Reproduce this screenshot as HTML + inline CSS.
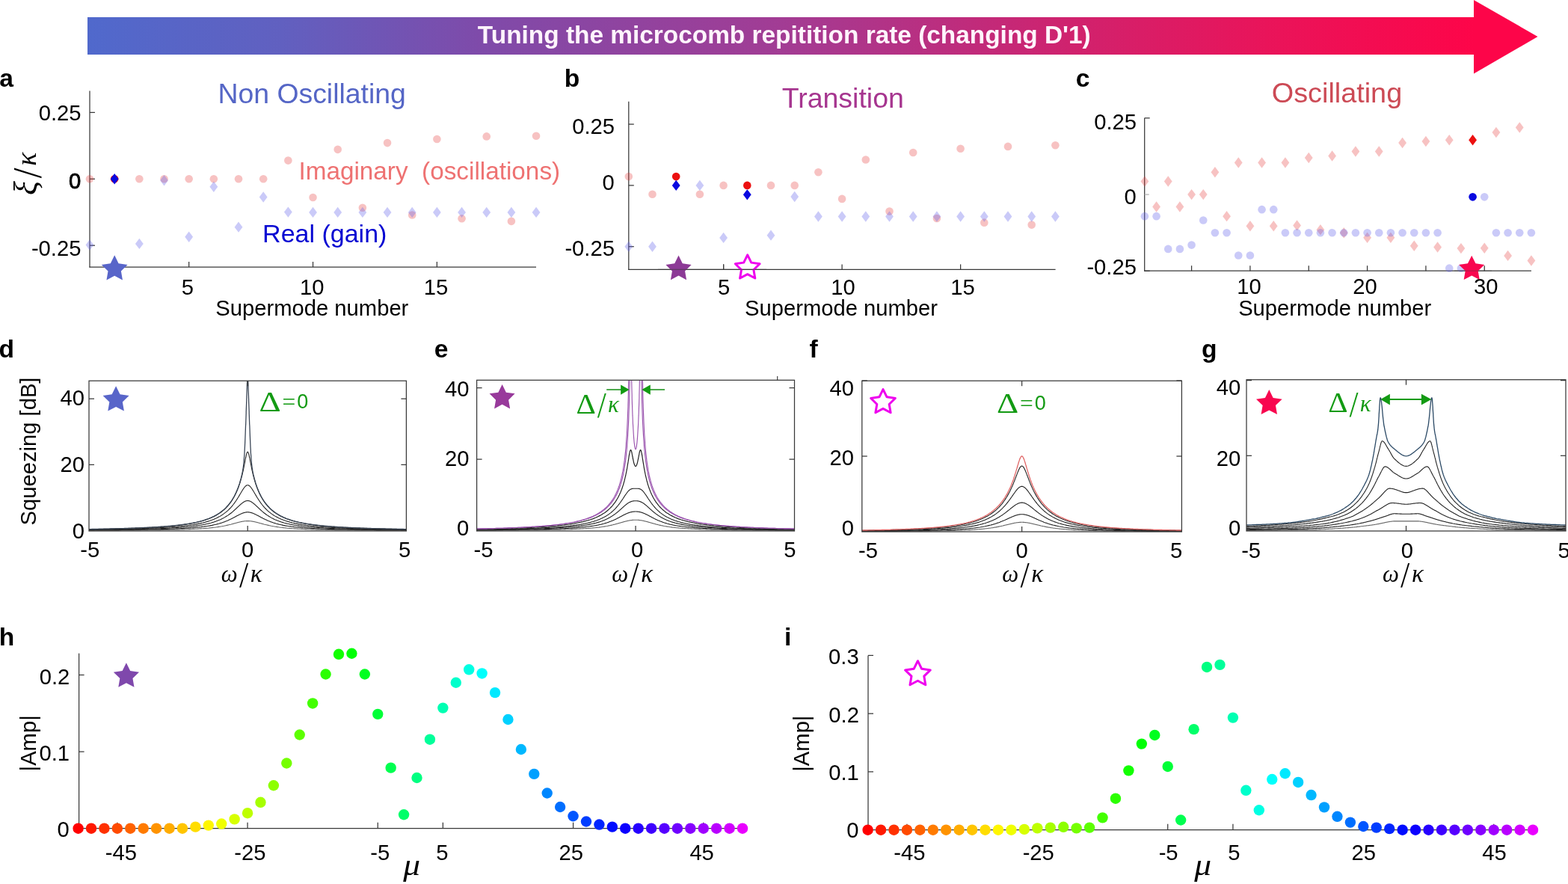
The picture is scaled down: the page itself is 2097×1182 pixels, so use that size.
<!DOCTYPE html>
<html><head><meta charset="utf-8"><title>Microcomb supermode tuning</title>
<style>html,body{margin:0;padding:0;background:#fff;overflow:hidden;} svg{display:block;}</style></head>
<body>
<svg width="2097" height="1182" viewBox="0 0 2097 1182">
<rect width="2097" height="1182" fill="#fff"/>
<defs><linearGradient id="bg" gradientUnits="userSpaceOnUse" x1="117" y1="0" x2="1972" y2="0"><stop offset="0" stop-color="#5069CC"/><stop offset="0.14" stop-color="#6160C0"/><stop offset="0.28" stop-color="#7E4BAA"/><stop offset="0.50" stop-color="#A23C94"/><stop offset="0.72" stop-color="#D2216C"/><stop offset="0.85" stop-color="#E9145A"/><stop offset="1" stop-color="#FD0549"/></linearGradient></defs>
<polygon points="117,23 1971,23 1971,0 2056.5,49 1971,98.5 1971,73 117,73" fill="url(#bg)"/>
<text x="638.87" y="57.6" font-family="'Liberation Sans', Arial, Helvetica, sans-serif" font-size="33.4" font-weight="bold" font-style="normal" fill="#FFF4FC" >Tuning the microcomb repitition rate (changing D'1)</text>
<text x="-0.71" y="116.3" font-family="'Liberation Sans', Arial, Helvetica, sans-serif" font-size="33.6" font-weight="bold" font-style="normal" fill="#000" >a</text>
<text x="754.72" y="116.3" font-family="'Liberation Sans', Arial, Helvetica, sans-serif" font-size="33.6" font-weight="bold" font-style="normal" fill="#000" >b</text>
<text x="1438.66" y="116.3" font-family="'Liberation Sans', Arial, Helvetica, sans-serif" font-size="33.6" font-weight="bold" font-style="normal" fill="#000" >c</text>
<text x="-1.64" y="478.2" font-family="'Liberation Sans', Arial, Helvetica, sans-serif" font-size="33.6" font-weight="bold" font-style="normal" fill="#000" >d</text>
<text x="580.86" y="478.2" font-family="'Liberation Sans', Arial, Helvetica, sans-serif" font-size="33.6" font-weight="bold" font-style="normal" fill="#000" >e</text>
<text x="1082.5" y="478.2" font-family="'Liberation Sans', Arial, Helvetica, sans-serif" font-size="33.6" font-weight="bold" font-style="normal" fill="#000" >f</text>
<text x="1607.06" y="478.2" font-family="'Liberation Sans', Arial, Helvetica, sans-serif" font-size="33.6" font-weight="bold" font-style="normal" fill="#000" >g</text>
<text x="-1.35" y="862.6" font-family="'Liberation Sans', Arial, Helvetica, sans-serif" font-size="33.6" font-weight="bold" font-style="normal" fill="#000" >h</text>
<text x="1048.95" y="862.6" font-family="'Liberation Sans', Arial, Helvetica, sans-serif" font-size="33.6" font-weight="bold" font-style="normal" fill="#000" >i</text>
<line x1="120" y1="121.5" x2="120" y2="357.62" stroke="#383838" stroke-width="1.25"/>
<line x1="119.38" y1="357" x2="717" y2="357" stroke="#383838" stroke-width="1.25"/>
<line x1="120" y1="150.4" x2="127" y2="150.4" stroke="#383838" stroke-width="1.25"/>
<text x="51.67" y="161.07" font-family="'Liberation Sans', Arial, Helvetica, sans-serif" font-size="29.2" font-weight="normal" font-style="normal" fill="#000" >0.25</text>
<line x1="120" y1="239.3" x2="127" y2="239.3" stroke="#383838" stroke-width="1.25"/>
<text x="92.12" y="252.07" font-family="'Liberation Sans', Arial, Helvetica, sans-serif" font-size="29.2" font-weight="normal" font-style="normal" fill="#000" stroke="#000" stroke-width="0.9">0</text>
<line x1="120" y1="328.2" x2="127" y2="328.2" stroke="#383838" stroke-width="1.25"/>
<text x="41.89" y="341.67" font-family="'Liberation Sans', Arial, Helvetica, sans-serif" font-size="29.2" font-weight="normal" font-style="normal" fill="#000" >-0.25</text>
<line x1="252.68" y1="357" x2="252.68" y2="350" stroke="#383838" stroke-width="1.25"/>
<text x="242.7" y="393.61" font-family="'Liberation Sans', Arial, Helvetica, sans-serif" font-size="29.2" font-weight="normal" font-style="normal" fill="#000" >5</text>
<line x1="418.53" y1="357" x2="418.53" y2="350" stroke="#383838" stroke-width="1.25"/>
<text x="400.91" y="393.61" font-family="'Liberation Sans', Arial, Helvetica, sans-serif" font-size="29.2" font-weight="normal" font-style="normal" fill="#000" >10</text>
<line x1="584.38" y1="357" x2="584.38" y2="350" stroke="#383838" stroke-width="1.25"/>
<text x="566.78" y="393.61" font-family="'Liberation Sans', Arial, Helvetica, sans-serif" font-size="29.2" font-weight="normal" font-style="normal" fill="#000" >15</text>
<text x="288.37" y="421.5" font-family="'Liberation Sans', Arial, Helvetica, sans-serif" font-size="29.2" font-weight="normal" font-style="normal" fill="#000" >Supermode number</text>
<circle cx="120" cy="239.3" r="5.3" fill="#E63434" fill-opacity="0.3"/>
<circle cx="186.34" cy="239.3" r="5.3" fill="#E63434" fill-opacity="0.3"/>
<circle cx="219.51" cy="239.3" r="5.3" fill="#E63434" fill-opacity="0.3"/>
<circle cx="252.68" cy="239.3" r="5.3" fill="#E63434" fill-opacity="0.3"/>
<circle cx="285.85" cy="239.3" r="5.3" fill="#E63434" fill-opacity="0.3"/>
<circle cx="319.02" cy="239.3" r="5.3" fill="#E63434" fill-opacity="0.3"/>
<circle cx="352.19" cy="239.3" r="5.3" fill="#E63434" fill-opacity="0.3"/>
<circle cx="385.36" cy="214.59" r="5.3" fill="#E63434" fill-opacity="0.3"/>
<circle cx="418.53" cy="264.01" r="5.3" fill="#E63434" fill-opacity="0.3"/>
<circle cx="451.7" cy="199.83" r="5.3" fill="#E63434" fill-opacity="0.3"/>
<circle cx="484.87" cy="277.7" r="5.3" fill="#E63434" fill-opacity="0.3"/>
<circle cx="518.04" cy="191.12" r="5.3" fill="#E63434" fill-opacity="0.3"/>
<circle cx="551.21" cy="287.48" r="5.3" fill="#E63434" fill-opacity="0.3"/>
<circle cx="584.38" cy="185.96" r="5.3" fill="#E63434" fill-opacity="0.3"/>
<circle cx="617.55" cy="292.28" r="5.3" fill="#E63434" fill-opacity="0.3"/>
<circle cx="650.72" cy="182.4" r="5.3" fill="#E63434" fill-opacity="0.3"/>
<circle cx="683.89" cy="295.84" r="5.3" fill="#E63434" fill-opacity="0.3"/>
<circle cx="717.06" cy="181.69" r="5.3" fill="#E63434" fill-opacity="0.3"/>
<polygon points="120,320.29 125.4,327.49 120,334.69 114.6,327.49" fill="#6565EA" fill-opacity="0.34"/>
<polygon points="186.34,318.69 191.74,325.89 186.34,333.09 180.94,325.89" fill="#6565EA" fill-opacity="0.34"/>
<polygon points="219.51,234.09 224.91,241.29 219.51,248.49 214.11,241.29" fill="#6565EA" fill-opacity="0.34"/>
<polygon points="252.68,309.51 258.08,316.71 252.68,323.91 247.28,316.71" fill="#6565EA" fill-opacity="0.34"/>
<polygon points="285.85,242.59 291.25,249.79 285.85,256.99 280.45,249.79" fill="#6565EA" fill-opacity="0.34"/>
<polygon points="319.02,296.46 324.42,303.66 319.02,310.86 313.62,303.66" fill="#6565EA" fill-opacity="0.34"/>
<polygon points="352.19,256.28 357.59,263.48 352.19,270.68 346.79,263.48" fill="#6565EA" fill-opacity="0.34"/>
<polygon points="385.36,276.41 390.76,283.61 385.36,290.81 379.96,283.61" fill="#6565EA" fill-opacity="0.34"/>
<polygon points="418.53,276.69 423.93,283.89 418.53,291.09 413.13,283.89" fill="#6565EA" fill-opacity="0.34"/>
<polygon points="451.7,276.69 457.1,283.89 451.7,291.09 446.3,283.89" fill="#6565EA" fill-opacity="0.34"/>
<polygon points="484.87,276.69 490.27,283.89 484.87,291.09 479.47,283.89" fill="#6565EA" fill-opacity="0.34"/>
<polygon points="518.04,276.69 523.44,283.89 518.04,291.09 512.64,283.89" fill="#6565EA" fill-opacity="0.34"/>
<polygon points="551.21,276.69 556.61,283.89 551.21,291.09 545.81,283.89" fill="#6565EA" fill-opacity="0.34"/>
<polygon points="584.38,276.69 589.78,283.89 584.38,291.09 578.98,283.89" fill="#6565EA" fill-opacity="0.34"/>
<polygon points="617.55,276.69 622.95,283.89 617.55,291.09 612.15,283.89" fill="#6565EA" fill-opacity="0.34"/>
<polygon points="650.72,276.69 656.12,283.89 650.72,291.09 645.32,283.89" fill="#6565EA" fill-opacity="0.34"/>
<polygon points="683.89,276.69 689.29,283.89 683.89,291.09 678.49,283.89" fill="#6565EA" fill-opacity="0.34"/>
<polygon points="717.06,276.69 722.46,283.89 717.06,291.09 711.66,283.89" fill="#6565EA" fill-opacity="0.34"/>
<circle cx="153.17" cy="239.3" r="5.3" fill="#EC1010"/>
<polygon points="153.17,232.1 158.57,239.3 153.17,246.5 147.77,239.3" fill="#0808E0"/>
<text x="291.41" y="138" font-family="'Liberation Sans', Arial, Helvetica, sans-serif" font-size="37.4" font-weight="normal" font-style="normal" fill="#5566C6" >Non Oscillating</text>
<text x="399.4" y="240.2" font-family="'Liberation Sans', Arial, Helvetica, sans-serif" font-size="33.3" font-weight="normal" font-style="normal" fill="#EE7272" >Imaginary &#160;(oscillations)</text>
<text x="351.08" y="323.5" font-family="'Liberation Sans', Arial, Helvetica, sans-serif" font-size="34" font-weight="normal" font-style="normal" fill="#0606D2" >Real (gain)</text>
<g transform="translate(47.6,0) rotate(-90)">
<text x="-261.08" y="1" font-family="'Liberation Serif', 'Times New Roman', serif" font-size="44" font-weight="normal" font-style="italic">ξ</text>
<text x="-238.95" y="4.84" font-family="'DejaVu Sans', sans-serif" font-size="44.8" font-weight="200" font-style="normal">/</text>
<text x="-221.69" y="0" font-family="'Liberation Serif', 'Times New Roman', serif" font-size="37.5" font-weight="normal" font-style="italic">κ</text>
</g>
<polygon points="153.2,341.3 158.58,352.2 170.6,353.94 161.9,362.43 163.96,374.41 153.2,368.75 142.44,374.41 144.5,362.43 135.8,353.94 147.82,352.2" fill="#5865C9"/>
<line x1="840.8" y1="135.7" x2="840.8" y2="361.02" stroke="#383838" stroke-width="1.25"/>
<line x1="840.17" y1="360.4" x2="1411.6" y2="360.4" stroke="#383838" stroke-width="1.25"/>
<line x1="840.8" y1="166.1" x2="847.8" y2="166.1" stroke="#383838" stroke-width="1.25"/>
<text x="765.17" y="178.97" font-family="'Liberation Sans', Arial, Helvetica, sans-serif" font-size="29.2" font-weight="normal" font-style="normal" fill="#000" >0.25</text>
<line x1="840.8" y1="247.9" x2="847.8" y2="247.9" stroke="#383838" stroke-width="1.25"/>
<text x="805.62" y="253.87" font-family="'Liberation Sans', Arial, Helvetica, sans-serif" font-size="29.2" font-weight="normal" font-style="normal" fill="#000" >0</text>
<line x1="840.8" y1="329.7" x2="847.8" y2="329.7" stroke="#383838" stroke-width="1.25"/>
<text x="755.39" y="342.27" font-family="'Liberation Sans', Arial, Helvetica, sans-serif" font-size="29.2" font-weight="normal" font-style="normal" fill="#000" >-0.25</text>
<line x1="967.6" y1="360.4" x2="967.6" y2="353.4" stroke="#383838" stroke-width="1.25"/>
<text x="960.1" y="393.61" font-family="'Liberation Sans', Arial, Helvetica, sans-serif" font-size="29.2" font-weight="normal" font-style="normal" fill="#000" >5</text>
<line x1="1126.1" y1="360.4" x2="1126.1" y2="353.4" stroke="#383838" stroke-width="1.25"/>
<text x="1111.21" y="393.61" font-family="'Liberation Sans', Arial, Helvetica, sans-serif" font-size="29.2" font-weight="normal" font-style="normal" fill="#000" >10</text>
<line x1="1284.6" y1="360.4" x2="1284.6" y2="353.4" stroke="#383838" stroke-width="1.25"/>
<text x="1271.18" y="393.61" font-family="'Liberation Sans', Arial, Helvetica, sans-serif" font-size="29.2" font-weight="normal" font-style="normal" fill="#000" >15</text>
<text x="996.07" y="421.5" font-family="'Liberation Sans', Arial, Helvetica, sans-serif" font-size="29.2" font-weight="normal" font-style="normal" fill="#000" >Supermode number</text>
<circle cx="840.8" cy="236.12" r="5.3" fill="#E63434" fill-opacity="0.3"/>
<circle cx="872.5" cy="259.68" r="5.3" fill="#E63434" fill-opacity="0.3"/>
<circle cx="935.9" cy="259.68" r="5.3" fill="#E63434" fill-opacity="0.3"/>
<circle cx="967.6" cy="247.9" r="5.3" fill="#E63434" fill-opacity="0.3"/>
<circle cx="1031" cy="247.9" r="5.3" fill="#E63434" fill-opacity="0.3"/>
<circle cx="1062.7" cy="247.9" r="5.3" fill="#E63434" fill-opacity="0.3"/>
<circle cx="1094.4" cy="230.23" r="5.3" fill="#E63434" fill-opacity="0.3"/>
<circle cx="1126.1" cy="265.9" r="5.3" fill="#E63434" fill-opacity="0.3"/>
<circle cx="1157.8" cy="213.54" r="5.3" fill="#E63434" fill-opacity="0.3"/>
<circle cx="1189.5" cy="282.58" r="5.3" fill="#E63434" fill-opacity="0.3"/>
<circle cx="1221.2" cy="204.06" r="5.3" fill="#E63434" fill-opacity="0.3"/>
<circle cx="1252.9" cy="292.07" r="5.3" fill="#E63434" fill-opacity="0.3"/>
<circle cx="1284.6" cy="198.82" r="5.3" fill="#E63434" fill-opacity="0.3"/>
<circle cx="1316.3" cy="297.63" r="5.3" fill="#E63434" fill-opacity="0.3"/>
<circle cx="1348" cy="195.88" r="5.3" fill="#E63434" fill-opacity="0.3"/>
<circle cx="1379.7" cy="300.58" r="5.3" fill="#E63434" fill-opacity="0.3"/>
<circle cx="1411.4" cy="194.24" r="5.3" fill="#E63434" fill-opacity="0.3"/>
<polygon points="840.8,322.5 846.2,329.7 840.8,336.9 835.4,329.7" fill="#6565EA" fill-opacity="0.34"/>
<polygon points="872.5,322.5 877.9,329.7 872.5,336.9 867.1,329.7" fill="#6565EA" fill-opacity="0.34"/>
<polygon points="935.9,240.7 941.3,247.9 935.9,255.1 930.5,247.9" fill="#6565EA" fill-opacity="0.34"/>
<polygon points="967.6,310.72 973,317.92 967.6,325.12 962.2,317.92" fill="#6565EA" fill-opacity="0.34"/>
<polygon points="1031,307.45 1036.4,314.65 1031,321.85 1025.6,314.65" fill="#6565EA" fill-opacity="0.34"/>
<polygon points="1062.7,255.75 1068.1,262.95 1062.7,270.15 1057.3,262.95" fill="#6565EA" fill-opacity="0.34"/>
<polygon points="1094.4,282.25 1099.8,289.45 1094.4,296.65 1089,289.45" fill="#6565EA" fill-opacity="0.34"/>
<polygon points="1126.1,282.25 1131.5,289.45 1126.1,296.65 1120.7,289.45" fill="#6565EA" fill-opacity="0.34"/>
<polygon points="1157.8,282.25 1163.2,289.45 1157.8,296.65 1152.4,289.45" fill="#6565EA" fill-opacity="0.34"/>
<polygon points="1189.5,282.25 1194.9,289.45 1189.5,296.65 1184.1,289.45" fill="#6565EA" fill-opacity="0.34"/>
<polygon points="1221.2,282.25 1226.6,289.45 1221.2,296.65 1215.8,289.45" fill="#6565EA" fill-opacity="0.34"/>
<polygon points="1252.9,282.25 1258.3,289.45 1252.9,296.65 1247.5,289.45" fill="#6565EA" fill-opacity="0.34"/>
<polygon points="1284.6,282.25 1290,289.45 1284.6,296.65 1279.2,289.45" fill="#6565EA" fill-opacity="0.34"/>
<polygon points="1316.3,282.25 1321.7,289.45 1316.3,296.65 1310.9,289.45" fill="#6565EA" fill-opacity="0.34"/>
<polygon points="1348,282.25 1353.4,289.45 1348,296.65 1342.6,289.45" fill="#6565EA" fill-opacity="0.34"/>
<polygon points="1379.7,282.25 1385.1,289.45 1379.7,296.65 1374.3,289.45" fill="#6565EA" fill-opacity="0.34"/>
<polygon points="1411.4,282.25 1416.8,289.45 1411.4,296.65 1406,289.45" fill="#6565EA" fill-opacity="0.34"/>
<circle cx="904.2" cy="236.12" r="5.3" fill="#EC1010"/>
<polygon points="904.2,240.7 909.6,247.9 904.2,255.1 898.8,247.9" fill="#0808E0"/>
<circle cx="999.3" cy="247.9" r="5.3" fill="#EC1010"/>
<polygon points="999.3,253.13 1004.7,260.33 999.3,267.53 993.9,260.33" fill="#0808E0"/>
<text x="1045.65" y="143.6" font-family="'Liberation Sans', Arial, Helvetica, sans-serif" font-size="37.5" font-weight="normal" font-style="normal" fill="#A6358F" >Transition</text>
<polygon points="907.5,341.6 912.79,352.32 924.62,354.04 916.06,362.38 918.08,374.16 907.5,368.6 896.92,374.16 898.94,362.38 890.38,354.04 902.21,352.32" fill="#8C3A96"/>
<polygon points="999.7,340.9 1004.75,351.14 1016.06,352.78 1007.88,360.76 1009.81,372.02 999.7,366.7 989.59,372.02 991.52,360.76 983.34,352.78 994.65,351.14" fill="none" stroke="#EE00EE" stroke-width="3.0" stroke-linejoin="round"/>
<line x1="880" y1="360.4" x2="1025" y2="360.4" stroke="#383838" stroke-width="1.25" stroke-opacity="0.55"/>
<line x1="967.6" y1="360.4" x2="967.6" y2="353.4" stroke="#383838" stroke-width="1.25"/>
<line x1="1530.7" y1="157.8" x2="1530.7" y2="362.82" stroke="#383838" stroke-width="1.25"/>
<line x1="1530.08" y1="362.2" x2="2047.9" y2="362.2" stroke="#383838" stroke-width="1.25"/>
<line x1="1530.7" y1="157.85" x2="1537.7" y2="157.85" stroke="#383838" stroke-width="1.25"/>
<text x="1463.17" y="173.07" font-family="'Liberation Sans', Arial, Helvetica, sans-serif" font-size="29.2" font-weight="normal" font-style="normal" fill="#000" >0.25</text>
<line x1="1530.7" y1="260.1" x2="1536.7" y2="260.1" stroke="#b0b0b0" stroke-width="1.25"/>
<text x="1503.62" y="272.77" font-family="'Liberation Sans', Arial, Helvetica, sans-serif" font-size="29.2" font-weight="normal" font-style="normal" fill="#000" >0</text>
<line x1="1530.7" y1="362.35" x2="1537.7" y2="362.35" stroke="#383838" stroke-width="1.25"/>
<text x="1453.39" y="366.67" font-family="'Liberation Sans', Arial, Helvetica, sans-serif" font-size="29.2" font-weight="normal" font-style="normal" fill="#000" >-0.25</text>
<line x1="1593.57" y1="362.2" x2="1593.57" y2="355.2" stroke="#383838" stroke-width="1.25"/>
<line x1="1671.9" y1="362.2" x2="1671.9" y2="355.2" stroke="#383838" stroke-width="1.25"/>
<text x="1654.21" y="393.41" font-family="'Liberation Sans', Arial, Helvetica, sans-serif" font-size="29.2" font-weight="normal" font-style="normal" fill="#000" >10</text>
<line x1="1750.24" y1="362.2" x2="1750.24" y2="355.2" stroke="#383838" stroke-width="1.25"/>
<line x1="1828.57" y1="362.2" x2="1828.57" y2="355.2" stroke="#383838" stroke-width="1.25"/>
<text x="1809.28" y="393.41" font-family="'Liberation Sans', Arial, Helvetica, sans-serif" font-size="29.2" font-weight="normal" font-style="normal" fill="#000" >20</text>
<line x1="1906.91" y1="362.2" x2="1906.91" y2="355.2" stroke="#383838" stroke-width="1.25"/>
<line x1="1985.24" y1="362.2" x2="1985.24" y2="355.2" stroke="#383838" stroke-width="1.25"/>
<text x="1971.12" y="393.41" font-family="'Liberation Sans', Arial, Helvetica, sans-serif" font-size="29.2" font-weight="normal" font-style="normal" fill="#000" >30</text>
<text x="1656.17" y="421.5" font-family="'Liberation Sans', Arial, Helvetica, sans-serif" font-size="29.2" font-weight="normal" font-style="normal" fill="#000" >Supermode number</text>
<polygon points="1530.9,235.31 1536.3,242.51 1530.9,249.71 1525.5,242.51" fill="#E63434" fill-opacity="0.3"/>
<polygon points="1546.57,269.26 1551.97,276.46 1546.57,283.66 1541.17,276.46" fill="#E63434" fill-opacity="0.3"/>
<polygon points="1562.23,235.31 1567.63,242.51 1562.23,249.71 1556.83,242.51" fill="#E63434" fill-opacity="0.3"/>
<polygon points="1577.9,269.26 1583.3,276.46 1577.9,283.66 1572.5,276.46" fill="#E63434" fill-opacity="0.3"/>
<polygon points="1593.57,252.9 1598.97,260.1 1593.57,267.3 1588.17,260.1" fill="#E63434" fill-opacity="0.3"/>
<polygon points="1609.24,252.9 1614.64,260.1 1609.24,267.3 1603.84,260.1" fill="#E63434" fill-opacity="0.3"/>
<polygon points="1624.9,223.04 1630.3,230.24 1624.9,237.44 1619.5,230.24" fill="#E63434" fill-opacity="0.3"/>
<polygon points="1640.57,281.94 1645.97,289.14 1640.57,296.34 1635.17,289.14" fill="#E63434" fill-opacity="0.3"/>
<polygon points="1656.24,210.36 1661.64,217.56 1656.24,224.76 1650.84,217.56" fill="#E63434" fill-opacity="0.3"/>
<polygon points="1671.9,295.03 1677.3,302.23 1671.9,309.43 1666.5,302.23" fill="#E63434" fill-opacity="0.3"/>
<polygon points="1687.57,210.36 1692.97,217.56 1687.57,224.76 1682.17,217.56" fill="#E63434" fill-opacity="0.3"/>
<polygon points="1703.24,295.03 1708.64,302.23 1703.24,309.43 1697.84,302.23" fill="#E63434" fill-opacity="0.3"/>
<polygon points="1718.9,210.36 1724.3,217.56 1718.9,224.76 1713.5,217.56" fill="#E63434" fill-opacity="0.3"/>
<polygon points="1734.57,294.21 1739.97,301.41 1734.57,308.61 1729.17,301.41" fill="#E63434" fill-opacity="0.3"/>
<polygon points="1750.24,203.82 1755.64,211.02 1750.24,218.22 1744.84,211.02" fill="#E63434" fill-opacity="0.3"/>
<polygon points="1765.91,299.94 1771.31,307.14 1765.91,314.34 1760.51,307.14" fill="#E63434" fill-opacity="0.3"/>
<polygon points="1781.57,201.37 1786.97,208.57 1781.57,215.77 1776.17,208.57" fill="#E63434" fill-opacity="0.3"/>
<polygon points="1797.24,304.03 1802.64,311.23 1797.24,318.43 1791.84,311.23" fill="#E63434" fill-opacity="0.3"/>
<polygon points="1812.91,195.23 1818.31,202.43 1812.91,209.63 1807.51,202.43" fill="#E63434" fill-opacity="0.3"/>
<polygon points="1828.57,310.57 1833.97,317.77 1828.57,324.97 1823.17,317.77" fill="#E63434" fill-opacity="0.3"/>
<polygon points="1844.24,195.23 1849.64,202.43 1844.24,209.63 1838.84,202.43" fill="#E63434" fill-opacity="0.3"/>
<polygon points="1859.91,310.57 1865.31,317.77 1859.91,324.97 1854.51,317.77" fill="#E63434" fill-opacity="0.3"/>
<polygon points="1875.57,183.78 1880.97,190.98 1875.57,198.18 1870.17,190.98" fill="#E63434" fill-opacity="0.3"/>
<polygon points="1891.24,321.61 1896.64,328.81 1891.24,336.01 1885.84,328.81" fill="#E63434" fill-opacity="0.3"/>
<polygon points="1906.91,181.73 1912.31,188.93 1906.91,196.13 1901.51,188.93" fill="#E63434" fill-opacity="0.3"/>
<polygon points="1922.58,323.25 1927.98,330.45 1922.58,337.65 1917.17,330.45" fill="#E63434" fill-opacity="0.3"/>
<polygon points="1938.24,180.1 1943.64,187.3 1938.24,194.5 1932.84,187.3" fill="#E63434" fill-opacity="0.3"/>
<polygon points="1953.91,324.88 1959.31,332.08 1953.91,339.28 1948.51,332.08" fill="#E63434" fill-opacity="0.3"/>
<polygon points="1985.24,324.48 1990.64,331.68 1985.24,338.88 1979.84,331.68" fill="#E63434" fill-opacity="0.3"/>
<polygon points="2000.91,169.87 2006.31,177.07 2000.91,184.27 1995.51,177.07" fill="#E63434" fill-opacity="0.3"/>
<polygon points="2016.58,334.7 2021.98,341.9 2016.58,349.1 2011.18,341.9" fill="#E63434" fill-opacity="0.3"/>
<polygon points="2032.24,163.33 2037.64,170.53 2032.24,177.73 2026.84,170.53" fill="#E63434" fill-opacity="0.3"/>
<polygon points="2047.91,341.24 2053.31,348.44 2047.91,355.64 2042.51,348.44" fill="#E63434" fill-opacity="0.3"/>
<circle cx="1530.9" cy="289.14" r="5.3" fill="#6565EA" fill-opacity="0.34"/>
<circle cx="1546.57" cy="289.14" r="5.3" fill="#6565EA" fill-opacity="0.34"/>
<circle cx="1562.23" cy="332.9" r="5.3" fill="#6565EA" fill-opacity="0.34"/>
<circle cx="1577.9" cy="332.9" r="5.3" fill="#6565EA" fill-opacity="0.34"/>
<circle cx="1593.57" cy="327.59" r="5.3" fill="#6565EA" fill-opacity="0.34"/>
<circle cx="1609.24" cy="294.46" r="5.3" fill="#6565EA" fill-opacity="0.34"/>
<circle cx="1624.9" cy="311.23" r="5.3" fill="#6565EA" fill-opacity="0.34"/>
<circle cx="1640.57" cy="311.23" r="5.3" fill="#6565EA" fill-opacity="0.34"/>
<circle cx="1656.24" cy="341.49" r="5.3" fill="#6565EA" fill-opacity="0.34"/>
<circle cx="1671.9" cy="341.49" r="5.3" fill="#6565EA" fill-opacity="0.34"/>
<circle cx="1687.57" cy="280.14" r="5.3" fill="#6565EA" fill-opacity="0.34"/>
<circle cx="1703.24" cy="280.14" r="5.3" fill="#6565EA" fill-opacity="0.34"/>
<circle cx="1718.9" cy="311.23" r="5.3" fill="#6565EA" fill-opacity="0.34"/>
<circle cx="1734.57" cy="311.23" r="5.3" fill="#6565EA" fill-opacity="0.34"/>
<circle cx="1750.24" cy="311.23" r="5.3" fill="#6565EA" fill-opacity="0.34"/>
<circle cx="1765.91" cy="311.23" r="5.3" fill="#6565EA" fill-opacity="0.34"/>
<circle cx="1781.57" cy="311.23" r="5.3" fill="#6565EA" fill-opacity="0.34"/>
<circle cx="1797.24" cy="311.23" r="5.3" fill="#6565EA" fill-opacity="0.34"/>
<circle cx="1812.91" cy="311.23" r="5.3" fill="#6565EA" fill-opacity="0.34"/>
<circle cx="1828.57" cy="311.23" r="5.3" fill="#6565EA" fill-opacity="0.34"/>
<circle cx="1844.24" cy="311.23" r="5.3" fill="#6565EA" fill-opacity="0.34"/>
<circle cx="1859.91" cy="311.23" r="5.3" fill="#6565EA" fill-opacity="0.34"/>
<circle cx="1875.57" cy="311.23" r="5.3" fill="#6565EA" fill-opacity="0.34"/>
<circle cx="1891.24" cy="311.23" r="5.3" fill="#6565EA" fill-opacity="0.34"/>
<circle cx="1906.91" cy="311.23" r="5.3" fill="#6565EA" fill-opacity="0.34"/>
<circle cx="1922.58" cy="311.23" r="5.3" fill="#6565EA" fill-opacity="0.34"/>
<circle cx="1938.24" cy="358.67" r="5.3" fill="#6565EA" fill-opacity="0.34"/>
<circle cx="1953.91" cy="358.67" r="5.3" fill="#6565EA" fill-opacity="0.34"/>
<circle cx="1985.24" cy="263.37" r="5.3" fill="#6565EA" fill-opacity="0.34"/>
<circle cx="2000.91" cy="311.23" r="5.3" fill="#6565EA" fill-opacity="0.34"/>
<circle cx="2016.58" cy="311.23" r="5.3" fill="#6565EA" fill-opacity="0.34"/>
<circle cx="2032.24" cy="311.23" r="5.3" fill="#6565EA" fill-opacity="0.34"/>
<circle cx="2047.91" cy="311.23" r="5.3" fill="#6565EA" fill-opacity="0.34"/>
<polygon points="1969.58,180.1 1974.98,187.3 1969.58,194.5 1964.18,187.3" fill="#EC1010"/>
<circle cx="1969.58" cy="263.37" r="5.3" fill="#0808E0"/>
<text x="1700.8" y="136.9" font-family="'Liberation Sans', Arial, Helvetica, sans-serif" font-size="37.8" font-weight="normal" font-style="normal" fill="#CC4A55" >Oscillating</text>
<polygon points="1968.2,341.7 1973.46,352.36 1985.22,354.07 1976.71,362.37 1978.72,374.08 1968.2,368.55 1957.68,374.08 1959.69,362.37 1951.18,354.07 1962.94,352.36" fill="#F8064F"/>
<line x1="1945" y1="362.2" x2="1995" y2="362.2" stroke="#383838" stroke-width="1.25" stroke-opacity="0.35"/>
<clipPath id="clipd"><rect x="119" y="509.2" width="424.4" height="200.8"/></clipPath>
<g clip-path="url(#clipd)" fill="none" stroke-linejoin="round">
<polyline points="119.0,709.2 120.3,709.2 121.7,709.2 123.0,709.2 124.3,709.2 125.6,709.2 127.0,709.2 128.3,709.2 129.6,709.2 130.9,709.2 132.3,709.2 133.6,709.2 134.9,709.2 136.2,709.2 137.6,709.2 138.9,709.2 140.2,709.1 141.5,709.1 142.9,709.1 144.2,709.1 145.5,709.1 146.9,709.1 148.2,709.1 149.5,709.1 150.8,709.1 152.2,709.1 153.5,709.1 154.8,709.1 156.1,709.1 157.5,709.1 158.8,709.1 160.1,709.0 161.4,709.0 162.8,709.0 164.1,709.0 165.4,709.0 166.7,709.0 168.1,709.0 169.4,709.0 170.7,709.0 172.1,709.0 173.4,709.0 174.7,709.0 176.0,708.9 177.4,708.9 178.7,708.9 180.0,708.9 181.3,708.9 182.7,708.9 184.0,708.9 185.3,708.9 186.6,708.9 188.0,708.9 189.3,708.8 190.6,708.8 191.9,708.8 193.3,708.8 194.6,708.8 195.9,708.8 197.2,708.8 198.6,708.8 199.9,708.7 201.2,708.7 202.6,708.7 203.9,708.7 205.2,708.7 206.5,708.7 207.9,708.6 209.2,708.6 210.5,708.6 211.8,708.6 213.2,708.6 214.5,708.6 215.8,708.5 217.1,708.5 218.5,708.5 219.8,708.5 221.1,708.5 222.4,708.4 223.8,708.4 225.1,708.4 226.4,708.4 227.8,708.3 229.1,708.3 230.4,708.3 231.7,708.2 233.1,708.2 234.4,708.2 235.7,708.2 237.0,708.1 238.4,708.1 239.7,708.1 241.0,708.0 242.3,708.0 243.7,707.9 245.0,707.9 246.3,707.9 247.6,707.8 249.0,707.8 250.3,707.7 251.6,707.7 253.0,707.6 254.3,707.6 255.6,707.5 256.9,707.5 258.3,707.4 259.6,707.4 260.9,707.3 262.2,707.2 263.6,707.2 264.9,707.1 266.2,707.0 267.5,706.9 268.9,706.9 270.2,706.8 271.5,706.7 272.8,706.6 274.2,706.5 275.5,706.4 276.8,706.3 278.1,706.2 279.5,706.0 280.8,705.9 282.1,705.8 283.5,705.6 284.8,705.5 286.1,705.3 287.4,705.2 288.8,705.0 290.1,704.8 291.4,704.6 292.7,704.4 294.1,704.2 295.4,704.0 296.7,703.8 298.0,703.5 299.4,703.3 300.7,703.0 302.0,702.7 303.3,702.4 304.7,702.1 306.0,701.8 307.3,701.5 308.7,701.2 310.0,700.8 310.4,700.7 310.8,700.6 311.3,700.5 311.3,700.5 311.7,700.4 312.1,700.3 312.5,700.1 312.6,700.1 313.0,700.0 313.4,699.9 313.8,699.8 314.0,699.7 314.2,699.7 314.6,699.6 315.1,699.4 315.3,699.4 315.5,699.3 315.9,699.2 316.3,699.1 316.6,699.0 316.8,699.0 317.2,698.9 317.6,698.8 317.9,698.7 318.0,698.6 318.5,698.5 318.9,698.4 319.3,698.3 319.3,698.3 319.7,698.2 320.2,698.1 320.6,698.0 321.0,697.9 321.4,697.8 321.9,697.7 321.9,697.7 322.3,697.6 322.7,697.5 323.1,697.4 323.2,697.4 323.6,697.4 324.0,697.3 324.4,697.2 324.6,697.2 324.8,697.1 325.3,697.1 325.7,697.0 325.9,697.0 326.1,696.9 326.5,696.9 327.0,696.8 327.2,696.8 327.4,696.8 327.8,696.7 328.2,696.7 328.5,696.7 328.7,696.7 329.1,696.6 329.2,696.6 329.2,696.6 329.3,696.6 329.4,696.6 329.5,696.6 329.6,696.6 329.7,696.6 329.8,696.6 329.8,696.6 329.9,696.6 329.9,696.6 330.0,696.6 330.1,696.6 330.2,696.6 330.3,696.6 330.4,696.6 330.4,696.6 330.5,696.6 330.6,696.6 330.7,696.6 330.8,696.6 330.9,696.6 330.9,696.6 331.0,696.6 331.1,696.6 331.2,696.6 331.3,696.6 331.4,696.6 331.5,696.6 331.5,696.6 331.6,696.6 331.7,696.6 331.8,696.6 331.9,696.6 332.0,696.6 332.0,696.6 332.1,696.6 332.2,696.6 332.3,696.6 332.4,696.6 332.5,696.6 332.5,696.6 332.6,696.6 332.6,696.6 332.7,696.6 332.8,696.6 332.9,696.6 333.0,696.6 333.1,696.6 333.2,696.6 333.2,696.6 333.3,696.6 333.7,696.7 333.9,696.7 334.2,696.7 334.6,696.7 335.0,696.8 335.2,696.8 335.4,696.8 335.9,696.9 336.3,696.9 336.5,697.0 336.7,697.0 337.1,697.1 337.6,697.1 337.8,697.2 338.0,697.2 338.4,697.3 338.8,697.4 339.2,697.4 339.3,697.4 339.7,697.5 340.1,697.6 340.5,697.7 340.5,697.7 341.0,697.8 341.4,697.9 341.8,698.0 342.2,698.1 342.7,698.2 343.1,698.3 343.1,698.3 343.5,698.4 343.9,698.5 344.4,698.6 344.5,698.7 344.8,698.8 345.2,698.9 345.6,699.0 345.8,699.0 346.1,699.1 346.5,699.2 346.9,699.3 347.1,699.4 347.3,699.4 347.8,699.6 348.2,699.7 348.4,699.7 348.6,699.8 349.0,699.9 349.4,700.0 349.8,700.1 349.9,700.1 350.3,700.3 350.7,700.4 351.1,700.5 351.1,700.5 351.6,700.6 352.0,700.7 352.4,700.8 353.7,701.2 355.1,701.5 356.4,701.8 357.7,702.1 359.1,702.4 360.4,702.7 361.7,703.0 363.0,703.3 364.4,703.5 365.7,703.8 367.0,704.0 368.3,704.2 369.7,704.4 371.0,704.6 372.3,704.8 373.6,705.0 375.0,705.2 376.3,705.3 377.6,705.5 378.9,705.6 380.3,705.8 381.6,705.9 382.9,706.0 384.2,706.2 385.6,706.3 386.9,706.4 388.2,706.5 389.6,706.6 390.9,706.7 392.2,706.8 393.5,706.9 394.9,706.9 396.2,707.0 397.5,707.1 398.8,707.2 400.2,707.2 401.5,707.3 402.8,707.4 404.1,707.4 405.5,707.5 406.8,707.5 408.1,707.6 409.4,707.6 410.8,707.7 412.1,707.7 413.4,707.8 414.8,707.8 416.1,707.9 417.4,707.9 418.7,707.9 420.1,708.0 421.4,708.0 422.7,708.1 424.0,708.1 425.4,708.1 426.7,708.2 428.0,708.2 429.3,708.2 430.7,708.2 432.0,708.3 433.3,708.3 434.6,708.3 436.0,708.4 437.3,708.4 438.6,708.4 440.0,708.4 441.3,708.5 442.6,708.5 443.9,708.5 445.3,708.5 446.6,708.5 447.9,708.6 449.2,708.6 450.6,708.6 451.9,708.6 453.2,708.6 454.5,708.6 455.9,708.7 457.2,708.7 458.5,708.7 459.8,708.7 461.2,708.7 462.5,708.7 463.8,708.8 465.2,708.8 466.5,708.8 467.8,708.8 469.1,708.8 470.5,708.8 471.8,708.8 473.1,708.8 474.4,708.9 475.8,708.9 477.1,708.9 478.4,708.9 479.7,708.9 481.1,708.9 482.4,708.9 483.7,708.9 485.0,708.9 486.4,708.9 487.7,709.0 489.0,709.0 490.4,709.0 491.7,709.0 493.0,709.0 494.3,709.0 495.7,709.0 497.0,709.0 498.3,709.0 499.6,709.0 501.0,709.0 502.3,709.0 503.6,709.1 504.9,709.1 506.3,709.1 507.6,709.1 508.9,709.1 510.2,709.1 511.6,709.1 512.9,709.1 514.2,709.1 515.5,709.1 516.9,709.1 518.2,709.1 519.5,709.1 520.9,709.1 522.2,709.1 523.5,709.2 524.8,709.2 526.2,709.2 527.5,709.2 528.8,709.2 530.1,709.2 531.5,709.2 532.8,709.2 534.1,709.2 535.4,709.2 536.8,709.2 538.1,709.2 539.4,709.2 540.7,709.2 542.1,709.2 543.4,709.2" stroke="#666666" stroke-width="1.1"/>
<polyline points="119.0,708.9 120.3,708.9 121.7,708.9 123.0,708.9 124.3,708.9 125.6,708.9 127.0,708.8 128.3,708.8 129.6,708.8 130.9,708.8 132.3,708.8 133.6,708.8 134.9,708.8 136.2,708.8 137.6,708.8 138.9,708.8 140.2,708.8 141.5,708.7 142.9,708.7 144.2,708.7 145.5,708.7 146.9,708.7 148.2,708.7 149.5,708.7 150.8,708.7 152.2,708.7 153.5,708.6 154.8,708.6 156.1,708.6 157.5,708.6 158.8,708.6 160.1,708.6 161.4,708.6 162.8,708.5 164.1,708.5 165.4,708.5 166.7,708.5 168.1,708.5 169.4,708.5 170.7,708.5 172.1,708.4 173.4,708.4 174.7,708.4 176.0,708.4 177.4,708.4 178.7,708.4 180.0,708.3 181.3,708.3 182.7,708.3 184.0,708.3 185.3,708.3 186.6,708.2 188.0,708.2 189.3,708.2 190.6,708.2 191.9,708.2 193.3,708.1 194.6,708.1 195.9,708.1 197.2,708.1 198.6,708.0 199.9,708.0 201.2,708.0 202.6,708.0 203.9,707.9 205.2,707.9 206.5,707.9 207.9,707.8 209.2,707.8 210.5,707.8 211.8,707.7 213.2,707.7 214.5,707.7 215.8,707.6 217.1,707.6 218.5,707.6 219.8,707.5 221.1,707.5 222.4,707.4 223.8,707.4 225.1,707.3 226.4,707.3 227.8,707.3 229.1,707.2 230.4,707.2 231.7,707.1 233.1,707.1 234.4,707.0 235.7,706.9 237.0,706.9 238.4,706.8 239.7,706.8 241.0,706.7 242.3,706.6 243.7,706.6 245.0,706.5 246.3,706.4 247.6,706.3 249.0,706.3 250.3,706.2 251.6,706.1 253.0,706.0 254.3,705.9 255.6,705.8 256.9,705.7 258.3,705.6 259.6,705.5 260.9,705.4 262.2,705.3 263.6,705.1 264.9,705.0 266.2,704.9 267.5,704.7 268.9,704.6 270.2,704.4 271.5,704.2 272.8,704.1 274.2,703.9 275.5,703.7 276.8,703.5 278.1,703.3 279.5,703.1 280.8,702.9 282.1,702.6 283.5,702.4 284.8,702.1 286.1,701.8 287.4,701.5 288.8,701.2 290.1,700.9 291.4,700.5 292.7,700.2 294.1,699.8 295.4,699.4 296.7,699.0 298.0,698.5 299.4,698.0 300.7,697.6 302.0,697.0 303.3,696.5 304.7,695.9 306.0,695.3 307.3,694.7 308.7,694.1 310.0,693.4 310.4,693.2 310.8,693.0 311.3,692.8 311.3,692.8 311.7,692.6 312.1,692.3 312.5,692.1 312.6,692.1 313.0,691.9 313.4,691.7 313.8,691.4 314.0,691.4 314.2,691.2 314.6,691.0 315.1,690.8 315.3,690.6 315.5,690.5 315.9,690.3 316.3,690.1 316.6,689.9 316.8,689.8 317.2,689.6 317.6,689.4 317.9,689.2 318.0,689.2 318.5,688.9 318.9,688.7 319.3,688.5 319.3,688.5 319.7,688.3 320.2,688.1 320.6,687.9 321.0,687.6 321.4,687.4 321.9,687.2 321.9,687.2 322.3,687.1 322.7,686.9 323.1,686.7 323.2,686.6 323.6,686.5 324.0,686.3 324.4,686.2 324.6,686.1 324.8,686.0 325.3,685.9 325.7,685.7 325.9,685.7 326.1,685.6 326.5,685.5 327.0,685.4 327.2,685.3 327.4,685.3 327.8,685.2 328.2,685.1 328.5,685.1 328.7,685.0 329.1,685.0 329.2,685.0 329.2,685.0 329.3,684.9 329.4,684.9 329.5,684.9 329.6,684.9 329.7,684.9 329.8,684.9 329.8,684.9 329.9,684.9 329.9,684.9 330.0,684.9 330.1,684.9 330.2,684.9 330.3,684.9 330.4,684.9 330.4,684.9 330.5,684.8 330.6,684.8 330.7,684.8 330.8,684.8 330.9,684.8 330.9,684.8 331.0,684.8 331.1,684.8 331.2,684.8 331.3,684.8 331.4,684.8 331.5,684.8 331.5,684.8 331.6,684.8 331.7,684.8 331.8,684.8 331.9,684.8 332.0,684.9 332.0,684.9 332.1,684.9 332.2,684.9 332.3,684.9 332.4,684.9 332.5,684.9 332.5,684.9 332.6,684.9 332.6,684.9 332.7,684.9 332.8,684.9 332.9,684.9 333.0,684.9 333.1,684.9 333.2,685.0 333.2,685.0 333.3,685.0 333.7,685.0 333.9,685.1 334.2,685.1 334.6,685.2 335.0,685.3 335.2,685.3 335.4,685.4 335.9,685.5 336.3,685.6 336.5,685.7 336.7,685.7 337.1,685.9 337.6,686.0 337.8,686.1 338.0,686.2 338.4,686.3 338.8,686.5 339.2,686.6 339.3,686.7 339.7,686.9 340.1,687.1 340.5,687.2 340.5,687.2 341.0,687.4 341.4,687.6 341.8,687.9 342.2,688.1 342.7,688.3 343.1,688.5 343.1,688.5 343.5,688.7 343.9,688.9 344.4,689.2 344.5,689.2 344.8,689.4 345.2,689.6 345.6,689.8 345.8,689.9 346.1,690.1 346.5,690.3 346.9,690.5 347.1,690.6 347.3,690.8 347.8,691.0 348.2,691.2 348.4,691.4 348.6,691.4 349.0,691.7 349.4,691.9 349.8,692.1 349.9,692.1 350.3,692.3 350.7,692.6 351.1,692.8 351.1,692.8 351.6,693.0 352.0,693.2 352.4,693.4 353.7,694.1 355.1,694.7 356.4,695.3 357.7,695.9 359.1,696.5 360.4,697.0 361.7,697.6 363.0,698.0 364.4,698.5 365.7,699.0 367.0,699.4 368.3,699.8 369.7,700.2 371.0,700.5 372.3,700.9 373.6,701.2 375.0,701.5 376.3,701.8 377.6,702.1 378.9,702.4 380.3,702.6 381.6,702.9 382.9,703.1 384.2,703.3 385.6,703.5 386.9,703.7 388.2,703.9 389.6,704.1 390.9,704.2 392.2,704.4 393.5,704.6 394.9,704.7 396.2,704.9 397.5,705.0 398.8,705.1 400.2,705.3 401.5,705.4 402.8,705.5 404.1,705.6 405.5,705.7 406.8,705.8 408.1,705.9 409.4,706.0 410.8,706.1 412.1,706.2 413.4,706.3 414.8,706.3 416.1,706.4 417.4,706.5 418.7,706.6 420.1,706.6 421.4,706.7 422.7,706.8 424.0,706.8 425.4,706.9 426.7,706.9 428.0,707.0 429.3,707.1 430.7,707.1 432.0,707.2 433.3,707.2 434.6,707.3 436.0,707.3 437.3,707.3 438.6,707.4 440.0,707.4 441.3,707.5 442.6,707.5 443.9,707.6 445.3,707.6 446.6,707.6 447.9,707.7 449.2,707.7 450.6,707.7 451.9,707.8 453.2,707.8 454.5,707.8 455.9,707.9 457.2,707.9 458.5,707.9 459.8,708.0 461.2,708.0 462.5,708.0 463.8,708.0 465.2,708.1 466.5,708.1 467.8,708.1 469.1,708.1 470.5,708.2 471.8,708.2 473.1,708.2 474.4,708.2 475.8,708.2 477.1,708.3 478.4,708.3 479.7,708.3 481.1,708.3 482.4,708.3 483.7,708.4 485.0,708.4 486.4,708.4 487.7,708.4 489.0,708.4 490.4,708.4 491.7,708.5 493.0,708.5 494.3,708.5 495.7,708.5 497.0,708.5 498.3,708.5 499.6,708.5 501.0,708.6 502.3,708.6 503.6,708.6 504.9,708.6 506.3,708.6 507.6,708.6 508.9,708.6 510.2,708.7 511.6,708.7 512.9,708.7 514.2,708.7 515.5,708.7 516.9,708.7 518.2,708.7 519.5,708.7 520.9,708.7 522.2,708.8 523.5,708.8 524.8,708.8 526.2,708.8 527.5,708.8 528.8,708.8 530.1,708.8 531.5,708.8 532.8,708.8 534.1,708.8 535.4,708.8 536.8,708.9 538.1,708.9 539.4,708.9 540.7,708.9 542.1,708.9 543.4,708.9" stroke="#222222" stroke-width="1.1"/>
<polyline points="119.0,708.5 120.3,708.5 121.7,708.5 123.0,708.5 124.3,708.5 125.6,708.5 127.0,708.4 128.3,708.4 129.6,708.4 130.9,708.4 132.3,708.4 133.6,708.4 134.9,708.4 136.2,708.4 137.6,708.3 138.9,708.3 140.2,708.3 141.5,708.3 142.9,708.3 144.2,708.3 145.5,708.2 146.9,708.2 148.2,708.2 149.5,708.2 150.8,708.2 152.2,708.2 153.5,708.1 154.8,708.1 156.1,708.1 157.5,708.1 158.8,708.1 160.1,708.0 161.4,708.0 162.8,708.0 164.1,708.0 165.4,707.9 166.7,707.9 168.1,707.9 169.4,707.9 170.7,707.9 172.1,707.8 173.4,707.8 174.7,707.8 176.0,707.8 177.4,707.7 178.7,707.7 180.0,707.7 181.3,707.6 182.7,707.6 184.0,707.6 185.3,707.6 186.6,707.5 188.0,707.5 189.3,707.5 190.6,707.4 191.9,707.4 193.3,707.4 194.6,707.3 195.9,707.3 197.2,707.2 198.6,707.2 199.9,707.2 201.2,707.1 202.6,707.1 203.9,707.0 205.2,707.0 206.5,707.0 207.9,706.9 209.2,706.9 210.5,706.8 211.8,706.8 213.2,706.7 214.5,706.7 215.8,706.6 217.1,706.6 218.5,706.5 219.8,706.4 221.1,706.4 222.4,706.3 223.8,706.3 225.1,706.2 226.4,706.1 227.8,706.0 229.1,706.0 230.4,705.9 231.7,705.8 233.1,705.7 234.4,705.7 235.7,705.6 237.0,705.5 238.4,705.4 239.7,705.3 241.0,705.2 242.3,705.1 243.7,705.0 245.0,704.9 246.3,704.8 247.6,704.7 249.0,704.6 250.3,704.4 251.6,704.3 253.0,704.2 254.3,704.0 255.6,703.9 256.9,703.7 258.3,703.6 259.6,703.4 260.9,703.2 262.2,703.1 263.6,702.9 264.9,702.7 266.2,702.5 267.5,702.3 268.9,702.1 270.2,701.8 271.5,701.6 272.8,701.3 274.2,701.1 275.5,700.8 276.8,700.5 278.1,700.2 279.5,699.9 280.8,699.5 282.1,699.2 283.5,698.8 284.8,698.4 286.1,698.0 287.4,697.5 288.8,697.1 290.1,696.6 291.4,696.1 292.7,695.5 294.1,695.0 295.4,694.4 296.7,693.7 298.0,693.1 299.4,692.4 300.7,691.6 302.0,690.8 303.3,690.0 304.7,689.1 306.0,688.2 307.3,687.2 308.7,686.2 310.0,685.2 310.4,684.8 310.8,684.5 311.3,684.1 311.3,684.1 311.7,683.7 312.1,683.4 312.5,683.0 312.6,682.9 313.0,682.6 313.4,682.3 313.8,681.9 314.0,681.7 314.2,681.5 314.6,681.1 315.1,680.7 315.3,680.5 315.5,680.3 315.9,679.9 316.3,679.5 316.6,679.3 316.8,679.1 317.2,678.7 317.6,678.3 317.9,678.0 318.0,677.9 318.5,677.5 318.9,677.1 319.3,676.8 319.3,676.7 319.7,676.3 320.2,675.9 320.6,675.5 321.0,675.1 321.4,674.8 321.9,674.4 321.9,674.3 322.3,674.0 322.7,673.7 323.1,673.3 323.2,673.2 323.6,673.0 324.0,672.6 324.4,672.3 324.6,672.2 324.8,672.0 325.3,671.7 325.7,671.4 325.9,671.3 326.1,671.1 326.5,670.9 327.0,670.7 327.2,670.5 327.4,670.5 327.8,670.3 328.2,670.1 328.5,670.0 328.7,669.9 329.1,669.8 329.2,669.8 329.2,669.8 329.3,669.7 329.4,669.7 329.5,669.7 329.6,669.7 329.7,669.7 329.8,669.7 329.8,669.6 329.9,669.6 329.9,669.6 330.0,669.6 330.1,669.6 330.2,669.6 330.3,669.6 330.4,669.6 330.4,669.6 330.5,669.5 330.6,669.5 330.7,669.5 330.8,669.5 330.9,669.5 330.9,669.5 331.0,669.5 331.1,669.5 331.2,669.5 331.3,669.5 331.4,669.5 331.5,669.5 331.5,669.5 331.6,669.5 331.7,669.5 331.8,669.5 331.9,669.5 332.0,669.6 332.0,669.6 332.1,669.6 332.2,669.6 332.3,669.6 332.4,669.6 332.5,669.6 332.5,669.6 332.6,669.6 332.6,669.7 332.7,669.7 332.8,669.7 332.9,669.7 333.0,669.7 333.1,669.7 333.2,669.8 333.2,669.8 333.3,669.8 333.7,669.9 333.9,670.0 334.2,670.1 334.6,670.3 335.0,670.5 335.2,670.5 335.4,670.7 335.9,670.9 336.3,671.1 336.5,671.3 336.7,671.4 337.1,671.7 337.6,672.0 337.8,672.2 338.0,672.3 338.4,672.6 338.8,673.0 339.2,673.2 339.3,673.3 339.7,673.7 340.1,674.0 340.5,674.3 340.5,674.4 341.0,674.8 341.4,675.1 341.8,675.5 342.2,675.9 342.7,676.3 343.1,676.7 343.1,676.8 343.5,677.1 343.9,677.5 344.4,677.9 344.5,678.0 344.8,678.3 345.2,678.7 345.6,679.1 345.8,679.3 346.1,679.5 346.5,679.9 346.9,680.3 347.1,680.5 347.3,680.7 347.8,681.1 348.2,681.5 348.4,681.7 348.6,681.9 349.0,682.3 349.4,682.6 349.8,682.9 349.9,683.0 350.3,683.4 350.7,683.7 351.1,684.1 351.1,684.1 351.6,684.5 352.0,684.8 352.4,685.2 353.7,686.2 355.1,687.2 356.4,688.2 357.7,689.1 359.1,690.0 360.4,690.8 361.7,691.6 363.0,692.4 364.4,693.1 365.7,693.7 367.0,694.4 368.3,695.0 369.7,695.5 371.0,696.1 372.3,696.6 373.6,697.1 375.0,697.5 376.3,698.0 377.6,698.4 378.9,698.8 380.3,699.2 381.6,699.5 382.9,699.9 384.2,700.2 385.6,700.5 386.9,700.8 388.2,701.1 389.6,701.3 390.9,701.6 392.2,701.8 393.5,702.1 394.9,702.3 396.2,702.5 397.5,702.7 398.8,702.9 400.2,703.1 401.5,703.2 402.8,703.4 404.1,703.6 405.5,703.7 406.8,703.9 408.1,704.0 409.4,704.2 410.8,704.3 412.1,704.4 413.4,704.6 414.8,704.7 416.1,704.8 417.4,704.9 418.7,705.0 420.1,705.1 421.4,705.2 422.7,705.3 424.0,705.4 425.4,705.5 426.7,705.6 428.0,705.7 429.3,705.7 430.7,705.8 432.0,705.9 433.3,706.0 434.6,706.0 436.0,706.1 437.3,706.2 438.6,706.3 440.0,706.3 441.3,706.4 442.6,706.4 443.9,706.5 445.3,706.6 446.6,706.6 447.9,706.7 449.2,706.7 450.6,706.8 451.9,706.8 453.2,706.9 454.5,706.9 455.9,707.0 457.2,707.0 458.5,707.0 459.8,707.1 461.2,707.1 462.5,707.2 463.8,707.2 465.2,707.2 466.5,707.3 467.8,707.3 469.1,707.4 470.5,707.4 471.8,707.4 473.1,707.5 474.4,707.5 475.8,707.5 477.1,707.6 478.4,707.6 479.7,707.6 481.1,707.6 482.4,707.7 483.7,707.7 485.0,707.7 486.4,707.8 487.7,707.8 489.0,707.8 490.4,707.8 491.7,707.9 493.0,707.9 494.3,707.9 495.7,707.9 497.0,707.9 498.3,708.0 499.6,708.0 501.0,708.0 502.3,708.0 503.6,708.1 504.9,708.1 506.3,708.1 507.6,708.1 508.9,708.1 510.2,708.2 511.6,708.2 512.9,708.2 514.2,708.2 515.5,708.2 516.9,708.2 518.2,708.3 519.5,708.3 520.9,708.3 522.2,708.3 523.5,708.3 524.8,708.3 526.2,708.4 527.5,708.4 528.8,708.4 530.1,708.4 531.5,708.4 532.8,708.4 534.1,708.4 535.4,708.4 536.8,708.5 538.1,708.5 539.4,708.5 540.7,708.5 542.1,708.5 543.4,708.5" stroke="#222222" stroke-width="1.1"/>
<polyline points="119.0,708.1 120.3,708.1 121.7,708.1 123.0,708.1 124.3,708.1 125.6,708.0 127.0,708.0 128.3,708.0 129.6,708.0 130.9,708.0 132.3,707.9 133.6,707.9 134.9,707.9 136.2,707.9 137.6,707.9 138.9,707.8 140.2,707.8 141.5,707.8 142.9,707.8 144.2,707.8 145.5,707.7 146.9,707.7 148.2,707.7 149.5,707.7 150.8,707.6 152.2,707.6 153.5,707.6 154.8,707.6 156.1,707.5 157.5,707.5 158.8,707.5 160.1,707.5 161.4,707.4 162.8,707.4 164.1,707.4 165.4,707.3 166.7,707.3 168.1,707.3 169.4,707.3 170.7,707.2 172.1,707.2 173.4,707.2 174.7,707.1 176.0,707.1 177.4,707.0 178.7,707.0 180.0,707.0 181.3,706.9 182.7,706.9 184.0,706.9 185.3,706.8 186.6,706.8 188.0,706.7 189.3,706.7 190.6,706.6 191.9,706.6 193.3,706.6 194.6,706.5 195.9,706.5 197.2,706.4 198.6,706.4 199.9,706.3 201.2,706.2 202.6,706.2 203.9,706.1 205.2,706.1 206.5,706.0 207.9,706.0 209.2,705.9 210.5,705.8 211.8,705.8 213.2,705.7 214.5,705.6 215.8,705.6 217.1,705.5 218.5,705.4 219.8,705.3 221.1,705.2 222.4,705.2 223.8,705.1 225.1,705.0 226.4,704.9 227.8,704.8 229.1,704.7 230.4,704.6 231.7,704.5 233.1,704.4 234.4,704.3 235.7,704.2 237.0,704.1 238.4,703.9 239.7,703.8 241.0,703.7 242.3,703.6 243.7,703.4 245.0,703.3 246.3,703.1 247.6,703.0 249.0,702.8 250.3,702.7 251.6,702.5 253.0,702.3 254.3,702.1 255.6,702.0 256.9,701.8 258.3,701.6 259.6,701.3 260.9,701.1 262.2,700.9 263.6,700.6 264.9,700.4 266.2,700.1 267.5,699.9 268.9,699.6 270.2,699.3 271.5,699.0 272.8,698.6 274.2,698.3 275.5,697.9 276.8,697.5 278.1,697.1 279.5,696.7 280.8,696.3 282.1,695.8 283.5,695.3 284.8,694.8 286.1,694.3 287.4,693.7 288.8,693.1 290.1,692.5 291.4,691.8 292.7,691.1 294.1,690.4 295.4,689.6 296.7,688.8 298.0,687.9 299.4,686.9 300.7,685.9 302.0,684.9 303.3,683.8 304.7,682.6 306.0,681.3 307.3,680.0 308.7,678.6 310.0,677.1 310.4,676.6 310.8,676.1 311.3,675.5 311.3,675.5 311.7,675.0 312.1,674.5 312.5,673.9 312.6,673.8 313.0,673.4 313.4,672.8 313.8,672.2 314.0,672.0 314.2,671.6 314.6,671.0 315.1,670.4 315.3,670.1 315.5,669.8 315.9,669.2 316.3,668.5 316.6,668.1 316.8,667.9 317.2,667.2 317.6,666.5 317.9,666.0 318.0,665.9 318.5,665.2 318.9,664.5 319.3,663.9 319.3,663.8 319.7,663.1 320.2,662.4 320.6,661.6 321.0,660.9 321.4,660.2 321.9,659.5 321.9,659.4 322.3,658.8 322.7,658.0 323.1,657.3 323.2,657.1 323.6,656.6 324.0,655.9 324.4,655.2 324.6,655.0 324.8,654.5 325.3,653.9 325.7,653.3 325.9,653.0 326.1,652.7 326.5,652.1 327.0,651.5 327.2,651.2 327.4,651.0 327.8,650.6 328.2,650.1 328.5,649.8 328.7,649.8 329.1,649.4 329.2,649.4 329.2,649.3 329.3,649.3 329.4,649.2 329.5,649.2 329.6,649.1 329.7,649.1 329.8,649.0 329.8,649.0 329.9,649.0 329.9,648.9 330.0,648.9 330.1,648.9 330.2,648.8 330.3,648.8 330.4,648.8 330.4,648.8 330.5,648.7 330.6,648.7 330.7,648.7 330.8,648.7 330.9,648.7 330.9,648.7 331.0,648.7 331.1,648.7 331.2,648.7 331.3,648.7 331.4,648.7 331.5,648.7 331.5,648.7 331.6,648.7 331.7,648.7 331.8,648.7 331.9,648.7 332.0,648.8 332.0,648.8 332.1,648.8 332.2,648.8 332.3,648.9 332.4,648.9 332.5,648.9 332.5,649.0 332.6,649.0 332.6,649.0 332.7,649.1 332.8,649.1 332.9,649.2 333.0,649.2 333.1,649.3 333.2,649.3 333.2,649.4 333.3,649.4 333.7,649.8 333.9,649.8 334.2,650.1 334.6,650.6 335.0,651.0 335.2,651.2 335.4,651.5 335.9,652.1 336.3,652.7 336.5,653.0 336.7,653.3 337.1,653.9 337.6,654.5 337.8,655.0 338.0,655.2 338.4,655.9 338.8,656.6 339.2,657.1 339.3,657.3 339.7,658.0 340.1,658.8 340.5,659.4 340.5,659.5 341.0,660.2 341.4,660.9 341.8,661.6 342.2,662.4 342.7,663.1 343.1,663.8 343.1,663.9 343.5,664.5 343.9,665.2 344.4,665.9 344.5,666.0 344.8,666.5 345.2,667.2 345.6,667.9 345.8,668.1 346.1,668.5 346.5,669.2 346.9,669.8 347.1,670.1 347.3,670.4 347.8,671.0 348.2,671.6 348.4,672.0 348.6,672.2 349.0,672.8 349.4,673.4 349.8,673.8 349.9,673.9 350.3,674.5 350.7,675.0 351.1,675.5 351.1,675.5 351.6,676.1 352.0,676.6 352.4,677.1 353.7,678.6 355.1,680.0 356.4,681.3 357.7,682.6 359.1,683.8 360.4,684.9 361.7,685.9 363.0,686.9 364.4,687.9 365.7,688.8 367.0,689.6 368.3,690.4 369.7,691.1 371.0,691.8 372.3,692.5 373.6,693.1 375.0,693.7 376.3,694.3 377.6,694.8 378.9,695.3 380.3,695.8 381.6,696.3 382.9,696.7 384.2,697.1 385.6,697.5 386.9,697.9 388.2,698.3 389.6,698.6 390.9,699.0 392.2,699.3 393.5,699.6 394.9,699.9 396.2,700.1 397.5,700.4 398.8,700.6 400.2,700.9 401.5,701.1 402.8,701.3 404.1,701.6 405.5,701.8 406.8,702.0 408.1,702.1 409.4,702.3 410.8,702.5 412.1,702.7 413.4,702.8 414.8,703.0 416.1,703.1 417.4,703.3 418.7,703.4 420.1,703.6 421.4,703.7 422.7,703.8 424.0,703.9 425.4,704.1 426.7,704.2 428.0,704.3 429.3,704.4 430.7,704.5 432.0,704.6 433.3,704.7 434.6,704.8 436.0,704.9 437.3,705.0 438.6,705.1 440.0,705.2 441.3,705.2 442.6,705.3 443.9,705.4 445.3,705.5 446.6,705.6 447.9,705.6 449.2,705.7 450.6,705.8 451.9,705.8 453.2,705.9 454.5,706.0 455.9,706.0 457.2,706.1 458.5,706.1 459.8,706.2 461.2,706.2 462.5,706.3 463.8,706.4 465.2,706.4 466.5,706.5 467.8,706.5 469.1,706.6 470.5,706.6 471.8,706.6 473.1,706.7 474.4,706.7 475.8,706.8 477.1,706.8 478.4,706.9 479.7,706.9 481.1,706.9 482.4,707.0 483.7,707.0 485.0,707.0 486.4,707.1 487.7,707.1 489.0,707.2 490.4,707.2 491.7,707.2 493.0,707.3 494.3,707.3 495.7,707.3 497.0,707.3 498.3,707.4 499.6,707.4 501.0,707.4 502.3,707.5 503.6,707.5 504.9,707.5 506.3,707.5 507.6,707.6 508.9,707.6 510.2,707.6 511.6,707.6 512.9,707.7 514.2,707.7 515.5,707.7 516.9,707.7 518.2,707.8 519.5,707.8 520.9,707.8 522.2,707.8 523.5,707.8 524.8,707.9 526.2,707.9 527.5,707.9 528.8,707.9 530.1,707.9 531.5,708.0 532.8,708.0 534.1,708.0 535.4,708.0 536.8,708.0 538.1,708.1 539.4,708.1 540.7,708.1 542.1,708.1 543.4,708.1" stroke="#222222" stroke-width="1.1"/>
<polyline points="119.0,707.7 120.3,707.6 121.7,707.6 123.0,707.6 124.3,707.6 125.6,707.5 127.0,707.5 128.3,707.5 129.6,707.5 130.9,707.5 132.3,707.4 133.6,707.4 134.9,707.4 136.2,707.4 137.6,707.3 138.9,707.3 140.2,707.3 141.5,707.2 142.9,707.2 144.2,707.2 145.5,707.2 146.9,707.1 148.2,707.1 149.5,707.1 150.8,707.0 152.2,707.0 153.5,707.0 154.8,706.9 156.1,706.9 157.5,706.9 158.8,706.8 160.1,706.8 161.4,706.8 162.8,706.7 164.1,706.7 165.4,706.6 166.7,706.6 168.1,706.6 169.4,706.5 170.7,706.5 172.1,706.4 173.4,706.4 174.7,706.4 176.0,706.3 177.4,706.3 178.7,706.2 180.0,706.2 181.3,706.1 182.7,706.1 184.0,706.0 185.3,706.0 186.6,705.9 188.0,705.9 189.3,705.8 190.6,705.7 191.9,705.7 193.3,705.6 194.6,705.6 195.9,705.5 197.2,705.4 198.6,705.4 199.9,705.3 201.2,705.2 202.6,705.2 203.9,705.1 205.2,705.0 206.5,704.9 207.9,704.9 209.2,704.8 210.5,704.7 211.8,704.6 213.2,704.5 214.5,704.4 215.8,704.4 217.1,704.3 218.5,704.2 219.8,704.1 221.1,704.0 222.4,703.9 223.8,703.8 225.1,703.6 226.4,703.5 227.8,703.4 229.1,703.3 230.4,703.2 231.7,703.0 233.1,702.9 234.4,702.8 235.7,702.6 237.0,702.5 238.4,702.3 239.7,702.2 241.0,702.0 242.3,701.9 243.7,701.7 245.0,701.5 246.3,701.3 247.6,701.1 249.0,701.0 250.3,700.8 251.6,700.5 253.0,700.3 254.3,700.1 255.6,699.9 256.9,699.6 258.3,699.4 259.6,699.1 260.9,698.8 262.2,698.6 263.6,698.3 264.9,698.0 266.2,697.6 267.5,697.3 268.9,696.9 270.2,696.6 271.5,696.2 272.8,695.8 274.2,695.4 275.5,694.9 276.8,694.5 278.1,694.0 279.5,693.5 280.8,693.0 282.1,692.4 283.5,691.8 284.8,691.2 286.1,690.6 287.4,689.9 288.8,689.2 290.1,688.4 291.4,687.6 292.7,686.8 294.1,685.9 295.4,685.0 296.7,684.0 298.0,682.9 299.4,681.8 300.7,680.6 302.0,679.3 303.3,677.9 304.7,676.5 306.0,674.9 307.3,673.2 308.7,671.4 310.0,669.5 310.4,668.9 310.8,668.2 311.3,667.5 311.3,667.4 311.7,666.8 312.1,666.1 312.5,665.4 312.6,665.2 313.0,664.6 313.4,663.8 313.8,663.0 314.0,662.7 314.2,662.2 314.6,661.4 315.1,660.5 315.3,660.1 315.5,659.6 315.9,658.7 316.3,657.8 316.6,657.2 316.8,656.8 317.2,655.8 317.6,654.8 317.9,654.0 318.0,653.7 318.5,652.6 318.9,651.5 319.3,650.5 319.3,650.3 319.7,649.1 320.2,647.9 320.6,646.6 321.0,645.3 321.4,643.9 321.9,642.4 321.9,642.2 322.3,640.9 322.7,639.4 323.1,637.8 323.2,637.4 323.6,636.1 324.0,634.4 324.4,632.6 324.6,631.9 324.8,630.8 325.3,628.8 325.7,626.9 325.9,625.8 326.1,624.8 326.5,622.7 327.0,620.5 327.2,619.2 327.4,618.3 327.8,616.1 328.2,613.9 328.5,612.3 328.7,611.8 329.1,609.8 329.2,609.4 329.2,609.0 329.3,608.6 329.4,608.3 329.5,607.9 329.6,607.6 329.7,607.3 329.8,607.0 329.8,606.7 329.9,606.6 329.9,606.4 330.0,606.1 330.1,605.9 330.2,605.6 330.3,605.4 330.4,605.2 330.4,605.0 330.5,604.8 330.6,604.7 330.7,604.6 330.8,604.4 330.9,604.4 330.9,604.3 331.0,604.2 331.1,604.2 331.2,604.2 331.3,604.2 331.4,604.2 331.5,604.3 331.5,604.4 331.6,604.4 331.7,604.6 331.8,604.7 331.9,604.8 332.0,605.0 332.0,605.2 332.1,605.4 332.2,605.6 332.3,605.9 332.4,606.1 332.5,606.4 332.5,606.6 332.6,606.7 332.6,607.0 332.7,607.3 332.8,607.6 332.9,607.9 333.0,608.3 333.1,608.6 333.2,609.0 333.2,609.4 333.3,609.8 333.7,611.8 333.9,612.3 334.2,613.9 334.6,616.1 335.0,618.3 335.2,619.2 335.4,620.5 335.9,622.7 336.3,624.8 336.5,625.8 336.7,626.9 337.1,628.8 337.6,630.8 337.8,631.9 338.0,632.6 338.4,634.4 338.8,636.1 339.2,637.4 339.3,637.8 339.7,639.4 340.1,640.9 340.5,642.2 340.5,642.4 341.0,643.9 341.4,645.3 341.8,646.6 342.2,647.9 342.7,649.1 343.1,650.3 343.1,650.5 343.5,651.5 343.9,652.6 344.4,653.7 344.5,654.0 344.8,654.8 345.2,655.8 345.6,656.8 345.8,657.2 346.1,657.8 346.5,658.7 346.9,659.6 347.1,660.1 347.3,660.5 347.8,661.4 348.2,662.2 348.4,662.7 348.6,663.0 349.0,663.8 349.4,664.6 349.8,665.2 349.9,665.4 350.3,666.1 350.7,666.8 351.1,667.4 351.1,667.5 351.6,668.2 352.0,668.9 352.4,669.5 353.7,671.4 355.1,673.2 356.4,674.9 357.7,676.5 359.1,677.9 360.4,679.3 361.7,680.6 363.0,681.8 364.4,682.9 365.7,684.0 367.0,685.0 368.3,685.9 369.7,686.8 371.0,687.6 372.3,688.4 373.6,689.2 375.0,689.9 376.3,690.6 377.6,691.2 378.9,691.8 380.3,692.4 381.6,693.0 382.9,693.5 384.2,694.0 385.6,694.5 386.9,694.9 388.2,695.4 389.6,695.8 390.9,696.2 392.2,696.6 393.5,696.9 394.9,697.3 396.2,697.6 397.5,698.0 398.8,698.3 400.2,698.6 401.5,698.8 402.8,699.1 404.1,699.4 405.5,699.6 406.8,699.9 408.1,700.1 409.4,700.3 410.8,700.5 412.1,700.8 413.4,701.0 414.8,701.1 416.1,701.3 417.4,701.5 418.7,701.7 420.1,701.9 421.4,702.0 422.7,702.2 424.0,702.3 425.4,702.5 426.7,702.6 428.0,702.8 429.3,702.9 430.7,703.0 432.0,703.2 433.3,703.3 434.6,703.4 436.0,703.5 437.3,703.6 438.6,703.8 440.0,703.9 441.3,704.0 442.6,704.1 443.9,704.2 445.3,704.3 446.6,704.4 447.9,704.4 449.2,704.5 450.6,704.6 451.9,704.7 453.2,704.8 454.5,704.9 455.9,704.9 457.2,705.0 458.5,705.1 459.8,705.2 461.2,705.2 462.5,705.3 463.8,705.4 465.2,705.4 466.5,705.5 467.8,705.6 469.1,705.6 470.5,705.7 471.8,705.7 473.1,705.8 474.4,705.9 475.8,705.9 477.1,706.0 478.4,706.0 479.7,706.1 481.1,706.1 482.4,706.2 483.7,706.2 485.0,706.3 486.4,706.3 487.7,706.4 489.0,706.4 490.4,706.4 491.7,706.5 493.0,706.5 494.3,706.6 495.7,706.6 497.0,706.6 498.3,706.7 499.6,706.7 501.0,706.8 502.3,706.8 503.6,706.8 504.9,706.9 506.3,706.9 507.6,706.9 508.9,707.0 510.2,707.0 511.6,707.0 512.9,707.1 514.2,707.1 515.5,707.1 516.9,707.2 518.2,707.2 519.5,707.2 520.9,707.2 522.2,707.3 523.5,707.3 524.8,707.3 526.2,707.4 527.5,707.4 528.8,707.4 530.1,707.4 531.5,707.5 532.8,707.5 534.1,707.5 535.4,707.5 536.8,707.5 538.1,707.6 539.4,707.6 540.7,707.6 542.1,707.6 543.4,707.7" stroke="#222222" stroke-width="1.1"/>
<polyline points="119.0,707.6 120.3,707.6 121.7,707.6 123.0,707.5 124.3,707.5 125.6,707.5 127.0,707.5 128.3,707.5 129.6,707.4 130.9,707.4 132.3,707.4 133.6,707.4 134.9,707.3 136.2,707.3 137.6,707.3 138.9,707.2 140.2,707.2 141.5,707.2 142.9,707.2 144.2,707.1 145.5,707.1 146.9,707.1 148.2,707.0 149.5,707.0 150.8,707.0 152.2,706.9 153.5,706.9 154.8,706.9 156.1,706.8 157.5,706.8 158.8,706.8 160.1,706.7 161.4,706.7 162.8,706.7 164.1,706.6 165.4,706.6 166.7,706.5 168.1,706.5 169.4,706.5 170.7,706.4 172.1,706.4 173.4,706.3 174.7,706.3 176.0,706.2 177.4,706.2 178.7,706.1 180.0,706.1 181.3,706.0 182.7,706.0 184.0,705.9 185.3,705.9 186.6,705.8 188.0,705.8 189.3,705.7 190.6,705.7 191.9,705.6 193.3,705.5 194.6,705.5 195.9,705.4 197.2,705.4 198.6,705.3 199.9,705.2 201.2,705.1 202.6,705.1 203.9,705.0 205.2,704.9 206.5,704.8 207.9,704.8 209.2,704.7 210.5,704.6 211.8,704.5 213.2,704.4 214.5,704.3 215.8,704.2 217.1,704.2 218.5,704.1 219.8,704.0 221.1,703.9 222.4,703.7 223.8,703.6 225.1,703.5 226.4,703.4 227.8,703.3 229.1,703.2 230.4,703.0 231.7,702.9 233.1,702.8 234.4,702.6 235.7,702.5 237.0,702.4 238.4,702.2 239.7,702.0 241.0,701.9 242.3,701.7 243.7,701.5 245.0,701.4 246.3,701.2 247.6,701.0 249.0,700.8 250.3,700.6 251.6,700.4 253.0,700.2 254.3,699.9 255.6,699.7 256.9,699.4 258.3,699.2 259.6,698.9 260.9,698.6 262.2,698.4 263.6,698.1 264.9,697.7 266.2,697.4 267.5,697.1 268.9,696.7 270.2,696.4 271.5,696.0 272.8,695.6 274.2,695.1 275.5,694.7 276.8,694.2 278.1,693.8 279.5,693.3 280.8,692.7 282.1,692.2 283.5,691.6 284.8,690.9 286.1,690.3 287.4,689.6 288.8,688.9 290.1,688.1 291.4,687.3 292.7,686.5 294.1,685.6 295.4,684.6 296.7,683.6 298.0,682.5 299.4,681.4 300.7,680.2 302.0,678.9 303.3,677.5 304.7,676.0 306.0,674.5 307.3,672.8 308.7,671.0 310.0,669.0 310.4,668.3 310.8,667.7 311.3,667.0 311.3,666.9 311.7,666.3 312.1,665.5 312.5,664.8 312.6,664.6 313.0,664.0 313.4,663.2 313.8,662.4 314.0,662.1 314.2,661.6 314.6,660.7 315.1,659.9 315.3,659.4 315.5,659.0 315.9,658.0 316.3,657.1 316.6,656.5 316.8,656.1 317.2,655.1 317.6,654.0 317.9,653.2 318.0,652.9 318.5,651.8 318.9,650.6 319.3,649.6 319.3,649.4 319.7,648.2 320.2,646.9 320.6,645.6 321.0,644.2 321.4,642.7 321.9,641.2 321.9,641.0 322.3,639.7 322.7,638.0 323.1,636.3 323.2,635.8 323.6,634.4 324.0,632.5 324.4,630.3 324.6,629.4 324.8,627.9 325.3,625.0 325.7,621.6 325.9,619.7 326.1,617.5 326.5,612.2 327.0,605.7 327.2,600.9 327.4,597.8 327.8,588.5 328.2,578.2 328.5,569.8 328.7,567.0 329.1,555.2 329.2,552.8 329.2,550.4 329.3,548.0 329.4,545.5 329.5,543.1 329.6,540.6 329.7,538.1 329.8,535.7 329.8,533.2 329.9,532.2 329.9,530.7 330.0,528.2 330.1,525.7 330.2,523.2 330.3,520.7 330.4,518.1 330.4,515.6 330.5,513.1 330.6,510.6 330.7,508.0 330.8,505.5 330.9,503.0 330.9,500.4 331.0,497.9 331.1,495.4 331.2,492.8 331.3,495.4 331.4,497.9 331.5,500.4 331.5,503.0 331.6,505.5 331.7,508.0 331.8,510.6 331.9,513.1 332.0,515.6 332.0,518.1 332.1,520.7 332.2,523.2 332.3,525.7 332.4,528.2 332.5,530.7 332.5,532.2 332.6,533.2 332.6,535.7 332.7,538.1 332.8,540.6 332.9,543.1 333.0,545.5 333.1,548.0 333.2,550.4 333.2,552.8 333.3,555.2 333.7,567.0 333.9,569.8 334.2,578.2 334.6,588.5 335.0,597.8 335.2,600.9 335.4,605.7 335.9,612.2 336.3,617.5 336.5,619.7 336.7,621.6 337.1,625.0 337.6,627.9 337.8,629.4 338.0,630.3 338.4,632.5 338.8,634.4 339.2,635.8 339.3,636.3 339.7,638.0 340.1,639.7 340.5,641.0 340.5,641.2 341.0,642.7 341.4,644.2 341.8,645.6 342.2,646.9 342.7,648.2 343.1,649.4 343.1,649.6 343.5,650.6 343.9,651.8 344.4,652.9 344.5,653.2 344.8,654.0 345.2,655.1 345.6,656.1 345.8,656.5 346.1,657.1 346.5,658.0 346.9,659.0 347.1,659.4 347.3,659.9 347.8,660.7 348.2,661.6 348.4,662.1 348.6,662.4 349.0,663.2 349.4,664.0 349.8,664.6 349.9,664.8 350.3,665.5 350.7,666.3 351.1,666.9 351.1,667.0 351.6,667.7 352.0,668.3 352.4,669.0 353.7,671.0 355.1,672.8 356.4,674.5 357.7,676.0 359.1,677.5 360.4,678.9 361.7,680.2 363.0,681.4 364.4,682.5 365.7,683.6 367.0,684.6 368.3,685.6 369.7,686.5 371.0,687.3 372.3,688.1 373.6,688.9 375.0,689.6 376.3,690.3 377.6,690.9 378.9,691.6 380.3,692.2 381.6,692.7 382.9,693.3 384.2,693.8 385.6,694.2 386.9,694.7 388.2,695.1 389.6,695.6 390.9,696.0 392.2,696.4 393.5,696.7 394.9,697.1 396.2,697.4 397.5,697.7 398.8,698.1 400.2,698.4 401.5,698.6 402.8,698.9 404.1,699.2 405.5,699.4 406.8,699.7 408.1,699.9 409.4,700.2 410.8,700.4 412.1,700.6 413.4,700.8 414.8,701.0 416.1,701.2 417.4,701.4 418.7,701.5 420.1,701.7 421.4,701.9 422.7,702.0 424.0,702.2 425.4,702.4 426.7,702.5 428.0,702.6 429.3,702.8 430.7,702.9 432.0,703.0 433.3,703.2 434.6,703.3 436.0,703.4 437.3,703.5 438.6,703.6 440.0,703.7 441.3,703.9 442.6,704.0 443.9,704.1 445.3,704.2 446.6,704.2 447.9,704.3 449.2,704.4 450.6,704.5 451.9,704.6 453.2,704.7 454.5,704.8 455.9,704.8 457.2,704.9 458.5,705.0 459.8,705.1 461.2,705.1 462.5,705.2 463.8,705.3 465.2,705.4 466.5,705.4 467.8,705.5 469.1,705.5 470.5,705.6 471.8,705.7 473.1,705.7 474.4,705.8 475.8,705.8 477.1,705.9 478.4,705.9 479.7,706.0 481.1,706.0 482.4,706.1 483.7,706.1 485.0,706.2 486.4,706.2 487.7,706.3 489.0,706.3 490.4,706.4 491.7,706.4 493.0,706.5 494.3,706.5 495.7,706.5 497.0,706.6 498.3,706.6 499.6,706.7 501.0,706.7 502.3,706.7 503.6,706.8 504.9,706.8 506.3,706.8 507.6,706.9 508.9,706.9 510.2,706.9 511.6,707.0 512.9,707.0 514.2,707.0 515.5,707.1 516.9,707.1 518.2,707.1 519.5,707.2 520.9,707.2 522.2,707.2 523.5,707.2 524.8,707.3 526.2,707.3 527.5,707.3 528.8,707.4 530.1,707.4 531.5,707.4 532.8,707.4 534.1,707.5 535.4,707.5 536.8,707.5 538.1,707.5 539.4,707.5 540.7,707.6 542.1,707.6 543.4,707.6" stroke="#3a4656" stroke-width="1.3"/>
</g>
<rect x="119" y="509.2" width="424.4" height="200.8" fill="none" stroke="#383838" stroke-width="1.25"/>
<text x="96.72" y="719.57" font-family="'Liberation Sans', Arial, Helvetica, sans-serif" font-size="29.2" font-weight="normal" font-style="normal" fill="#000" >0</text>
<line x1="119" y1="621.4" x2="126" y2="621.4" stroke="#383838" stroke-width="1.25"/>
<line x1="543.4" y1="621.4" x2="536.4" y2="621.4" stroke="#383838" stroke-width="1.25"/>
<text x="80.51" y="631.37" font-family="'Liberation Sans', Arial, Helvetica, sans-serif" font-size="29.2" font-weight="normal" font-style="normal" fill="#000" >20</text>
<line x1="119" y1="533.2" x2="126" y2="533.2" stroke="#383838" stroke-width="1.25"/>
<line x1="543.4" y1="533.2" x2="536.4" y2="533.2" stroke="#383838" stroke-width="1.25"/>
<text x="80.51" y="541.87" font-family="'Liberation Sans', Arial, Helvetica, sans-serif" font-size="29.2" font-weight="normal" font-style="normal" fill="#000" >40</text>
<text x="107.33" y="744.51" font-family="'Liberation Sans', Arial, Helvetica, sans-serif" font-size="29.2" font-weight="normal" font-style="normal" fill="#000" >-5</text>
<line x1="331.2" y1="710" x2="331.2" y2="703" stroke="#383838" stroke-width="1.25"/>
<line x1="331.2" y1="509.2" x2="331.2" y2="516.2" stroke="#383838" stroke-width="1.25"/>
<text x="323.12" y="744.51" font-family="'Liberation Sans', Arial, Helvetica, sans-serif" font-size="29.2" font-weight="normal" font-style="normal" fill="#000" >0</text>
<text x="533.1" y="744.51" font-family="'Liberation Sans', Arial, Helvetica, sans-serif" font-size="29.2" font-weight="normal" font-style="normal" fill="#000" >5</text>
<text x="295.85" y="777.69" font-family="'Liberation Serif', 'Times New Roman', serif" font-size="31" font-weight="normal" font-style="italic" fill="#000" >ω</text>
<text x="319.38" y="781.85" font-family="'DejaVu Sans', sans-serif" font-size="39.5" font-weight="200" font-style="normal" fill="#000" >/</text>
<text x="334.84" y="777.8" font-family="'Liberation Serif', 'Times New Roman', serif" font-size="33" font-weight="normal" font-style="italic" fill="#000" >κ</text>
<text transform="translate(48.37,702.51) rotate(-90)" font-family="'Liberation Sans', Arial, Helvetica, sans-serif" font-size="29.2" font-weight="normal" font-style="normal" fill="#000">Squeezing [dB]</text>
<polygon points="155.1,516.3 160.51,527.26 172.6,529.01 163.85,537.54 165.92,549.59 155.1,543.9 144.28,549.59 146.35,537.54 137.6,529.01 149.69,527.26" fill="#5865C9"/>
<clipPath id="clipe"><rect x="637.6" y="508.3" width="424.9" height="201.7"/></clipPath>
<g clip-path="url(#clipe)" fill="none" stroke-linejoin="round">
<polyline points="637.6,709.2 638.9,709.2 640.3,709.2 641.6,709.1 642.9,709.1 644.2,709.1 645.6,709.1 646.9,709.1 648.2,709.1 649.6,709.1 650.9,709.1 652.2,709.1 653.5,709.1 654.9,709.1 656.2,709.1 657.5,709.1 658.8,709.1 660.2,709.1 661.5,709.1 662.8,709.1 664.2,709.0 665.5,709.0 666.8,709.0 668.1,709.0 669.5,709.0 670.8,709.0 672.1,709.0 673.5,709.0 674.8,709.0 676.1,709.0 677.4,709.0 678.8,709.0 680.1,709.0 681.4,708.9 682.7,708.9 684.1,708.9 685.4,708.9 686.7,708.9 688.1,708.9 689.4,708.9 690.7,708.9 692.0,708.9 693.4,708.9 694.7,708.8 696.0,708.8 697.4,708.8 698.7,708.8 700.0,708.8 701.3,708.8 702.7,708.8 704.0,708.8 705.3,708.7 706.6,708.7 708.0,708.7 709.3,708.7 710.6,708.7 712.0,708.7 713.3,708.7 714.6,708.6 715.9,708.6 717.3,708.6 718.6,708.6 719.9,708.6 721.3,708.6 722.6,708.5 723.9,708.5 725.2,708.5 726.6,708.5 727.9,708.5 729.2,708.4 730.5,708.4 731.9,708.4 733.2,708.4 734.5,708.4 735.9,708.3 737.2,708.3 738.5,708.3 739.8,708.3 741.2,708.2 742.5,708.2 743.8,708.2 745.2,708.2 746.5,708.1 747.8,708.1 749.1,708.1 750.5,708.0 751.8,708.0 753.1,708.0 754.4,707.9 755.8,707.9 757.1,707.8 758.4,707.8 759.8,707.8 761.1,707.7 762.4,707.7 763.7,707.6 765.1,707.6 766.4,707.5 767.7,707.5 769.1,707.4 770.4,707.4 771.7,707.3 773.0,707.2 774.4,707.2 775.7,707.1 777.0,707.0 778.3,707.0 779.7,706.9 781.0,706.8 782.3,706.7 783.7,706.6 785.0,706.6 786.3,706.5 787.6,706.4 789.0,706.3 790.3,706.2 791.6,706.0 793.0,705.9 794.3,705.8 795.6,705.7 796.9,705.5 798.3,705.4 799.6,705.2 800.9,705.1 802.2,704.9 803.6,704.7 804.9,704.5 806.2,704.3 807.6,704.1 808.9,703.9 810.2,703.7 811.5,703.5 812.9,703.2 814.2,702.9 815.5,702.7 816.9,702.4 818.2,702.1 819.5,701.8 820.8,701.4 822.2,701.1 822.2,701.1 822.6,701.0 823.1,700.9 823.5,700.8 823.9,700.6 824.3,700.5 824.8,700.4 824.8,700.4 825.2,700.3 825.6,700.2 826.0,700.1 826.1,700.0 826.5,699.9 826.9,699.8 827.3,699.7 827.5,699.6 827.7,699.6 828.2,699.5 828.6,699.3 828.8,699.3 829.0,699.2 829.4,699.1 829.9,699.0 830.1,698.9 830.3,698.8 830.7,698.7 831.1,698.6 831.5,698.5 831.6,698.5 832.0,698.4 832.4,698.2 832.8,698.1 832.8,698.1 833.3,698.0 833.7,697.9 834.1,697.8 834.5,697.6 835.0,697.5 835.4,697.4 835.4,697.4 835.8,697.3 836.2,697.2 836.7,697.1 836.8,697.1 837.1,697.0 837.5,696.9 837.9,696.8 838.1,696.7 838.4,696.7 838.8,696.6 839.2,696.5 839.4,696.4 839.6,696.4 840.1,696.3 840.5,696.2 840.8,696.2 840.9,696.1 841.3,696.0 841.4,696.0 841.5,696.0 841.6,696.0 841.7,696.0 841.8,696.0 841.8,696.0 841.9,695.9 842.0,695.9 842.1,695.9 842.1,695.9 842.2,695.9 842.3,695.9 842.4,695.9 842.4,695.9 842.5,695.8 842.6,695.8 842.7,695.8 842.8,695.8 842.9,695.8 843.0,695.8 843.0,695.8 843.1,695.7 843.2,695.7 843.3,695.7 843.4,695.7 843.4,695.7 843.5,695.7 843.5,695.7 843.6,695.7 843.7,695.7 843.8,695.7 843.9,695.6 844.0,695.6 844.1,695.6 844.1,695.6 844.2,695.6 844.3,695.6 844.4,695.6 844.5,695.6 844.6,695.6 844.7,695.5 844.7,695.5 844.8,695.5 844.9,695.5 845.0,695.5 845.1,695.5 845.2,695.5 845.2,695.5 845.3,695.5 845.4,695.5 845.5,695.4 845.6,695.4 846.0,695.4 846.1,695.4 846.4,695.4 846.9,695.3 847.3,695.3 847.4,695.3 847.7,695.3 848.1,695.3 848.6,695.2 848.7,695.2 849.0,695.2 849.4,695.2 849.8,695.2 850.0,695.2 850.3,695.2 850.7,695.2 851.1,695.2 851.4,695.2 851.5,695.2 852.0,695.3 852.4,695.3 852.7,695.3 852.8,695.3 853.2,695.3 853.7,695.4 854.0,695.4 854.1,695.4 854.5,695.4 854.6,695.4 854.7,695.5 854.8,695.5 854.9,695.5 854.9,695.5 855.0,695.5 855.1,695.5 855.2,695.5 855.3,695.5 855.4,695.5 855.4,695.5 855.5,695.6 855.6,695.6 855.7,695.6 855.8,695.6 855.9,695.6 856.0,695.6 856.0,695.6 856.1,695.6 856.2,695.6 856.3,695.7 856.4,695.7 856.5,695.7 856.6,695.7 856.6,695.7 856.7,695.7 856.7,695.7 856.8,695.7 856.9,695.7 857.0,695.7 857.1,695.8 857.1,695.8 857.2,695.8 857.3,695.8 857.4,695.8 857.5,695.8 857.6,695.8 857.7,695.9 857.7,695.9 857.8,695.9 857.9,695.9 858.0,695.9 858.0,695.9 858.1,695.9 858.2,695.9 858.3,696.0 858.3,696.0 858.4,696.0 858.5,696.0 858.6,696.0 858.7,696.0 858.8,696.0 859.2,696.1 859.3,696.2 859.6,696.2 860.0,696.3 860.5,696.4 860.7,696.4 860.9,696.5 861.3,696.6 861.7,696.7 862.0,696.7 862.2,696.8 862.6,696.9 863.0,697.0 863.3,697.1 863.4,697.1 863.9,697.2 864.3,697.3 864.7,697.4 864.7,697.4 865.1,697.5 865.6,697.6 866.0,697.8 866.4,697.9 866.8,698.0 867.3,698.1 867.3,698.1 867.7,698.2 868.1,698.4 868.5,698.5 868.6,698.5 869.0,698.6 869.4,698.7 869.8,698.8 870.0,698.9 870.2,699.0 870.7,699.1 871.1,699.2 871.3,699.3 871.5,699.3 871.9,699.5 872.4,699.6 872.6,699.6 872.8,699.7 873.2,699.8 873.6,699.9 874.0,700.0 874.1,700.1 874.5,700.2 874.9,700.3 875.3,700.4 875.3,700.4 875.8,700.5 876.2,700.6 876.6,700.8 877.0,700.9 877.5,701.0 877.9,701.1 877.9,701.1 879.3,701.4 880.6,701.8 881.9,702.1 883.2,702.4 884.6,702.7 885.9,702.9 887.2,703.2 888.6,703.5 889.9,703.7 891.2,703.9 892.5,704.1 893.9,704.3 895.2,704.5 896.5,704.7 897.9,704.9 899.2,705.1 900.5,705.2 901.8,705.4 903.2,705.5 904.5,705.7 905.8,705.8 907.1,705.9 908.5,706.0 909.8,706.2 911.1,706.3 912.5,706.4 913.8,706.5 915.1,706.6 916.4,706.6 917.8,706.7 919.1,706.8 920.4,706.9 921.8,707.0 923.1,707.0 924.4,707.1 925.7,707.2 927.1,707.2 928.4,707.3 929.7,707.4 931.0,707.4 932.4,707.5 933.7,707.5 935.0,707.6 936.4,707.6 937.7,707.7 939.0,707.7 940.3,707.8 941.7,707.8 943.0,707.8 944.3,707.9 945.7,707.9 947.0,708.0 948.3,708.0 949.6,708.0 951.0,708.1 952.3,708.1 953.6,708.1 954.9,708.2 956.3,708.2 957.6,708.2 958.9,708.2 960.3,708.3 961.6,708.3 962.9,708.3 964.2,708.3 965.6,708.4 966.9,708.4 968.2,708.4 969.6,708.4 970.9,708.4 972.2,708.5 973.5,708.5 974.9,708.5 976.2,708.5 977.5,708.5 978.8,708.6 980.2,708.6 981.5,708.6 982.8,708.6 984.2,708.6 985.5,708.6 986.8,708.7 988.1,708.7 989.5,708.7 990.8,708.7 992.1,708.7 993.5,708.7 994.8,708.7 996.1,708.8 997.4,708.8 998.8,708.8 1000.1,708.8 1001.4,708.8 1002.7,708.8 1004.1,708.8 1005.4,708.8 1006.7,708.9 1008.1,708.9 1009.4,708.9 1010.7,708.9 1012.0,708.9 1013.4,708.9 1014.7,708.9 1016.0,708.9 1017.4,708.9 1018.7,708.9 1020.0,709.0 1021.3,709.0 1022.7,709.0 1024.0,709.0 1025.3,709.0 1026.6,709.0 1028.0,709.0 1029.3,709.0 1030.6,709.0 1032.0,709.0 1033.3,709.0 1034.6,709.0 1035.9,709.0 1037.3,709.1 1038.6,709.1 1039.9,709.1 1041.3,709.1 1042.6,709.1 1043.9,709.1 1045.2,709.1 1046.6,709.1 1047.9,709.1 1049.2,709.1 1050.5,709.1 1051.9,709.1 1053.2,709.1 1054.5,709.1 1055.9,709.1 1057.2,709.1 1058.5,709.1 1059.8,709.2 1061.2,709.2 1062.5,709.2" stroke="#666666" stroke-width="1.1"/>
<polyline points="637.6,708.8 638.9,708.8 640.3,708.8 641.6,708.8 642.9,708.8 644.2,708.8 645.6,708.8 646.9,708.8 648.2,708.8 649.6,708.8 650.9,708.7 652.2,708.7 653.5,708.7 654.9,708.7 656.2,708.7 657.5,708.7 658.8,708.7 660.2,708.7 661.5,708.7 662.8,708.6 664.2,708.6 665.5,708.6 666.8,708.6 668.1,708.6 669.5,708.6 670.8,708.6 672.1,708.6 673.5,708.5 674.8,708.5 676.1,708.5 677.4,708.5 678.8,708.5 680.1,708.5 681.4,708.5 682.7,708.4 684.1,708.4 685.4,708.4 686.7,708.4 688.1,708.4 689.4,708.4 690.7,708.3 692.0,708.3 693.4,708.3 694.7,708.3 696.0,708.3 697.4,708.2 698.7,708.2 700.0,708.2 701.3,708.2 702.7,708.2 704.0,708.1 705.3,708.1 706.6,708.1 708.0,708.1 709.3,708.0 710.6,708.0 712.0,708.0 713.3,708.0 714.6,707.9 715.9,707.9 717.3,707.9 718.6,707.9 719.9,707.8 721.3,707.8 722.6,707.8 723.9,707.7 725.2,707.7 726.6,707.7 727.9,707.6 729.2,707.6 730.5,707.6 731.9,707.5 733.2,707.5 734.5,707.4 735.9,707.4 737.2,707.4 738.5,707.3 739.8,707.3 741.2,707.2 742.5,707.2 743.8,707.1 745.2,707.1 746.5,707.0 747.8,707.0 749.1,706.9 750.5,706.9 751.8,706.8 753.1,706.7 754.4,706.7 755.8,706.6 757.1,706.5 758.4,706.5 759.8,706.4 761.1,706.3 762.4,706.2 763.7,706.2 765.1,706.1 766.4,706.0 767.7,705.9 769.1,705.8 770.4,705.7 771.7,705.6 773.0,705.5 774.4,705.4 775.7,705.3 777.0,705.2 778.3,705.0 779.7,704.9 781.0,704.8 782.3,704.6 783.7,704.5 785.0,704.3 786.3,704.2 787.6,704.0 789.0,703.8 790.3,703.6 791.6,703.4 793.0,703.2 794.3,703.0 795.6,702.8 796.9,702.6 798.3,702.3 799.6,702.1 800.9,701.8 802.2,701.5 803.6,701.2 804.9,700.9 806.2,700.5 807.6,700.2 808.9,699.8 810.2,699.4 811.5,699.0 812.9,698.5 814.2,698.1 815.5,697.6 816.9,697.1 818.2,696.5 819.5,696.0 820.8,695.4 822.2,694.8 822.2,694.8 822.6,694.6 823.1,694.4 823.5,694.2 823.9,693.9 824.3,693.7 824.8,693.5 824.8,693.5 825.2,693.3 825.6,693.1 826.0,692.9 826.1,692.8 826.5,692.7 826.9,692.4 827.3,692.2 827.5,692.1 827.7,692.0 828.2,691.8 828.6,691.5 828.8,691.4 829.0,691.3 829.4,691.1 829.9,690.9 830.1,690.7 830.3,690.6 830.7,690.4 831.1,690.2 831.5,690.0 831.6,690.0 832.0,689.7 832.4,689.5 832.8,689.3 832.8,689.3 833.3,689.1 833.7,688.8 834.1,688.6 834.5,688.4 835.0,688.2 835.4,688.0 835.4,687.9 835.8,687.8 836.2,687.6 836.7,687.4 836.8,687.3 837.1,687.2 837.5,687.0 837.9,686.8 838.1,686.7 838.4,686.6 838.8,686.4 839.2,686.2 839.4,686.1 839.6,686.1 840.1,685.9 840.5,685.7 840.8,685.6 840.9,685.6 841.3,685.4 841.4,685.4 841.5,685.4 841.6,685.4 841.7,685.3 841.8,685.3 841.8,685.3 841.9,685.3 842.0,685.2 842.1,685.2 842.1,685.2 842.2,685.2 842.3,685.2 842.4,685.1 842.4,685.1 842.5,685.1 842.6,685.1 842.7,685.0 842.8,685.0 842.9,685.0 843.0,685.0 843.0,684.9 843.1,684.9 843.2,684.9 843.3,684.9 843.4,684.8 843.4,684.8 843.5,684.8 843.5,684.8 843.6,684.8 843.7,684.8 843.8,684.7 843.9,684.7 844.0,684.7 844.1,684.7 844.1,684.7 844.2,684.6 844.3,684.6 844.4,684.6 844.5,684.6 844.6,684.6 844.7,684.5 844.7,684.5 844.8,684.5 844.9,684.5 845.0,684.5 845.1,684.5 845.2,684.4 845.2,684.4 845.3,684.4 845.4,684.4 845.5,684.4 845.6,684.4 846.0,684.3 846.1,684.3 846.4,684.2 846.9,684.2 847.3,684.1 847.4,684.1 847.7,684.1 848.1,684.1 848.6,684.0 848.7,684.0 849.0,684.0 849.4,684.0 849.8,684.0 850.0,684.0 850.3,684.0 850.7,684.0 851.1,684.0 851.4,684.0 851.5,684.0 852.0,684.1 852.4,684.1 852.7,684.1 852.8,684.1 853.2,684.2 853.7,684.2 854.0,684.3 854.1,684.3 854.5,684.4 854.6,684.4 854.7,684.4 854.8,684.4 854.9,684.4 854.9,684.4 855.0,684.5 855.1,684.5 855.2,684.5 855.3,684.5 855.4,684.5 855.4,684.5 855.5,684.6 855.6,684.6 855.7,684.6 855.8,684.6 855.9,684.6 856.0,684.7 856.0,684.7 856.1,684.7 856.2,684.7 856.3,684.7 856.4,684.8 856.5,684.8 856.6,684.8 856.6,684.8 856.7,684.8 856.7,684.8 856.8,684.9 856.9,684.9 857.0,684.9 857.1,684.9 857.1,685.0 857.2,685.0 857.3,685.0 857.4,685.0 857.5,685.1 857.6,685.1 857.7,685.1 857.7,685.1 857.8,685.2 857.9,685.2 858.0,685.2 858.0,685.2 858.1,685.2 858.2,685.3 858.3,685.3 858.3,685.3 858.4,685.3 858.5,685.4 858.6,685.4 858.7,685.4 858.8,685.4 859.2,685.6 859.3,685.6 859.6,685.7 860.0,685.9 860.5,686.1 860.7,686.1 860.9,686.2 861.3,686.4 861.7,686.6 862.0,686.7 862.2,686.8 862.6,687.0 863.0,687.2 863.3,687.3 863.4,687.4 863.9,687.6 864.3,687.8 864.7,687.9 864.7,688.0 865.1,688.2 865.6,688.4 866.0,688.6 866.4,688.8 866.8,689.1 867.3,689.3 867.3,689.3 867.7,689.5 868.1,689.7 868.5,690.0 868.6,690.0 869.0,690.2 869.4,690.4 869.8,690.6 870.0,690.7 870.2,690.9 870.7,691.1 871.1,691.3 871.3,691.4 871.5,691.5 871.9,691.8 872.4,692.0 872.6,692.1 872.8,692.2 873.2,692.4 873.6,692.7 874.0,692.8 874.1,692.9 874.5,693.1 874.9,693.3 875.3,693.5 875.3,693.5 875.8,693.7 876.2,693.9 876.6,694.2 877.0,694.4 877.5,694.6 877.9,694.8 877.9,694.8 879.3,695.4 880.6,696.0 881.9,696.5 883.2,697.1 884.6,697.6 885.9,698.1 887.2,698.5 888.6,699.0 889.9,699.4 891.2,699.8 892.5,700.2 893.9,700.5 895.2,700.9 896.5,701.2 897.9,701.5 899.2,701.8 900.5,702.1 901.8,702.3 903.2,702.6 904.5,702.8 905.8,703.0 907.1,703.2 908.5,703.4 909.8,703.6 911.1,703.8 912.5,704.0 913.8,704.2 915.1,704.3 916.4,704.5 917.8,704.6 919.1,704.8 920.4,704.9 921.8,705.0 923.1,705.2 924.4,705.3 925.7,705.4 927.1,705.5 928.4,705.6 929.7,705.7 931.0,705.8 932.4,705.9 933.7,706.0 935.0,706.1 936.4,706.2 937.7,706.2 939.0,706.3 940.3,706.4 941.7,706.5 943.0,706.5 944.3,706.6 945.7,706.7 947.0,706.7 948.3,706.8 949.6,706.9 951.0,706.9 952.3,707.0 953.6,707.0 954.9,707.1 956.3,707.1 957.6,707.2 958.9,707.2 960.3,707.3 961.6,707.3 962.9,707.4 964.2,707.4 965.6,707.4 966.9,707.5 968.2,707.5 969.6,707.6 970.9,707.6 972.2,707.6 973.5,707.7 974.9,707.7 976.2,707.7 977.5,707.8 978.8,707.8 980.2,707.8 981.5,707.9 982.8,707.9 984.2,707.9 985.5,707.9 986.8,708.0 988.1,708.0 989.5,708.0 990.8,708.0 992.1,708.1 993.5,708.1 994.8,708.1 996.1,708.1 997.4,708.2 998.8,708.2 1000.1,708.2 1001.4,708.2 1002.7,708.2 1004.1,708.3 1005.4,708.3 1006.7,708.3 1008.1,708.3 1009.4,708.3 1010.7,708.4 1012.0,708.4 1013.4,708.4 1014.7,708.4 1016.0,708.4 1017.4,708.4 1018.7,708.5 1020.0,708.5 1021.3,708.5 1022.7,708.5 1024.0,708.5 1025.3,708.5 1026.6,708.5 1028.0,708.6 1029.3,708.6 1030.6,708.6 1032.0,708.6 1033.3,708.6 1034.6,708.6 1035.9,708.6 1037.3,708.6 1038.6,708.7 1039.9,708.7 1041.3,708.7 1042.6,708.7 1043.9,708.7 1045.2,708.7 1046.6,708.7 1047.9,708.7 1049.2,708.7 1050.5,708.8 1051.9,708.8 1053.2,708.8 1054.5,708.8 1055.9,708.8 1057.2,708.8 1058.5,708.8 1059.8,708.8 1061.2,708.8 1062.5,708.8" stroke="#222222" stroke-width="1.1"/>
<polyline points="637.6,708.4 638.9,708.4 640.3,708.4 641.6,708.4 642.9,708.4 644.2,708.4 645.6,708.4 646.9,708.4 648.2,708.3 649.6,708.3 650.9,708.3 652.2,708.3 653.5,708.3 654.9,708.3 656.2,708.2 657.5,708.2 658.8,708.2 660.2,708.2 661.5,708.2 662.8,708.2 664.2,708.1 665.5,708.1 666.8,708.1 668.1,708.1 669.5,708.1 670.8,708.0 672.1,708.0 673.5,708.0 674.8,708.0 676.1,708.0 677.4,707.9 678.8,707.9 680.1,707.9 681.4,707.9 682.7,707.9 684.1,707.8 685.4,707.8 686.7,707.8 688.1,707.8 689.4,707.7 690.7,707.7 692.0,707.7 693.4,707.6 694.7,707.6 696.0,707.6 697.4,707.6 698.7,707.5 700.0,707.5 701.3,707.5 702.7,707.4 704.0,707.4 705.3,707.4 706.6,707.3 708.0,707.3 709.3,707.3 710.6,707.2 712.0,707.2 713.3,707.2 714.6,707.1 715.9,707.1 717.3,707.0 718.6,707.0 719.9,706.9 721.3,706.9 722.6,706.9 723.9,706.8 725.2,706.8 726.6,706.7 727.9,706.7 729.2,706.6 730.5,706.6 731.9,706.5 733.2,706.4 734.5,706.4 735.9,706.3 737.2,706.3 738.5,706.2 739.8,706.1 741.2,706.1 742.5,706.0 743.8,705.9 745.2,705.8 746.5,705.8 747.8,705.7 749.1,705.6 750.5,705.5 751.8,705.4 753.1,705.4 754.4,705.3 755.8,705.2 757.1,705.1 758.4,705.0 759.8,704.9 761.1,704.7 762.4,704.6 763.7,704.5 765.1,704.4 766.4,704.3 767.7,704.1 769.1,704.0 770.4,703.9 771.7,703.7 773.0,703.6 774.4,703.4 775.7,703.2 777.0,703.1 778.3,702.9 779.7,702.7 781.0,702.5 782.3,702.3 783.7,702.1 785.0,701.8 786.3,701.6 787.6,701.4 789.0,701.1 790.3,700.8 791.6,700.5 793.0,700.2 794.3,699.9 795.6,699.6 796.9,699.3 798.3,698.9 799.6,698.5 800.9,698.1 802.2,697.7 803.6,697.2 804.9,696.8 806.2,696.3 807.6,695.7 808.9,695.2 810.2,694.6 811.5,694.0 812.9,693.3 814.2,692.6 815.5,691.9 816.9,691.1 818.2,690.3 819.5,689.4 820.8,688.5 822.2,687.6 822.2,687.5 822.6,687.2 823.1,686.9 823.5,686.6 823.9,686.3 824.3,685.9 824.8,685.6 824.8,685.5 825.2,685.2 825.6,684.9 826.0,684.5 826.1,684.5 826.5,684.2 826.9,683.8 827.3,683.5 827.5,683.3 827.7,683.1 828.2,682.7 828.6,682.4 828.8,682.2 829.0,682.0 829.4,681.6 829.9,681.2 830.1,681.0 830.3,680.8 830.7,680.5 831.1,680.1 831.5,679.8 831.6,679.7 832.0,679.3 832.4,678.9 832.8,678.6 832.8,678.5 833.3,678.1 833.7,677.8 834.1,677.4 834.5,677.0 835.0,676.6 835.4,676.2 835.4,676.2 835.8,675.9 836.2,675.5 836.7,675.2 836.8,675.1 837.1,674.8 837.5,674.5 837.9,674.2 838.1,674.0 838.4,673.8 838.8,673.5 839.2,673.2 839.4,673.1 839.6,672.9 840.1,672.6 840.5,672.4 840.8,672.2 840.9,672.1 841.3,671.9 841.4,671.8 841.5,671.8 841.6,671.7 841.7,671.7 841.8,671.7 841.8,671.6 841.9,671.6 842.0,671.5 842.1,671.5 842.1,671.5 842.2,671.4 842.3,671.4 842.4,671.4 842.4,671.3 842.5,671.3 842.6,671.2 842.7,671.2 842.8,671.2 842.9,671.1 843.0,671.1 843.0,671.1 843.1,671.0 843.2,671.0 843.3,670.9 843.4,670.9 843.4,670.9 843.5,670.9 843.5,670.8 843.6,670.8 843.7,670.8 843.8,670.7 843.9,670.7 844.0,670.7 844.1,670.7 844.1,670.6 844.2,670.6 844.3,670.6 844.4,670.5 844.5,670.5 844.6,670.5 844.7,670.5 844.7,670.4 844.8,670.4 844.9,670.4 845.0,670.4 845.1,670.3 845.2,670.3 845.2,670.3 845.3,670.3 845.4,670.2 845.5,670.2 845.6,670.2 846.0,670.1 846.1,670.1 846.4,670.0 846.9,669.9 847.3,669.9 847.4,669.9 847.7,669.8 848.1,669.8 848.6,669.7 848.7,669.7 849.0,669.7 849.4,669.7 849.8,669.7 850.0,669.7 850.3,669.7 850.7,669.7 851.1,669.7 851.4,669.7 851.5,669.7 852.0,669.8 852.4,669.8 852.7,669.9 852.8,669.9 853.2,669.9 853.7,670.0 854.0,670.1 854.1,670.1 854.5,670.2 854.6,670.2 854.7,670.2 854.8,670.3 854.9,670.3 854.9,670.3 855.0,670.3 855.1,670.4 855.2,670.4 855.3,670.4 855.4,670.4 855.4,670.5 855.5,670.5 855.6,670.5 855.7,670.5 855.8,670.6 855.9,670.6 856.0,670.6 856.0,670.7 856.1,670.7 856.2,670.7 856.3,670.7 856.4,670.8 856.5,670.8 856.6,670.8 856.6,670.9 856.7,670.9 856.7,670.9 856.8,670.9 856.9,671.0 857.0,671.0 857.1,671.1 857.1,671.1 857.2,671.1 857.3,671.2 857.4,671.2 857.5,671.2 857.6,671.3 857.7,671.3 857.7,671.4 857.8,671.4 857.9,671.4 858.0,671.5 858.0,671.5 858.1,671.5 858.2,671.6 858.3,671.6 858.3,671.7 858.4,671.7 858.5,671.7 858.6,671.8 858.7,671.8 858.8,671.9 859.2,672.1 859.3,672.2 859.6,672.4 860.0,672.6 860.5,672.9 860.7,673.1 860.9,673.2 861.3,673.5 861.7,673.8 862.0,674.0 862.2,674.2 862.6,674.5 863.0,674.8 863.3,675.1 863.4,675.2 863.9,675.5 864.3,675.9 864.7,676.2 864.7,676.2 865.1,676.6 865.6,677.0 866.0,677.4 866.4,677.8 866.8,678.1 867.3,678.5 867.3,678.6 867.7,678.9 868.1,679.3 868.5,679.7 868.6,679.8 869.0,680.1 869.4,680.5 869.8,680.8 870.0,681.0 870.2,681.2 870.7,681.6 871.1,682.0 871.3,682.2 871.5,682.4 871.9,682.7 872.4,683.1 872.6,683.3 872.8,683.5 873.2,683.8 873.6,684.2 874.0,684.5 874.1,684.5 874.5,684.9 874.9,685.2 875.3,685.5 875.3,685.6 875.8,685.9 876.2,686.3 876.6,686.6 877.0,686.9 877.5,687.2 877.9,687.5 877.9,687.6 879.3,688.5 880.6,689.4 881.9,690.3 883.2,691.1 884.6,691.9 885.9,692.6 887.2,693.3 888.6,694.0 889.9,694.6 891.2,695.2 892.5,695.7 893.9,696.3 895.2,696.8 896.5,697.2 897.9,697.7 899.2,698.1 900.5,698.5 901.8,698.9 903.2,699.3 904.5,699.6 905.8,699.9 907.1,700.2 908.5,700.5 909.8,700.8 911.1,701.1 912.5,701.4 913.8,701.6 915.1,701.8 916.4,702.1 917.8,702.3 919.1,702.5 920.4,702.7 921.8,702.9 923.1,703.1 924.4,703.2 925.7,703.4 927.1,703.6 928.4,703.7 929.7,703.9 931.0,704.0 932.4,704.1 933.7,704.3 935.0,704.4 936.4,704.5 937.7,704.6 939.0,704.7 940.3,704.9 941.7,705.0 943.0,705.1 944.3,705.2 945.7,705.3 947.0,705.4 948.3,705.4 949.6,705.5 951.0,705.6 952.3,705.7 953.6,705.8 954.9,705.8 956.3,705.9 957.6,706.0 958.9,706.1 960.3,706.1 961.6,706.2 962.9,706.3 964.2,706.3 965.6,706.4 966.9,706.4 968.2,706.5 969.6,706.6 970.9,706.6 972.2,706.7 973.5,706.7 974.9,706.8 976.2,706.8 977.5,706.9 978.8,706.9 980.2,706.9 981.5,707.0 982.8,707.0 984.2,707.1 985.5,707.1 986.8,707.2 988.1,707.2 989.5,707.2 990.8,707.3 992.1,707.3 993.5,707.3 994.8,707.4 996.1,707.4 997.4,707.4 998.8,707.5 1000.1,707.5 1001.4,707.5 1002.7,707.6 1004.1,707.6 1005.4,707.6 1006.7,707.6 1008.1,707.7 1009.4,707.7 1010.7,707.7 1012.0,707.8 1013.4,707.8 1014.7,707.8 1016.0,707.8 1017.4,707.9 1018.7,707.9 1020.0,707.9 1021.3,707.9 1022.7,707.9 1024.0,708.0 1025.3,708.0 1026.6,708.0 1028.0,708.0 1029.3,708.0 1030.6,708.1 1032.0,708.1 1033.3,708.1 1034.6,708.1 1035.9,708.1 1037.3,708.2 1038.6,708.2 1039.9,708.2 1041.3,708.2 1042.6,708.2 1043.9,708.2 1045.2,708.3 1046.6,708.3 1047.9,708.3 1049.2,708.3 1050.5,708.3 1051.9,708.3 1053.2,708.4 1054.5,708.4 1055.9,708.4 1057.2,708.4 1058.5,708.4 1059.8,708.4 1061.2,708.4 1062.5,708.4" stroke="#222222" stroke-width="1.1"/>
<polyline points="637.6,708.1 638.9,708.0 640.3,708.0 641.6,708.0 642.9,708.0 644.2,708.0 645.6,708.0 646.9,707.9 648.2,707.9 649.6,707.9 650.9,707.9 652.2,707.9 653.5,707.8 654.9,707.8 656.2,707.8 657.5,707.8 658.8,707.8 660.2,707.7 661.5,707.7 662.8,707.7 664.2,707.7 665.5,707.6 666.8,707.6 668.1,707.6 669.5,707.6 670.8,707.5 672.1,707.5 673.5,707.5 674.8,707.5 676.1,707.4 677.4,707.4 678.8,707.4 680.1,707.3 681.4,707.3 682.7,707.3 684.1,707.2 685.4,707.2 686.7,707.2 688.1,707.1 689.4,707.1 690.7,707.1 692.0,707.0 693.4,707.0 694.7,707.0 696.0,706.9 697.4,706.9 698.7,706.9 700.0,706.8 701.3,706.8 702.7,706.7 704.0,706.7 705.3,706.6 706.6,706.6 708.0,706.6 709.3,706.5 710.6,706.5 712.0,706.4 713.3,706.4 714.6,706.3 715.9,706.3 717.3,706.2 718.6,706.1 719.9,706.1 721.3,706.0 722.6,706.0 723.9,705.9 725.2,705.8 726.6,705.8 727.9,705.7 729.2,705.6 730.5,705.6 731.9,705.5 733.2,705.4 734.5,705.4 735.9,705.3 737.2,705.2 738.5,705.1 739.8,705.0 741.2,704.9 742.5,704.8 743.8,704.8 745.2,704.7 746.5,704.6 747.8,704.5 749.1,704.4 750.5,704.2 751.8,704.1 753.1,704.0 754.4,703.9 755.8,703.8 757.1,703.6 758.4,703.5 759.8,703.4 761.1,703.2 762.4,703.1 763.7,702.9 765.1,702.8 766.4,702.6 767.7,702.4 769.1,702.3 770.4,702.1 771.7,701.9 773.0,701.7 774.4,701.5 775.7,701.3 777.0,701.1 778.3,700.8 779.7,700.6 781.0,700.3 782.3,700.1 783.7,699.8 785.0,699.5 786.3,699.2 787.6,698.9 789.0,698.6 790.3,698.2 791.6,697.8 793.0,697.5 794.3,697.1 795.6,696.6 796.9,696.2 798.3,695.7 799.6,695.2 800.9,694.7 802.2,694.2 803.6,693.6 804.9,693.0 806.2,692.3 807.6,691.7 808.9,690.9 810.2,690.2 811.5,689.4 812.9,688.5 814.2,687.6 815.5,686.6 816.9,685.6 818.2,684.5 819.5,683.4 820.8,682.1 822.2,680.8 822.2,680.8 822.6,680.3 823.1,679.9 823.5,679.4 823.9,679.0 824.3,678.5 824.8,678.0 824.8,677.9 825.2,677.5 825.6,677.0 826.0,676.5 826.1,676.4 826.5,676.0 826.9,675.5 827.3,674.9 827.5,674.7 827.7,674.4 828.2,673.8 828.6,673.3 828.8,673.0 829.0,672.7 829.4,672.1 829.9,671.5 830.1,671.1 830.3,670.9 830.7,670.3 831.1,669.7 831.5,669.2 831.6,669.1 832.0,668.4 832.4,667.8 832.8,667.3 832.8,667.2 833.3,666.5 833.7,665.9 834.1,665.2 834.5,664.6 835.0,663.9 835.4,663.3 835.4,663.2 835.8,662.7 836.2,662.0 836.7,661.4 836.8,661.2 837.1,660.8 837.5,660.2 837.9,659.6 838.1,659.4 838.4,659.0 838.8,658.4 839.2,657.9 839.4,657.6 839.6,657.4 840.1,656.9 840.5,656.4 840.8,656.2 840.9,656.0 841.3,655.6 841.4,655.5 841.5,655.5 841.6,655.4 841.7,655.3 841.8,655.3 841.8,655.2 841.9,655.1 842.0,655.0 842.1,655.0 842.1,655.0 842.2,654.9 842.3,654.9 842.4,654.8 842.4,654.7 842.5,654.7 842.6,654.6 842.7,654.6 842.8,654.5 842.9,654.5 843.0,654.4 843.0,654.4 843.1,654.3 843.2,654.3 843.3,654.2 843.4,654.2 843.4,654.2 843.5,654.1 843.5,654.1 843.6,654.1 843.7,654.0 843.8,654.0 843.9,653.9 844.0,653.9 844.1,653.9 844.1,653.8 844.2,653.8 844.3,653.8 844.4,653.7 844.5,653.7 844.6,653.7 844.7,653.7 844.7,653.6 844.8,653.6 844.9,653.6 845.0,653.6 845.1,653.5 845.2,653.5 845.2,653.5 845.3,653.5 845.4,653.5 845.5,653.5 845.6,653.4 846.0,653.4 846.1,653.4 846.4,653.3 846.9,653.3 847.3,653.3 847.4,653.3 847.7,653.3 848.1,653.3 848.6,653.3 848.7,653.3 849.0,653.3 849.4,653.3 849.8,653.3 850.0,653.3 850.3,653.3 850.7,653.3 851.1,653.3 851.4,653.3 851.5,653.3 852.0,653.3 852.4,653.3 852.7,653.3 852.8,653.3 853.2,653.3 853.7,653.3 854.0,653.4 854.1,653.4 854.5,653.4 854.6,653.5 854.7,653.5 854.8,653.5 854.9,653.5 854.9,653.5 855.0,653.5 855.1,653.6 855.2,653.6 855.3,653.6 855.4,653.6 855.4,653.7 855.5,653.7 855.6,653.7 855.7,653.7 855.8,653.8 855.9,653.8 856.0,653.8 856.0,653.9 856.1,653.9 856.2,653.9 856.3,654.0 856.4,654.0 856.5,654.1 856.6,654.1 856.6,654.1 856.7,654.2 856.7,654.2 856.8,654.2 856.9,654.3 857.0,654.3 857.1,654.4 857.1,654.4 857.2,654.5 857.3,654.5 857.4,654.6 857.5,654.6 857.6,654.7 857.7,654.7 857.7,654.8 857.8,654.9 857.9,654.9 858.0,655.0 858.0,655.0 858.1,655.0 858.2,655.1 858.3,655.2 858.3,655.3 858.4,655.3 858.5,655.4 858.6,655.5 858.7,655.5 858.8,655.6 859.2,656.0 859.3,656.2 859.6,656.4 860.0,656.9 860.5,657.4 860.7,657.6 860.9,657.9 861.3,658.4 861.7,659.0 862.0,659.4 862.2,659.6 862.6,660.2 863.0,660.8 863.3,661.2 863.4,661.4 863.9,662.0 864.3,662.7 864.7,663.2 864.7,663.3 865.1,663.9 865.6,664.6 866.0,665.2 866.4,665.9 866.8,666.5 867.3,667.2 867.3,667.3 867.7,667.8 868.1,668.4 868.5,669.1 868.6,669.2 869.0,669.7 869.4,670.3 869.8,670.9 870.0,671.1 870.2,671.5 870.7,672.1 871.1,672.7 871.3,673.0 871.5,673.3 871.9,673.8 872.4,674.4 872.6,674.7 872.8,674.9 873.2,675.5 873.6,676.0 874.0,676.4 874.1,676.5 874.5,677.0 874.9,677.5 875.3,677.9 875.3,678.0 875.8,678.5 876.2,679.0 876.6,679.4 877.0,679.9 877.5,680.3 877.9,680.8 877.9,680.8 879.3,682.1 880.6,683.4 881.9,684.5 883.2,685.6 884.6,686.6 885.9,687.6 887.2,688.5 888.6,689.4 889.9,690.2 891.2,690.9 892.5,691.7 893.9,692.3 895.2,693.0 896.5,693.6 897.9,694.2 899.2,694.7 900.5,695.2 901.8,695.7 903.2,696.2 904.5,696.6 905.8,697.1 907.1,697.5 908.5,697.8 909.8,698.2 911.1,698.6 912.5,698.9 913.8,699.2 915.1,699.5 916.4,699.8 917.8,700.1 919.1,700.3 920.4,700.6 921.8,700.8 923.1,701.1 924.4,701.3 925.7,701.5 927.1,701.7 928.4,701.9 929.7,702.1 931.0,702.3 932.4,702.4 933.7,702.6 935.0,702.8 936.4,702.9 937.7,703.1 939.0,703.2 940.3,703.4 941.7,703.5 943.0,703.6 944.3,703.8 945.7,703.9 947.0,704.0 948.3,704.1 949.6,704.2 951.0,704.4 952.3,704.5 953.6,704.6 954.9,704.7 956.3,704.8 957.6,704.8 958.9,704.9 960.3,705.0 961.6,705.1 962.9,705.2 964.2,705.3 965.6,705.4 966.9,705.4 968.2,705.5 969.6,705.6 970.9,705.6 972.2,705.7 973.5,705.8 974.9,705.8 976.2,705.9 977.5,706.0 978.8,706.0 980.2,706.1 981.5,706.1 982.8,706.2 984.2,706.3 985.5,706.3 986.8,706.4 988.1,706.4 989.5,706.5 990.8,706.5 992.1,706.6 993.5,706.6 994.8,706.6 996.1,706.7 997.4,706.7 998.8,706.8 1000.1,706.8 1001.4,706.9 1002.7,706.9 1004.1,706.9 1005.4,707.0 1006.7,707.0 1008.1,707.0 1009.4,707.1 1010.7,707.1 1012.0,707.1 1013.4,707.2 1014.7,707.2 1016.0,707.2 1017.4,707.3 1018.7,707.3 1020.0,707.3 1021.3,707.4 1022.7,707.4 1024.0,707.4 1025.3,707.5 1026.6,707.5 1028.0,707.5 1029.3,707.5 1030.6,707.6 1032.0,707.6 1033.3,707.6 1034.6,707.6 1035.9,707.7 1037.3,707.7 1038.6,707.7 1039.9,707.7 1041.3,707.8 1042.6,707.8 1043.9,707.8 1045.2,707.8 1046.6,707.8 1047.9,707.9 1049.2,707.9 1050.5,707.9 1051.9,707.9 1053.2,707.9 1054.5,708.0 1055.9,708.0 1057.2,708.0 1058.5,708.0 1059.8,708.0 1061.2,708.0 1062.5,708.1" stroke="#222222" stroke-width="1.1"/>
<polyline points="637.6,707.5 638.9,707.4 640.3,707.4 641.6,707.4 642.9,707.4 644.2,707.3 645.6,707.3 646.9,707.3 648.2,707.3 649.6,707.2 650.9,707.2 652.2,707.2 653.5,707.1 654.9,707.1 656.2,707.1 657.5,707.1 658.8,707.0 660.2,707.0 661.5,707.0 662.8,706.9 664.2,706.9 665.5,706.9 666.8,706.8 668.1,706.8 669.5,706.8 670.8,706.7 672.1,706.7 673.5,706.7 674.8,706.6 676.1,706.6 677.4,706.5 678.8,706.5 680.1,706.5 681.4,706.4 682.7,706.4 684.1,706.3 685.4,706.3 686.7,706.2 688.1,706.2 689.4,706.2 690.7,706.1 692.0,706.1 693.4,706.0 694.7,706.0 696.0,705.9 697.4,705.9 698.7,705.8 700.0,705.7 701.3,705.7 702.7,705.6 704.0,705.6 705.3,705.5 706.6,705.5 708.0,705.4 709.3,705.3 710.6,705.3 712.0,705.2 713.3,705.1 714.6,705.1 715.9,705.0 717.3,704.9 718.6,704.8 719.9,704.8 721.3,704.7 722.6,704.6 723.9,704.5 725.2,704.4 726.6,704.3 727.9,704.3 729.2,704.2 730.5,704.1 731.9,704.0 733.2,703.9 734.5,703.8 735.9,703.7 737.2,703.6 738.5,703.5 739.8,703.3 741.2,703.2 742.5,703.1 743.8,703.0 745.2,702.9 746.5,702.7 747.8,702.6 749.1,702.5 750.5,702.3 751.8,702.2 753.1,702.0 754.4,701.9 755.8,701.7 757.1,701.5 758.4,701.3 759.8,701.2 761.1,701.0 762.4,700.8 763.7,700.6 765.1,700.4 766.4,700.2 767.7,700.0 769.1,699.7 770.4,699.5 771.7,699.2 773.0,699.0 774.4,698.7 775.7,698.4 777.0,698.2 778.3,697.9 779.7,697.6 781.0,697.2 782.3,696.9 783.7,696.5 785.0,696.2 786.3,695.8 787.6,695.4 789.0,695.0 790.3,694.5 791.6,694.1 793.0,693.6 794.3,693.1 795.6,692.5 796.9,692.0 798.3,691.4 799.6,690.8 800.9,690.1 802.2,689.4 803.6,688.7 804.9,687.9 806.2,687.1 807.6,686.3 808.9,685.4 810.2,684.4 811.5,683.4 812.9,682.3 814.2,681.1 815.5,679.9 816.9,678.5 818.2,677.1 819.5,675.6 820.8,673.9 822.2,672.2 822.2,672.1 822.6,671.5 823.1,670.9 823.5,670.2 823.9,669.6 824.3,668.9 824.8,668.2 824.8,668.1 825.2,667.5 825.6,666.8 826.0,666.1 826.1,665.9 826.5,665.3 826.9,664.5 827.3,663.7 827.5,663.4 827.7,662.8 828.2,662.0 828.6,661.1 828.8,660.6 829.0,660.2 829.4,659.2 829.9,658.2 830.1,657.6 830.3,657.2 830.7,656.1 831.1,655.0 831.5,654.2 831.6,653.9 832.0,652.7 832.4,651.5 832.8,650.4 832.8,650.2 833.3,648.9 833.7,647.5 834.1,646.1 834.5,644.6 835.0,643.0 835.4,641.4 835.4,641.2 835.8,639.7 836.2,637.9 836.7,636.0 836.8,635.5 837.1,634.0 837.5,631.9 837.9,629.8 838.1,628.9 838.4,627.5 838.8,625.1 839.2,622.6 839.4,621.4 839.6,620.1 840.1,617.4 840.5,614.7 840.8,613.0 840.9,612.0 841.3,609.4 841.4,608.9 841.5,608.4 841.6,607.9 841.7,607.5 841.8,607.0 841.8,606.5 841.9,606.1 842.0,605.7 842.1,605.3 842.1,605.2 842.2,604.8 842.3,604.5 842.4,604.1 842.4,603.8 842.5,603.4 842.6,603.1 842.7,602.9 842.8,602.6 842.9,602.4 843.0,602.2 843.0,602.0 843.1,601.9 843.2,601.8 843.3,601.7 843.4,601.6 843.4,601.6 843.5,601.6 843.5,601.6 843.6,601.6 843.7,601.7 843.8,601.8 843.9,601.9 844.0,602.0 844.1,602.2 844.1,602.4 844.2,602.6 844.3,602.9 844.4,603.1 844.5,603.4 844.6,603.7 844.7,604.1 844.7,604.4 844.8,604.8 844.9,605.1 845.0,605.5 845.1,605.9 845.2,606.3 845.2,606.7 845.3,607.2 845.4,607.6 845.5,608.0 845.6,608.5 846.0,610.8 846.1,611.0 846.4,613.0 846.9,615.1 847.3,617.1 847.4,617.6 847.7,618.8 848.1,620.3 848.6,621.6 848.7,622.0 849.0,622.5 849.4,623.1 849.8,623.4 850.0,623.5 850.3,623.4 850.7,623.1 851.1,622.5 851.4,622.0 851.5,621.6 852.0,620.3 852.4,618.8 852.7,617.6 852.8,617.1 853.2,615.1 853.7,613.0 854.0,611.0 854.1,610.8 854.5,608.5 854.6,608.0 854.7,607.6 854.8,607.2 854.9,606.7 854.9,606.3 855.0,605.9 855.1,605.5 855.2,605.1 855.3,604.8 855.4,604.4 855.4,604.1 855.5,603.7 855.6,603.4 855.7,603.1 855.8,602.9 855.9,602.6 856.0,602.4 856.0,602.2 856.1,602.0 856.2,601.9 856.3,601.8 856.4,601.7 856.5,601.6 856.6,601.6 856.6,601.6 856.7,601.6 856.7,601.6 856.8,601.7 856.9,601.8 857.0,601.9 857.1,602.0 857.1,602.2 857.2,602.4 857.3,602.6 857.4,602.9 857.5,603.1 857.6,603.4 857.7,603.8 857.7,604.1 857.8,604.5 857.9,604.8 858.0,605.2 858.0,605.3 858.1,605.7 858.2,606.1 858.3,606.5 858.3,607.0 858.4,607.5 858.5,607.9 858.6,608.4 858.7,608.9 858.8,609.4 859.2,612.0 859.3,613.0 859.6,614.7 860.0,617.4 860.5,620.1 860.7,621.4 860.9,622.6 861.3,625.1 861.7,627.5 862.0,628.9 862.2,629.8 862.6,631.9 863.0,634.0 863.3,635.5 863.4,636.0 863.9,637.9 864.3,639.7 864.7,641.2 864.7,641.4 865.1,643.0 865.6,644.6 866.0,646.1 866.4,647.5 866.8,648.9 867.3,650.2 867.3,650.4 867.7,651.5 868.1,652.7 868.5,653.9 868.6,654.2 869.0,655.0 869.4,656.1 869.8,657.2 870.0,657.6 870.2,658.2 870.7,659.2 871.1,660.2 871.3,660.6 871.5,661.1 871.9,662.0 872.4,662.8 872.6,663.4 872.8,663.7 873.2,664.5 873.6,665.3 874.0,665.9 874.1,666.1 874.5,666.8 874.9,667.5 875.3,668.1 875.3,668.2 875.8,668.9 876.2,669.6 876.6,670.2 877.0,670.9 877.5,671.5 877.9,672.1 877.9,672.2 879.3,673.9 880.6,675.6 881.9,677.1 883.2,678.5 884.6,679.9 885.9,681.1 887.2,682.3 888.6,683.4 889.9,684.4 891.2,685.4 892.5,686.3 893.9,687.1 895.2,687.9 896.5,688.7 897.9,689.4 899.2,690.1 900.5,690.8 901.8,691.4 903.2,692.0 904.5,692.5 905.8,693.1 907.1,693.6 908.5,694.1 909.8,694.5 911.1,695.0 912.5,695.4 913.8,695.8 915.1,696.2 916.4,696.5 917.8,696.9 919.1,697.2 920.4,697.6 921.8,697.9 923.1,698.2 924.4,698.4 925.7,698.7 927.1,699.0 928.4,699.2 929.7,699.5 931.0,699.7 932.4,700.0 933.7,700.2 935.0,700.4 936.4,700.6 937.7,700.8 939.0,701.0 940.3,701.2 941.7,701.3 943.0,701.5 944.3,701.7 945.7,701.9 947.0,702.0 948.3,702.2 949.6,702.3 951.0,702.5 952.3,702.6 953.6,702.7 954.9,702.9 956.3,703.0 957.6,703.1 958.9,703.2 960.3,703.3 961.6,703.5 962.9,703.6 964.2,703.7 965.6,703.8 966.9,703.9 968.2,704.0 969.6,704.1 970.9,704.2 972.2,704.3 973.5,704.3 974.9,704.4 976.2,704.5 977.5,704.6 978.8,704.7 980.2,704.8 981.5,704.8 982.8,704.9 984.2,705.0 985.5,705.1 986.8,705.1 988.1,705.2 989.5,705.3 990.8,705.3 992.1,705.4 993.5,705.5 994.8,705.5 996.1,705.6 997.4,705.6 998.8,705.7 1000.1,705.7 1001.4,705.8 1002.7,705.9 1004.1,705.9 1005.4,706.0 1006.7,706.0 1008.1,706.1 1009.4,706.1 1010.7,706.2 1012.0,706.2 1013.4,706.2 1014.7,706.3 1016.0,706.3 1017.4,706.4 1018.7,706.4 1020.0,706.5 1021.3,706.5 1022.7,706.5 1024.0,706.6 1025.3,706.6 1026.6,706.7 1028.0,706.7 1029.3,706.7 1030.6,706.8 1032.0,706.8 1033.3,706.8 1034.6,706.9 1035.9,706.9 1037.3,706.9 1038.6,707.0 1039.9,707.0 1041.3,707.0 1042.6,707.1 1043.9,707.1 1045.2,707.1 1046.6,707.1 1047.9,707.2 1049.2,707.2 1050.5,707.2 1051.9,707.3 1053.2,707.3 1054.5,707.3 1055.9,707.3 1057.2,707.4 1058.5,707.4 1059.8,707.4 1061.2,707.4 1062.5,707.5" stroke="#222222" stroke-width="1.2"/>
<polyline points="637.6,707.1 638.9,707.0 640.3,707.0 641.6,707.0 642.9,706.9 644.2,706.9 645.6,706.9 646.9,706.9 648.2,706.8 649.6,706.8 650.9,706.8 652.2,706.7 653.5,706.7 654.9,706.7 656.2,706.6 657.5,706.6 658.8,706.6 660.2,706.5 661.5,706.5 662.8,706.4 664.2,706.4 665.5,706.4 666.8,706.3 668.1,706.3 669.5,706.2 670.8,706.2 672.1,706.2 673.5,706.1 674.8,706.1 676.1,706.0 677.4,706.0 678.8,705.9 680.1,705.9 681.4,705.8 682.7,705.8 684.1,705.7 685.4,705.7 686.7,705.6 688.1,705.6 689.4,705.5 690.7,705.5 692.0,705.4 693.4,705.3 694.7,705.3 696.0,705.2 697.4,705.1 698.7,705.1 700.0,705.0 701.3,704.9 702.7,704.9 704.0,704.8 705.3,704.7 706.6,704.7 708.0,704.6 709.3,704.5 710.6,704.4 712.0,704.4 713.3,704.3 714.6,704.2 715.9,704.1 717.3,704.0 718.6,703.9 719.9,703.8 721.3,703.7 722.6,703.6 723.9,703.5 725.2,703.4 726.6,703.3 727.9,703.2 729.2,703.1 730.5,703.0 731.9,702.9 733.2,702.8 734.5,702.6 735.9,702.5 737.2,702.4 738.5,702.2 739.8,702.1 741.2,702.0 742.5,701.8 743.8,701.7 745.2,701.5 746.5,701.4 747.8,701.2 749.1,701.0 750.5,700.8 751.8,700.7 753.1,700.5 754.4,700.3 755.8,700.1 757.1,699.9 758.4,699.7 759.8,699.5 761.1,699.2 762.4,699.0 763.7,698.8 765.1,698.5 766.4,698.2 767.7,698.0 769.1,697.7 770.4,697.4 771.7,697.1 773.0,696.8 774.4,696.5 775.7,696.1 777.0,695.8 778.3,695.4 779.7,695.0 781.0,694.6 782.3,694.2 783.7,693.8 785.0,693.3 786.3,692.9 787.6,692.4 789.0,691.9 790.3,691.3 791.6,690.8 793.0,690.2 794.3,689.5 795.6,688.9 796.9,688.2 798.3,687.5 799.6,686.7 800.9,685.9 802.2,685.1 803.6,684.2 804.9,683.2 806.2,682.2 807.6,681.2 808.9,680.0 810.2,678.8 811.5,677.6 812.9,676.2 814.2,674.7 815.5,673.1 816.9,671.5 818.2,669.6 819.5,667.7 820.7,665.7 820.8,665.5 821.2,665.0 821.6,664.2 822.0,663.5 822.2,663.2 822.4,662.7 822.9,661.9 823.3,661.0 823.5,660.6 823.7,660.2 824.1,659.3 824.6,658.3 824.8,657.7 825.0,657.4 825.4,656.4 825.8,655.4 826.1,654.6 826.3,654.3 826.7,653.2 827.1,652.1 827.5,651.0 827.5,650.9 828.0,649.7 828.4,648.4 828.8,647.0 829.2,645.6 829.7,644.1 830.1,642.6 830.1,642.4 830.5,641.0 830.9,639.3 831.4,637.5 831.5,637.0 831.8,635.6 832.2,633.6 832.6,631.5 832.8,630.7 833.1,629.3 833.5,626.9 833.9,624.3 834.1,622.9 834.3,621.5 834.8,618.6 835.2,615.4 835.4,613.2 835.6,611.9 836.0,608.1 836.5,604.0 836.8,600.6 836.9,599.4 837.3,594.3 837.7,588.6 838.1,583.0 838.2,582.2 838.6,574.8 839.0,566.3 839.4,556.2 839.9,543.9 839.9,541.2 840.0,538.3 840.1,535.2 840.2,532.0 840.3,528.6 840.4,525.1 840.4,521.3 840.5,517.3 840.6,513.0 840.7,508.4 840.8,505.4 840.8,503.5 840.9,498.3 841.0,492.6 841.0,486.3 841.1,479.5 841.2,471.9 841.3,463.4 841.4,453.8 841.5,442.7 841.6,429.6 841.6,423.1 841.7,423.1 841.8,423.1 841.9,423.1 842.0,423.1 842.1,423.1 842.1,423.1 842.1,423.1 842.2,423.1 842.3,423.1 842.4,423.1 842.5,423.1 842.6,423.1 842.7,423.1 842.7,423.1 842.8,423.1 842.9,423.1 843.0,423.1 843.1,423.1 843.2,423.1 843.3,423.1 843.3,423.1 843.4,423.1 843.4,423.1 843.5,423.1 843.6,423.1 843.7,423.1 843.8,423.1 843.8,423.1 843.9,423.1 844.0,423.1 844.1,423.1 844.5,423.1 844.7,423.1 845.0,423.1 845.4,423.1 845.8,423.1 846.1,423.1 846.2,423.1 846.7,423.1 847.1,423.1 847.4,423.1 847.5,423.1 847.9,423.1 848.4,423.1 848.7,423.1 848.8,423.1 849.2,423.1 849.6,423.1 850.0,423.1 850.5,423.1 850.9,423.1 851.3,423.1 851.4,423.1 851.7,423.1 852.2,423.1 852.6,423.1 852.7,423.1 853.0,423.1 853.4,423.1 853.9,423.1 854.0,423.1 854.3,423.1 854.7,423.1 855.1,423.1 855.4,423.1 855.6,423.1 856.0,423.1 856.1,423.1 856.2,423.1 856.3,423.1 856.3,423.1 856.4,423.1 856.5,423.1 856.6,423.1 856.7,423.1 856.7,423.1 856.8,423.1 856.8,423.1 856.9,423.1 857.0,423.1 857.1,423.1 857.2,423.1 857.3,423.1 857.4,423.1 857.4,423.1 857.5,423.1 857.6,423.1 857.7,423.1 857.8,423.1 857.9,423.1 858.0,423.1 858.0,423.1 858.0,423.1 858.1,423.1 858.2,423.1 858.3,423.1 858.4,423.1 858.5,423.1 858.5,429.6 858.6,442.7 858.7,453.8 858.8,463.4 858.9,471.9 859.0,479.5 859.1,486.3 859.1,492.6 859.2,498.3 859.3,503.5 859.3,505.4 859.4,508.4 859.5,513.0 859.6,517.3 859.7,521.3 859.7,525.1 859.8,528.6 859.9,532.0 860.0,535.2 860.1,538.3 860.2,541.2 860.2,543.9 860.7,556.2 861.1,566.3 861.5,574.8 861.9,582.2 862.0,583.0 862.4,588.6 862.8,594.3 863.2,599.4 863.3,600.6 863.6,604.0 864.1,608.1 864.5,611.9 864.7,613.2 864.9,615.4 865.3,618.6 865.8,621.5 866.0,622.9 866.2,624.3 866.6,626.9 867.0,629.3 867.3,630.7 867.5,631.5 867.9,633.6 868.3,635.6 868.6,637.0 868.7,637.5 869.2,639.3 869.6,641.0 870.0,642.4 870.0,642.6 870.4,644.1 870.9,645.6 871.3,647.0 871.7,648.4 872.1,649.7 872.6,650.9 872.6,651.0 873.0,652.1 873.4,653.2 873.8,654.3 874.0,654.6 874.3,655.4 874.7,656.4 875.1,657.4 875.3,657.7 875.5,658.3 876.0,659.3 876.4,660.2 876.6,660.6 876.8,661.0 877.2,661.9 877.7,662.7 877.9,663.2 878.1,663.5 878.5,664.2 878.9,665.0 879.3,665.5 879.4,665.7 880.6,667.7 881.9,669.6 883.2,671.5 884.6,673.1 885.9,674.7 887.2,676.2 888.6,677.6 889.9,678.8 891.2,680.0 892.5,681.2 893.9,682.2 895.2,683.2 896.5,684.2 897.9,685.1 899.2,685.9 900.5,686.7 901.8,687.5 903.2,688.2 904.5,688.9 905.8,689.5 907.1,690.2 908.5,690.8 909.8,691.3 911.1,691.9 912.5,692.4 913.8,692.9 915.1,693.3 916.4,693.8 917.8,694.2 919.1,694.6 920.4,695.0 921.8,695.4 923.1,695.8 924.4,696.1 925.7,696.5 927.1,696.8 928.4,697.1 929.7,697.4 931.0,697.7 932.4,698.0 933.7,698.2 935.0,698.5 936.4,698.8 937.7,699.0 939.0,699.2 940.3,699.5 941.7,699.7 943.0,699.9 944.3,700.1 945.7,700.3 947.0,700.5 948.3,700.7 949.6,700.8 951.0,701.0 952.3,701.2 953.6,701.4 954.9,701.5 956.3,701.7 957.6,701.8 958.9,702.0 960.3,702.1 961.6,702.2 962.9,702.4 964.2,702.5 965.6,702.6 966.9,702.8 968.2,702.9 969.6,703.0 970.9,703.1 972.2,703.2 973.5,703.3 974.9,703.4 976.2,703.5 977.5,703.6 978.8,703.7 980.2,703.8 981.5,703.9 982.8,704.0 984.2,704.1 985.5,704.2 986.8,704.3 988.1,704.4 989.5,704.4 990.8,704.5 992.1,704.6 993.5,704.7 994.8,704.7 996.1,704.8 997.4,704.9 998.8,704.9 1000.1,705.0 1001.4,705.1 1002.7,705.1 1004.1,705.2 1005.4,705.3 1006.7,705.3 1008.1,705.4 1009.4,705.5 1010.7,705.5 1012.0,705.6 1013.4,705.6 1014.7,705.7 1016.0,705.7 1017.4,705.8 1018.7,705.8 1020.0,705.9 1021.3,705.9 1022.7,706.0 1024.0,706.0 1025.3,706.1 1026.6,706.1 1028.0,706.2 1029.3,706.2 1030.6,706.2 1032.0,706.3 1033.3,706.3 1034.6,706.4 1035.9,706.4 1037.3,706.4 1038.6,706.5 1039.9,706.5 1041.3,706.6 1042.6,706.6 1043.9,706.6 1045.2,706.7 1046.6,706.7 1047.9,706.7 1049.2,706.8 1050.5,706.8 1051.9,706.8 1053.2,706.9 1054.5,706.9 1055.9,706.9 1057.2,706.9 1058.5,707.0 1059.8,707.0 1061.2,707.0 1062.5,707.1" stroke="#9B55AF" stroke-width="1.15"/>
<polyline points="637.6,707.1 638.9,707.1 640.3,707.0 641.6,707.0 642.9,707.0 644.2,707.0 645.6,706.9 646.9,706.9 648.2,706.9 649.6,706.8 650.9,706.8 652.2,706.8 653.5,706.7 654.9,706.7 656.2,706.7 657.5,706.6 658.8,706.6 660.2,706.6 661.5,706.5 662.8,706.5 664.2,706.4 665.5,706.4 666.8,706.4 668.1,706.3 669.5,706.3 670.8,706.2 672.1,706.2 673.5,706.2 674.8,706.1 676.1,706.1 677.4,706.0 678.8,706.0 680.1,705.9 681.4,705.9 682.7,705.8 684.1,705.8 685.4,705.7 686.7,705.7 688.1,705.6 689.4,705.6 690.7,705.5 692.0,705.5 693.4,705.4 694.7,705.3 696.0,705.3 697.4,705.2 698.7,705.2 700.0,705.1 701.3,705.0 702.7,705.0 704.0,704.9 705.3,704.8 706.6,704.7 708.0,704.7 709.3,704.6 710.6,704.5 712.0,704.4 713.3,704.4 714.6,704.3 715.9,704.2 717.3,704.1 718.6,704.0 719.9,703.9 721.3,703.8 722.6,703.7 723.9,703.6 725.2,703.5 726.6,703.4 727.9,703.3 729.2,703.2 730.5,703.1 731.9,703.0 733.2,702.9 734.5,702.8 735.9,702.6 737.2,702.5 738.5,702.4 739.8,702.3 741.2,702.1 742.5,702.0 743.8,701.8 745.2,701.7 746.5,701.5 747.8,701.4 749.1,701.2 750.5,701.0 751.8,700.9 753.1,700.7 754.4,700.5 755.8,700.3 757.1,700.1 758.4,699.9 759.8,699.7 761.1,699.5 762.4,699.3 763.7,699.0 765.1,698.8 766.4,698.5 767.7,698.3 769.1,698.0 770.4,697.7 771.7,697.4 773.0,697.1 774.4,696.8 775.7,696.5 777.0,696.2 778.3,695.8 779.7,695.5 781.0,695.1 782.3,694.7 783.7,694.3 785.0,693.8 786.3,693.4 787.6,692.9 789.0,692.4 790.3,691.9 791.6,691.4 793.0,690.8 794.3,690.2 795.6,689.6 796.9,689.0 798.3,688.3 799.6,687.6 800.9,686.8 802.2,686.0 803.6,685.2 804.9,684.3 806.2,683.4 807.6,682.4 808.9,681.3 810.2,680.2 811.5,679.0 812.9,677.7 814.2,676.4 815.5,674.9 816.9,673.3 818.2,671.7 819.5,669.9 820.8,667.9 822.2,665.8 822.2,665.7 822.6,665.0 823.1,664.2 823.5,663.5 823.9,662.7 824.3,661.9 824.8,661.0 824.8,660.9 825.2,660.2 825.6,659.3 826.0,658.3 826.1,658.1 826.5,657.4 826.9,656.4 827.3,655.4 827.5,655.0 827.7,654.3 828.2,653.2 828.6,652.1 828.8,651.5 829.0,650.9 829.4,649.7 829.9,648.4 830.1,647.5 830.3,647.0 830.7,645.6 831.1,644.1 831.5,643.0 831.6,642.6 832.0,641.0 832.4,639.3 832.8,637.7 832.8,637.5 833.3,635.6 833.7,633.6 834.1,631.5 834.5,629.3 835.0,626.9 835.4,624.3 835.4,624.0 835.8,621.5 836.2,618.6 836.7,615.4 836.8,614.5 837.1,611.9 837.5,608.1 837.9,604.0 838.1,602.3 838.4,599.4 838.8,594.3 839.2,588.6 839.4,585.5 839.6,582.2 840.1,574.8 840.5,566.3 840.8,560.2 840.9,556.2 841.3,543.9 841.4,541.2 841.5,538.3 841.6,535.2 841.7,532.0 841.8,528.6 841.8,525.1 841.9,521.3 842.0,517.3 842.1,514.1 842.1,513.0 842.2,508.4 842.3,503.5 842.4,498.3 842.4,492.6 842.5,486.3 842.6,479.5 842.7,471.9 842.8,463.4 842.9,453.8 843.0,442.7 843.0,429.6 843.1,423.1 843.2,423.1 843.3,423.1 843.4,423.1 843.4,423.1 843.5,423.1 843.5,423.1 843.6,423.1 843.7,423.1 843.8,423.1 843.9,429.6 844.0,442.7 844.1,453.8 844.1,463.4 844.2,471.9 844.3,479.5 844.4,486.3 844.5,492.6 844.6,498.3 844.7,503.5 844.7,508.4 844.8,513.0 844.9,517.3 845.0,521.3 845.1,525.0 845.2,528.6 845.2,532.0 845.3,535.1 845.4,538.2 845.5,541.1 845.6,543.8 846.0,555.9 846.1,557.3 846.4,565.8 846.9,574.1 847.3,580.9 847.4,582.5 847.7,586.6 848.1,591.3 848.6,595.0 848.7,596.2 849.0,597.8 849.4,599.7 849.8,600.6 850.0,600.7 850.3,600.6 850.7,599.7 851.1,597.8 851.4,596.2 851.5,595.0 852.0,591.3 852.4,586.6 852.7,582.5 852.8,580.9 853.2,574.1 853.7,565.8 854.0,557.3 854.1,555.9 854.5,543.8 854.6,541.1 854.7,538.2 854.8,535.1 854.9,532.0 854.9,528.6 855.0,525.0 855.1,521.3 855.2,517.3 855.3,513.0 855.4,508.4 855.4,503.5 855.5,498.3 855.6,492.6 855.7,486.3 855.8,479.5 855.9,471.9 856.0,463.4 856.0,453.8 856.1,442.7 856.2,429.6 856.3,423.1 856.4,423.1 856.5,423.1 856.6,423.1 856.6,423.1 856.7,423.1 856.7,423.1 856.8,423.1 856.9,423.1 857.0,423.1 857.1,429.6 857.1,442.7 857.2,453.8 857.3,463.4 857.4,471.9 857.5,479.5 857.6,486.3 857.7,492.6 857.7,498.3 857.8,503.5 857.9,508.4 858.0,513.0 858.0,514.1 858.1,517.3 858.2,521.3 858.3,525.1 858.3,528.6 858.4,532.0 858.5,535.2 858.6,538.3 858.7,541.2 858.8,543.9 859.2,556.2 859.3,560.2 859.6,566.3 860.0,574.8 860.5,582.2 860.7,585.5 860.9,588.6 861.3,594.3 861.7,599.4 862.0,602.3 862.2,604.0 862.6,608.1 863.0,611.9 863.3,614.5 863.4,615.4 863.9,618.6 864.3,621.5 864.7,624.0 864.7,624.3 865.1,626.9 865.6,629.3 866.0,631.5 866.4,633.6 866.8,635.6 867.3,637.5 867.3,637.7 867.7,639.3 868.1,641.0 868.5,642.6 868.6,643.0 869.0,644.1 869.4,645.6 869.8,647.0 870.0,647.5 870.2,648.4 870.7,649.7 871.1,650.9 871.3,651.5 871.5,652.1 871.9,653.2 872.4,654.3 872.6,655.0 872.8,655.4 873.2,656.4 873.6,657.4 874.0,658.1 874.1,658.3 874.5,659.3 874.9,660.2 875.3,660.9 875.3,661.0 875.8,661.9 876.2,662.7 876.6,663.5 877.0,664.2 877.5,665.0 877.9,665.7 877.9,665.8 879.3,667.9 880.6,669.9 881.9,671.7 883.2,673.3 884.6,674.9 885.9,676.4 887.2,677.7 888.6,679.0 889.9,680.2 891.2,681.3 892.5,682.4 893.9,683.4 895.2,684.3 896.5,685.2 897.9,686.0 899.2,686.8 900.5,687.6 901.8,688.3 903.2,689.0 904.5,689.6 905.8,690.2 907.1,690.8 908.5,691.4 909.8,691.9 911.1,692.4 912.5,692.9 913.8,693.4 915.1,693.8 916.4,694.3 917.8,694.7 919.1,695.1 920.4,695.5 921.8,695.8 923.1,696.2 924.4,696.5 925.7,696.8 927.1,697.1 928.4,697.4 929.7,697.7 931.0,698.0 932.4,698.3 933.7,698.5 935.0,698.8 936.4,699.0 937.7,699.3 939.0,699.5 940.3,699.7 941.7,699.9 943.0,700.1 944.3,700.3 945.7,700.5 947.0,700.7 948.3,700.9 949.6,701.0 951.0,701.2 952.3,701.4 953.6,701.5 954.9,701.7 956.3,701.8 957.6,702.0 958.9,702.1 960.3,702.3 961.6,702.4 962.9,702.5 964.2,702.6 965.6,702.8 966.9,702.9 968.2,703.0 969.6,703.1 970.9,703.2 972.2,703.3 973.5,703.4 974.9,703.5 976.2,703.6 977.5,703.7 978.8,703.8 980.2,703.9 981.5,704.0 982.8,704.1 984.2,704.2 985.5,704.3 986.8,704.4 988.1,704.4 989.5,704.5 990.8,704.6 992.1,704.7 993.5,704.7 994.8,704.8 996.1,704.9 997.4,705.0 998.8,705.0 1000.1,705.1 1001.4,705.2 1002.7,705.2 1004.1,705.3 1005.4,705.3 1006.7,705.4 1008.1,705.5 1009.4,705.5 1010.7,705.6 1012.0,705.6 1013.4,705.7 1014.7,705.7 1016.0,705.8 1017.4,705.8 1018.7,705.9 1020.0,705.9 1021.3,706.0 1022.7,706.0 1024.0,706.1 1025.3,706.1 1026.6,706.2 1028.0,706.2 1029.3,706.2 1030.6,706.3 1032.0,706.3 1033.3,706.4 1034.6,706.4 1035.9,706.4 1037.3,706.5 1038.6,706.5 1039.9,706.6 1041.3,706.6 1042.6,706.6 1043.9,706.7 1045.2,706.7 1046.6,706.7 1047.9,706.8 1049.2,706.8 1050.5,706.8 1051.9,706.9 1053.2,706.9 1054.5,706.9 1055.9,707.0 1057.2,707.0 1058.5,707.0 1059.8,707.0 1061.2,707.1 1062.5,707.1" stroke="#9B55AF" stroke-width="1.15"/>
</g>
<rect x="637.6" y="508.3" width="424.9" height="201.7" fill="none" stroke="#383838" stroke-width="1.25"/>
<text x="611.12" y="715.57" font-family="'Liberation Sans', Arial, Helvetica, sans-serif" font-size="29.2" font-weight="normal" font-style="normal" fill="#000" >0</text>
<line x1="637.6" y1="614.1" x2="644.6" y2="614.1" stroke="#383838" stroke-width="1.25"/>
<line x1="1062.5" y1="614.1" x2="1055.5" y2="614.1" stroke="#383838" stroke-width="1.25"/>
<text x="594.91" y="622.57" font-family="'Liberation Sans', Arial, Helvetica, sans-serif" font-size="29.2" font-weight="normal" font-style="normal" fill="#000" >20</text>
<line x1="637.6" y1="518.6" x2="644.6" y2="518.6" stroke="#383838" stroke-width="1.25"/>
<line x1="1062.5" y1="518.6" x2="1055.5" y2="518.6" stroke="#383838" stroke-width="1.25"/>
<text x="594.91" y="530.07" font-family="'Liberation Sans', Arial, Helvetica, sans-serif" font-size="29.2" font-weight="normal" font-style="normal" fill="#000" >40</text>
<text x="633.53" y="744.51" font-family="'Liberation Sans', Arial, Helvetica, sans-serif" font-size="29.2" font-weight="normal" font-style="normal" fill="#000" >-5</text>
<line x1="850.05" y1="710" x2="850.05" y2="703" stroke="#383838" stroke-width="1.25"/>
<text x="844.02" y="744.51" font-family="'Liberation Sans', Arial, Helvetica, sans-serif" font-size="29.2" font-weight="normal" font-style="normal" fill="#000" >0</text>
<text x="1048.2" y="744.51" font-family="'Liberation Sans', Arial, Helvetica, sans-serif" font-size="29.2" font-weight="normal" font-style="normal" fill="#000" >5</text>
<text x="818.15" y="777.69" font-family="'Liberation Serif', 'Times New Roman', serif" font-size="31" font-weight="normal" font-style="italic" fill="#000" >ω</text>
<text x="841.68" y="781.85" font-family="'DejaVu Sans', sans-serif" font-size="39.5" font-weight="200" font-style="normal" fill="#000" >/</text>
<text x="857.14" y="777.8" font-family="'Liberation Serif', 'Times New Roman', serif" font-size="33" font-weight="normal" font-style="italic" fill="#000" >κ</text>
<polygon points="671.6,514 676.86,524.66 688.62,526.37 680.11,534.67 682.12,546.38 671.6,540.85 661.08,546.38 663.09,534.67 654.58,526.37 666.34,524.66" fill="#983A9B"/>
<clipPath id="clipf"><rect x="1152.8" y="509.2" width="427.6" height="201.8"/></clipPath>
<g clip-path="url(#clipf)" fill="none" stroke-linejoin="round">
<polyline points="1152.8,710.7 1154.1,710.7 1155.5,710.7 1156.8,710.7 1158.1,710.7 1159.5,710.7 1160.8,710.6 1162.2,710.6 1163.5,710.6 1164.8,710.6 1166.2,710.6 1167.5,710.6 1168.8,710.6 1170.2,710.6 1171.5,710.6 1172.8,710.6 1174.2,710.6 1175.5,710.6 1176.9,710.6 1178.2,710.6 1179.5,710.6 1180.9,710.6 1182.2,710.6 1183.5,710.6 1184.9,710.6 1186.2,710.5 1187.5,710.5 1188.9,710.5 1190.2,710.5 1191.6,710.5 1192.9,710.5 1194.2,710.5 1195.6,710.5 1196.9,710.5 1198.2,710.5 1199.6,710.5 1200.9,710.5 1202.2,710.5 1203.6,710.5 1204.9,710.4 1206.2,710.4 1207.6,710.4 1208.9,710.4 1210.3,710.4 1211.6,710.4 1212.9,710.4 1214.3,710.4 1215.6,710.4 1216.9,710.4 1218.3,710.3 1219.6,710.3 1220.9,710.3 1222.3,710.3 1223.6,710.3 1225.0,710.3 1226.3,710.3 1227.6,710.3 1229.0,710.3 1230.3,710.2 1231.6,710.2 1233.0,710.2 1234.3,710.2 1235.6,710.2 1237.0,710.2 1238.3,710.1 1239.7,710.1 1241.0,710.1 1242.3,710.1 1243.7,710.1 1245.0,710.1 1246.3,710.0 1247.7,710.0 1249.0,710.0 1250.3,710.0 1251.7,710.0 1253.0,709.9 1254.4,709.9 1255.7,709.9 1257.0,709.9 1258.4,709.8 1259.7,709.8 1261.0,709.8 1262.4,709.8 1263.7,709.7 1265.0,709.7 1266.4,709.7 1267.7,709.6 1269.1,709.6 1270.4,709.6 1271.7,709.5 1273.1,709.5 1274.4,709.5 1275.7,709.4 1277.1,709.4 1278.4,709.3 1279.7,709.3 1281.1,709.3 1282.4,709.2 1283.8,709.2 1285.1,709.1 1286.4,709.1 1287.8,709.0 1289.1,709.0 1290.4,708.9 1291.8,708.8 1293.1,708.8 1294.4,708.7 1295.8,708.6 1297.1,708.6 1298.5,708.5 1299.8,708.4 1301.1,708.3 1302.5,708.2 1303.8,708.1 1305.1,708.0 1306.5,707.9 1307.8,707.8 1309.1,707.7 1310.5,707.6 1311.8,707.5 1313.2,707.4 1314.5,707.3 1315.8,707.1 1317.2,707.0 1318.5,706.8 1319.8,706.7 1321.2,706.5 1322.5,706.3 1323.8,706.2 1325.2,706.0 1326.5,705.8 1327.8,705.6 1329.2,705.3 1330.5,705.1 1331.9,704.9 1333.2,704.6 1334.5,704.4 1335.9,704.1 1337.2,703.8 1338.5,703.6 1339.9,703.3 1341.2,703.0 1342.5,702.6 1343.9,702.3 1345.2,702.0 1345.6,701.9 1346.1,701.8 1346.5,701.7 1346.6,701.7 1346.9,701.6 1347.4,701.5 1347.8,701.4 1347.9,701.4 1348.2,701.3 1348.6,701.2 1349.1,701.1 1349.2,701.0 1349.5,701.0 1349.9,700.9 1350.4,700.8 1350.6,700.7 1350.8,700.7 1351.2,700.6 1351.6,700.5 1351.9,700.4 1352.1,700.4 1352.5,700.3 1352.9,700.2 1353.2,700.1 1353.3,700.1 1353.8,700.0 1354.2,699.9 1354.6,699.8 1354.6,699.8 1355.1,699.7 1355.5,699.6 1355.9,699.5 1356.3,699.4 1356.8,699.3 1357.2,699.3 1357.2,699.3 1357.6,699.2 1358.0,699.1 1358.5,699.0 1358.6,699.0 1358.9,699.0 1359.3,698.9 1359.8,698.8 1359.9,698.8 1360.2,698.8 1360.6,698.7 1361.0,698.7 1361.3,698.6 1361.5,698.6 1361.9,698.6 1362.3,698.5 1362.6,698.5 1362.8,698.5 1363.2,698.5 1363.6,698.4 1363.9,698.4 1364.0,698.4 1364.5,698.4 1364.5,698.4 1364.6,698.4 1364.7,698.4 1364.8,698.4 1364.9,698.4 1365.0,698.4 1365.1,698.3 1365.1,698.3 1365.2,698.3 1365.3,698.3 1365.3,698.3 1365.4,698.3 1365.5,698.3 1365.6,698.3 1365.7,698.3 1365.7,698.3 1365.8,698.3 1365.9,698.3 1366.0,698.3 1366.1,698.3 1366.2,698.3 1366.3,698.3 1366.3,698.3 1366.4,698.3 1366.5,698.3 1366.6,698.3 1366.7,698.3 1366.8,698.3 1366.9,698.3 1366.9,698.3 1367.0,698.3 1367.1,698.3 1367.2,698.3 1367.3,698.3 1367.4,698.3 1367.5,698.3 1367.5,698.3 1367.6,698.3 1367.7,698.3 1367.8,698.3 1367.9,698.3 1367.9,698.3 1368.0,698.3 1368.1,698.3 1368.1,698.3 1368.2,698.4 1368.3,698.4 1368.4,698.4 1368.5,698.4 1368.6,698.4 1368.7,698.4 1368.7,698.4 1369.2,698.4 1369.3,698.4 1369.6,698.4 1370.0,698.5 1370.4,698.5 1370.6,698.5 1370.9,698.5 1371.3,698.6 1371.7,698.6 1371.9,698.6 1372.2,698.7 1372.6,698.7 1373.0,698.8 1373.3,698.8 1373.4,698.8 1373.9,698.9 1374.3,699.0 1374.6,699.0 1374.7,699.0 1375.2,699.1 1375.6,699.2 1376.0,699.3 1376.0,699.3 1376.4,699.3 1376.9,699.4 1377.3,699.5 1377.7,699.6 1378.1,699.7 1378.6,699.8 1378.6,699.8 1379.0,699.9 1379.4,700.0 1379.9,700.1 1380.0,700.1 1380.3,700.2 1380.7,700.3 1381.1,700.4 1381.3,700.4 1381.6,700.5 1382.0,700.6 1382.4,700.7 1382.6,700.7 1382.8,700.8 1383.3,700.9 1383.7,701.0 1384.0,701.0 1384.1,701.1 1384.6,701.2 1385.0,701.3 1385.3,701.4 1385.4,701.4 1385.8,701.5 1386.3,701.6 1386.6,701.7 1386.7,701.7 1387.1,701.8 1387.6,701.9 1388.0,702.0 1389.3,702.3 1390.7,702.6 1392.0,703.0 1393.3,703.3 1394.7,703.6 1396.0,703.8 1397.3,704.1 1398.7,704.4 1400.0,704.6 1401.3,704.9 1402.7,705.1 1404.0,705.3 1405.4,705.6 1406.7,705.8 1408.0,706.0 1409.4,706.2 1410.7,706.3 1412.0,706.5 1413.4,706.7 1414.7,706.8 1416.0,707.0 1417.4,707.1 1418.7,707.3 1420.1,707.4 1421.4,707.5 1422.7,707.6 1424.1,707.7 1425.4,707.8 1426.7,707.9 1428.1,708.0 1429.4,708.1 1430.7,708.2 1432.1,708.3 1433.4,708.4 1434.7,708.5 1436.1,708.6 1437.4,708.6 1438.8,708.7 1440.1,708.8 1441.4,708.8 1442.8,708.9 1444.1,709.0 1445.4,709.0 1446.8,709.1 1448.1,709.1 1449.4,709.2 1450.8,709.2 1452.1,709.3 1453.5,709.3 1454.8,709.3 1456.1,709.4 1457.5,709.4 1458.8,709.5 1460.1,709.5 1461.5,709.5 1462.8,709.6 1464.1,709.6 1465.5,709.6 1466.8,709.7 1468.2,709.7 1469.5,709.7 1470.8,709.8 1472.2,709.8 1473.5,709.8 1474.8,709.8 1476.2,709.9 1477.5,709.9 1478.8,709.9 1480.2,709.9 1481.5,710.0 1482.9,710.0 1484.2,710.0 1485.5,710.0 1486.9,710.0 1488.2,710.1 1489.5,710.1 1490.9,710.1 1492.2,710.1 1493.5,710.1 1494.9,710.1 1496.2,710.2 1497.6,710.2 1498.9,710.2 1500.2,710.2 1501.6,710.2 1502.9,710.2 1504.2,710.3 1505.6,710.3 1506.9,710.3 1508.2,710.3 1509.6,710.3 1510.9,710.3 1512.3,710.3 1513.6,710.3 1514.9,710.3 1516.3,710.4 1517.6,710.4 1518.9,710.4 1520.3,710.4 1521.6,710.4 1522.9,710.4 1524.3,710.4 1525.6,710.4 1527.0,710.4 1528.3,710.4 1529.6,710.5 1531.0,710.5 1532.3,710.5 1533.6,710.5 1535.0,710.5 1536.3,710.5 1537.6,710.5 1539.0,710.5 1540.3,710.5 1541.6,710.5 1543.0,710.5 1544.3,710.5 1545.7,710.5 1547.0,710.5 1548.3,710.6 1549.7,710.6 1551.0,710.6 1552.3,710.6 1553.7,710.6 1555.0,710.6 1556.3,710.6 1557.7,710.6 1559.0,710.6 1560.4,710.6 1561.7,710.6 1563.0,710.6 1564.4,710.6 1565.7,710.6 1567.0,710.6 1568.4,710.6 1569.7,710.6 1571.0,710.6 1572.4,710.6 1573.7,710.7 1575.1,710.7 1576.4,710.7 1577.7,710.7 1579.1,710.7 1580.4,710.7" stroke="#666666" stroke-width="1.1"/>
<polyline points="1152.8,710.4 1154.1,710.4 1155.5,710.4 1156.8,710.4 1158.1,710.4 1159.5,710.4 1160.8,710.4 1162.2,710.4 1163.5,710.3 1164.8,710.3 1166.2,710.3 1167.5,710.3 1168.8,710.3 1170.2,710.3 1171.5,710.3 1172.8,710.3 1174.2,710.3 1175.5,710.3 1176.9,710.3 1178.2,710.2 1179.5,710.2 1180.9,710.2 1182.2,710.2 1183.5,710.2 1184.9,710.2 1186.2,710.2 1187.5,710.2 1188.9,710.2 1190.2,710.1 1191.6,710.1 1192.9,710.1 1194.2,710.1 1195.6,710.1 1196.9,710.1 1198.2,710.1 1199.6,710.1 1200.9,710.0 1202.2,710.0 1203.6,710.0 1204.9,710.0 1206.2,710.0 1207.6,710.0 1208.9,709.9 1210.3,709.9 1211.6,709.9 1212.9,709.9 1214.3,709.9 1215.6,709.9 1216.9,709.8 1218.3,709.8 1219.6,709.8 1220.9,709.8 1222.3,709.8 1223.6,709.7 1225.0,709.7 1226.3,709.7 1227.6,709.7 1229.0,709.6 1230.3,709.6 1231.6,709.6 1233.0,709.6 1234.3,709.5 1235.6,709.5 1237.0,709.5 1238.3,709.5 1239.7,709.4 1241.0,709.4 1242.3,709.4 1243.7,709.3 1245.0,709.3 1246.3,709.3 1247.7,709.2 1249.0,709.2 1250.3,709.2 1251.7,709.1 1253.0,709.1 1254.4,709.0 1255.7,709.0 1257.0,709.0 1258.4,708.9 1259.7,708.9 1261.0,708.8 1262.4,708.8 1263.7,708.7 1265.0,708.7 1266.4,708.6 1267.7,708.6 1269.1,708.5 1270.4,708.4 1271.7,708.4 1273.1,708.3 1274.4,708.2 1275.7,708.2 1277.1,708.1 1278.4,708.0 1279.7,708.0 1281.1,707.9 1282.4,707.8 1283.8,707.7 1285.1,707.6 1286.4,707.5 1287.8,707.4 1289.1,707.3 1290.4,707.2 1291.8,707.1 1293.1,707.0 1294.4,706.9 1295.8,706.7 1297.1,706.6 1298.5,706.5 1299.8,706.3 1301.1,706.2 1302.5,706.0 1303.8,705.9 1305.1,705.7 1306.5,705.5 1307.8,705.3 1309.1,705.2 1310.5,705.0 1311.8,704.7 1313.2,704.5 1314.5,704.3 1315.8,704.0 1317.2,703.8 1318.5,703.5 1319.8,703.2 1321.2,702.9 1322.5,702.6 1323.8,702.3 1325.2,702.0 1326.5,701.6 1327.8,701.3 1329.2,700.9 1330.5,700.5 1331.9,700.0 1333.2,699.6 1334.5,699.1 1335.9,698.7 1337.2,698.2 1338.5,697.6 1339.9,697.1 1341.2,696.5 1342.5,696.0 1343.9,695.4 1345.2,694.8 1345.6,694.6 1346.1,694.4 1346.5,694.2 1346.6,694.2 1346.9,694.0 1347.4,693.8 1347.8,693.6 1347.9,693.6 1348.2,693.4 1348.6,693.2 1349.1,693.0 1349.2,693.0 1349.5,692.8 1349.9,692.6 1350.4,692.4 1350.6,692.3 1350.8,692.2 1351.2,692.1 1351.6,691.9 1351.9,691.7 1352.1,691.7 1352.5,691.5 1352.9,691.3 1353.2,691.2 1353.3,691.1 1353.8,690.9 1354.2,690.7 1354.6,690.6 1354.6,690.6 1355.1,690.4 1355.5,690.2 1355.9,690.0 1356.3,689.9 1356.8,689.7 1357.2,689.6 1357.2,689.5 1357.6,689.4 1358.0,689.3 1358.5,689.1 1358.6,689.1 1358.9,689.0 1359.3,688.9 1359.8,688.7 1359.9,688.7 1360.2,688.6 1360.6,688.5 1361.0,688.4 1361.3,688.3 1361.5,688.3 1361.9,688.2 1362.3,688.1 1362.6,688.1 1362.8,688.0 1363.2,688.0 1363.6,687.9 1363.9,687.9 1364.0,687.9 1364.5,687.8 1364.5,687.8 1364.6,687.8 1364.7,687.8 1364.8,687.8 1364.9,687.8 1365.0,687.8 1365.1,687.8 1365.1,687.8 1365.2,687.8 1365.3,687.8 1365.3,687.7 1365.4,687.7 1365.5,687.7 1365.6,687.7 1365.7,687.7 1365.7,687.7 1365.8,687.7 1365.9,687.7 1366.0,687.7 1366.1,687.7 1366.2,687.7 1366.3,687.7 1366.3,687.7 1366.4,687.7 1366.5,687.7 1366.6,687.7 1366.7,687.7 1366.8,687.7 1366.9,687.7 1366.9,687.7 1367.0,687.7 1367.1,687.7 1367.2,687.7 1367.3,687.7 1367.4,687.7 1367.5,687.7 1367.5,687.7 1367.6,687.7 1367.7,687.7 1367.8,687.7 1367.9,687.7 1367.9,687.8 1368.0,687.8 1368.1,687.8 1368.1,687.8 1368.2,687.8 1368.3,687.8 1368.4,687.8 1368.5,687.8 1368.6,687.8 1368.7,687.8 1368.7,687.8 1369.2,687.9 1369.3,687.9 1369.6,687.9 1370.0,688.0 1370.4,688.0 1370.6,688.1 1370.9,688.1 1371.3,688.2 1371.7,688.3 1371.9,688.3 1372.2,688.4 1372.6,688.5 1373.0,688.6 1373.3,688.7 1373.4,688.7 1373.9,688.9 1374.3,689.0 1374.6,689.1 1374.7,689.1 1375.2,689.3 1375.6,689.4 1376.0,689.5 1376.0,689.6 1376.4,689.7 1376.9,689.9 1377.3,690.0 1377.7,690.2 1378.1,690.4 1378.6,690.6 1378.6,690.6 1379.0,690.7 1379.4,690.9 1379.9,691.1 1380.0,691.2 1380.3,691.3 1380.7,691.5 1381.1,691.7 1381.3,691.7 1381.6,691.9 1382.0,692.1 1382.4,692.2 1382.6,692.3 1382.8,692.4 1383.3,692.6 1383.7,692.8 1384.0,693.0 1384.1,693.0 1384.6,693.2 1385.0,693.4 1385.3,693.6 1385.4,693.6 1385.8,693.8 1386.3,694.0 1386.6,694.2 1386.7,694.2 1387.1,694.4 1387.6,694.6 1388.0,694.8 1389.3,695.4 1390.7,696.0 1392.0,696.5 1393.3,697.1 1394.7,697.6 1396.0,698.2 1397.3,698.7 1398.7,699.1 1400.0,699.6 1401.3,700.0 1402.7,700.5 1404.0,700.9 1405.4,701.3 1406.7,701.6 1408.0,702.0 1409.4,702.3 1410.7,702.6 1412.0,702.9 1413.4,703.2 1414.7,703.5 1416.0,703.8 1417.4,704.0 1418.7,704.3 1420.1,704.5 1421.4,704.7 1422.7,705.0 1424.1,705.2 1425.4,705.3 1426.7,705.5 1428.1,705.7 1429.4,705.9 1430.7,706.0 1432.1,706.2 1433.4,706.3 1434.7,706.5 1436.1,706.6 1437.4,706.7 1438.8,706.9 1440.1,707.0 1441.4,707.1 1442.8,707.2 1444.1,707.3 1445.4,707.4 1446.8,707.5 1448.1,707.6 1449.4,707.7 1450.8,707.8 1452.1,707.9 1453.5,708.0 1454.8,708.0 1456.1,708.1 1457.5,708.2 1458.8,708.2 1460.1,708.3 1461.5,708.4 1462.8,708.4 1464.1,708.5 1465.5,708.6 1466.8,708.6 1468.2,708.7 1469.5,708.7 1470.8,708.8 1472.2,708.8 1473.5,708.9 1474.8,708.9 1476.2,709.0 1477.5,709.0 1478.8,709.0 1480.2,709.1 1481.5,709.1 1482.9,709.2 1484.2,709.2 1485.5,709.2 1486.9,709.3 1488.2,709.3 1489.5,709.3 1490.9,709.4 1492.2,709.4 1493.5,709.4 1494.9,709.5 1496.2,709.5 1497.6,709.5 1498.9,709.5 1500.2,709.6 1501.6,709.6 1502.9,709.6 1504.2,709.6 1505.6,709.7 1506.9,709.7 1508.2,709.7 1509.6,709.7 1510.9,709.8 1512.3,709.8 1513.6,709.8 1514.9,709.8 1516.3,709.8 1517.6,709.9 1518.9,709.9 1520.3,709.9 1521.6,709.9 1522.9,709.9 1524.3,709.9 1525.6,710.0 1527.0,710.0 1528.3,710.0 1529.6,710.0 1531.0,710.0 1532.3,710.0 1533.6,710.1 1535.0,710.1 1536.3,710.1 1537.6,710.1 1539.0,710.1 1540.3,710.1 1541.6,710.1 1543.0,710.1 1544.3,710.2 1545.7,710.2 1547.0,710.2 1548.3,710.2 1549.7,710.2 1551.0,710.2 1552.3,710.2 1553.7,710.2 1555.0,710.2 1556.3,710.3 1557.7,710.3 1559.0,710.3 1560.4,710.3 1561.7,710.3 1563.0,710.3 1564.4,710.3 1565.7,710.3 1567.0,710.3 1568.4,710.3 1569.7,710.3 1571.0,710.4 1572.4,710.4 1573.7,710.4 1575.1,710.4 1576.4,710.4 1577.7,710.4 1579.1,710.4 1580.4,710.4" stroke="#222222" stroke-width="1.1"/>
<polyline points="1152.8,710.1 1154.1,710.0 1155.5,710.0 1156.8,710.0 1158.1,710.0 1159.5,710.0 1160.8,710.0 1162.2,710.0 1163.5,710.0 1164.8,709.9 1166.2,709.9 1167.5,709.9 1168.8,709.9 1170.2,709.9 1171.5,709.9 1172.8,709.9 1174.2,709.8 1175.5,709.8 1176.9,709.8 1178.2,709.8 1179.5,709.8 1180.9,709.8 1182.2,709.7 1183.5,709.7 1184.9,709.7 1186.2,709.7 1187.5,709.7 1188.9,709.7 1190.2,709.6 1191.6,709.6 1192.9,709.6 1194.2,709.6 1195.6,709.6 1196.9,709.5 1198.2,709.5 1199.6,709.5 1200.9,709.5 1202.2,709.4 1203.6,709.4 1204.9,709.4 1206.2,709.4 1207.6,709.3 1208.9,709.3 1210.3,709.3 1211.6,709.3 1212.9,709.2 1214.3,709.2 1215.6,709.2 1216.9,709.1 1218.3,709.1 1219.6,709.1 1220.9,709.1 1222.3,709.0 1223.6,709.0 1225.0,709.0 1226.3,708.9 1227.6,708.9 1229.0,708.8 1230.3,708.8 1231.6,708.8 1233.0,708.7 1234.3,708.7 1235.6,708.6 1237.0,708.6 1238.3,708.5 1239.7,708.5 1241.0,708.5 1242.3,708.4 1243.7,708.4 1245.0,708.3 1246.3,708.2 1247.7,708.2 1249.0,708.1 1250.3,708.1 1251.7,708.0 1253.0,708.0 1254.4,707.9 1255.7,707.8 1257.0,707.8 1258.4,707.7 1259.7,707.6 1261.0,707.5 1262.4,707.5 1263.7,707.4 1265.0,707.3 1266.4,707.2 1267.7,707.1 1269.1,707.0 1270.4,706.9 1271.7,706.8 1273.1,706.7 1274.4,706.6 1275.7,706.5 1277.1,706.4 1278.4,706.3 1279.7,706.2 1281.1,706.0 1282.4,705.9 1283.8,705.8 1285.1,705.6 1286.4,705.5 1287.8,705.3 1289.1,705.2 1290.4,705.0 1291.8,704.8 1293.1,704.7 1294.4,704.5 1295.8,704.3 1297.1,704.1 1298.5,703.9 1299.8,703.6 1301.1,703.4 1302.5,703.2 1303.8,702.9 1305.1,702.6 1306.5,702.4 1307.8,702.1 1309.1,701.8 1310.5,701.5 1311.8,701.1 1313.2,700.8 1314.5,700.4 1315.8,700.0 1317.2,699.7 1318.5,699.2 1319.8,698.8 1321.2,698.3 1322.5,697.9 1323.8,697.3 1325.2,696.8 1326.5,696.3 1327.8,695.7 1329.2,695.1 1330.5,694.4 1331.9,693.7 1333.2,693.0 1334.5,692.3 1335.9,691.5 1337.2,690.7 1338.5,689.9 1339.9,689.0 1341.2,688.1 1342.5,687.1 1343.9,686.2 1345.2,685.1 1345.6,684.8 1346.1,684.5 1346.5,684.1 1346.6,684.1 1346.9,683.8 1347.4,683.5 1347.8,683.1 1347.9,683.0 1348.2,682.8 1348.6,682.4 1349.1,682.1 1349.2,682.0 1349.5,681.8 1349.9,681.4 1350.4,681.1 1350.6,680.9 1350.8,680.7 1351.2,680.4 1351.6,680.0 1351.9,679.8 1352.1,679.7 1352.5,679.3 1352.9,679.0 1353.2,678.7 1353.3,678.6 1353.8,678.3 1354.2,678.0 1354.6,677.7 1354.6,677.6 1355.1,677.3 1355.5,677.0 1355.9,676.7 1356.3,676.4 1356.8,676.0 1357.2,675.7 1357.2,675.7 1357.6,675.5 1358.0,675.2 1358.5,674.9 1358.6,674.8 1358.9,674.6 1359.3,674.4 1359.8,674.1 1359.9,674.0 1360.2,673.9 1360.6,673.7 1361.0,673.5 1361.3,673.4 1361.5,673.3 1361.9,673.1 1362.3,672.9 1362.6,672.8 1362.8,672.8 1363.2,672.6 1363.6,672.5 1363.9,672.4 1364.0,672.4 1364.5,672.3 1364.5,672.3 1364.6,672.2 1364.7,672.2 1364.8,672.2 1364.9,672.2 1365.0,672.2 1365.1,672.2 1365.1,672.2 1365.2,672.2 1365.3,672.2 1365.3,672.1 1365.4,672.1 1365.5,672.1 1365.6,672.1 1365.7,672.1 1365.7,672.1 1365.8,672.1 1365.9,672.1 1366.0,672.1 1366.1,672.1 1366.2,672.1 1366.3,672.1 1366.3,672.1 1366.4,672.1 1366.5,672.1 1366.6,672.1 1366.7,672.1 1366.8,672.1 1366.9,672.1 1366.9,672.1 1367.0,672.1 1367.1,672.1 1367.2,672.1 1367.3,672.1 1367.4,672.1 1367.5,672.1 1367.5,672.1 1367.6,672.1 1367.7,672.1 1367.8,672.1 1367.9,672.1 1367.9,672.2 1368.0,672.2 1368.1,672.2 1368.1,672.2 1368.2,672.2 1368.3,672.2 1368.4,672.2 1368.5,672.2 1368.6,672.2 1368.7,672.3 1368.7,672.3 1369.2,672.4 1369.3,672.4 1369.6,672.5 1370.0,672.6 1370.4,672.8 1370.6,672.8 1370.9,672.9 1371.3,673.1 1371.7,673.3 1371.9,673.4 1372.2,673.5 1372.6,673.7 1373.0,673.9 1373.3,674.0 1373.4,674.1 1373.9,674.4 1374.3,674.6 1374.6,674.8 1374.7,674.9 1375.2,675.2 1375.6,675.5 1376.0,675.7 1376.0,675.7 1376.4,676.0 1376.9,676.4 1377.3,676.7 1377.7,677.0 1378.1,677.3 1378.6,677.6 1378.6,677.7 1379.0,678.0 1379.4,678.3 1379.9,678.6 1380.0,678.7 1380.3,679.0 1380.7,679.3 1381.1,679.7 1381.3,679.8 1381.6,680.0 1382.0,680.4 1382.4,680.7 1382.6,680.9 1382.8,681.1 1383.3,681.4 1383.7,681.8 1384.0,682.0 1384.1,682.1 1384.6,682.4 1385.0,682.8 1385.3,683.0 1385.4,683.1 1385.8,683.5 1386.3,683.8 1386.6,684.1 1386.7,684.1 1387.1,684.5 1387.6,684.8 1388.0,685.1 1389.3,686.2 1390.7,687.1 1392.0,688.1 1393.3,689.0 1394.7,689.9 1396.0,690.7 1397.3,691.5 1398.7,692.3 1400.0,693.0 1401.3,693.7 1402.7,694.4 1404.0,695.1 1405.4,695.7 1406.7,696.3 1408.0,696.8 1409.4,697.3 1410.7,697.9 1412.0,698.3 1413.4,698.8 1414.7,699.2 1416.0,699.7 1417.4,700.0 1418.7,700.4 1420.1,700.8 1421.4,701.1 1422.7,701.5 1424.1,701.8 1425.4,702.1 1426.7,702.4 1428.1,702.6 1429.4,702.9 1430.7,703.2 1432.1,703.4 1433.4,703.6 1434.7,703.9 1436.1,704.1 1437.4,704.3 1438.8,704.5 1440.1,704.7 1441.4,704.8 1442.8,705.0 1444.1,705.2 1445.4,705.3 1446.8,705.5 1448.1,705.6 1449.4,705.8 1450.8,705.9 1452.1,706.0 1453.5,706.2 1454.8,706.3 1456.1,706.4 1457.5,706.5 1458.8,706.6 1460.1,706.7 1461.5,706.8 1462.8,706.9 1464.1,707.0 1465.5,707.1 1466.8,707.2 1468.2,707.3 1469.5,707.4 1470.8,707.5 1472.2,707.5 1473.5,707.6 1474.8,707.7 1476.2,707.8 1477.5,707.8 1478.8,707.9 1480.2,708.0 1481.5,708.0 1482.9,708.1 1484.2,708.1 1485.5,708.2 1486.9,708.2 1488.2,708.3 1489.5,708.4 1490.9,708.4 1492.2,708.5 1493.5,708.5 1494.9,708.5 1496.2,708.6 1497.6,708.6 1498.9,708.7 1500.2,708.7 1501.6,708.8 1502.9,708.8 1504.2,708.8 1505.6,708.9 1506.9,708.9 1508.2,709.0 1509.6,709.0 1510.9,709.0 1512.3,709.1 1513.6,709.1 1514.9,709.1 1516.3,709.1 1517.6,709.2 1518.9,709.2 1520.3,709.2 1521.6,709.3 1522.9,709.3 1524.3,709.3 1525.6,709.3 1527.0,709.4 1528.3,709.4 1529.6,709.4 1531.0,709.4 1532.3,709.5 1533.6,709.5 1535.0,709.5 1536.3,709.5 1537.6,709.6 1539.0,709.6 1540.3,709.6 1541.6,709.6 1543.0,709.6 1544.3,709.7 1545.7,709.7 1547.0,709.7 1548.3,709.7 1549.7,709.7 1551.0,709.7 1552.3,709.8 1553.7,709.8 1555.0,709.8 1556.3,709.8 1557.7,709.8 1559.0,709.8 1560.4,709.9 1561.7,709.9 1563.0,709.9 1564.4,709.9 1565.7,709.9 1567.0,709.9 1568.4,709.9 1569.7,710.0 1571.0,710.0 1572.4,710.0 1573.7,710.0 1575.1,710.0 1576.4,710.0 1577.7,710.0 1579.1,710.0 1580.4,710.1" stroke="#222222" stroke-width="1.1"/>
<polyline points="1152.8,709.6 1154.1,709.6 1155.5,709.6 1156.8,709.6 1158.1,709.6 1159.5,709.6 1160.8,709.5 1162.2,709.5 1163.5,709.5 1164.8,709.5 1166.2,709.5 1167.5,709.4 1168.8,709.4 1170.2,709.4 1171.5,709.4 1172.8,709.4 1174.2,709.3 1175.5,709.3 1176.9,709.3 1178.2,709.3 1179.5,709.3 1180.9,709.2 1182.2,709.2 1183.5,709.2 1184.9,709.2 1186.2,709.1 1187.5,709.1 1188.9,709.1 1190.2,709.1 1191.6,709.0 1192.9,709.0 1194.2,709.0 1195.6,708.9 1196.9,708.9 1198.2,708.9 1199.6,708.8 1200.9,708.8 1202.2,708.8 1203.6,708.7 1204.9,708.7 1206.2,708.7 1207.6,708.6 1208.9,708.6 1210.3,708.6 1211.6,708.5 1212.9,708.5 1214.3,708.4 1215.6,708.4 1216.9,708.4 1218.3,708.3 1219.6,708.3 1220.9,708.2 1222.3,708.2 1223.6,708.1 1225.0,708.1 1226.3,708.0 1227.6,708.0 1229.0,707.9 1230.3,707.9 1231.6,707.8 1233.0,707.8 1234.3,707.7 1235.6,707.6 1237.0,707.6 1238.3,707.5 1239.7,707.5 1241.0,707.4 1242.3,707.3 1243.7,707.2 1245.0,707.2 1246.3,707.1 1247.7,707.0 1249.0,706.9 1250.3,706.9 1251.7,706.8 1253.0,706.7 1254.4,706.6 1255.7,706.5 1257.0,706.4 1258.4,706.3 1259.7,706.2 1261.0,706.1 1262.4,706.0 1263.7,705.9 1265.0,705.8 1266.4,705.6 1267.7,705.5 1269.1,705.4 1270.4,705.3 1271.7,705.1 1273.1,705.0 1274.4,704.8 1275.7,704.7 1277.1,704.5 1278.4,704.4 1279.7,704.2 1281.1,704.0 1282.4,703.8 1283.8,703.7 1285.1,703.5 1286.4,703.3 1287.8,703.0 1289.1,702.8 1290.4,702.6 1291.8,702.4 1293.1,702.1 1294.4,701.9 1295.8,701.6 1297.1,701.3 1298.5,701.0 1299.8,700.7 1301.1,700.4 1302.5,700.1 1303.8,699.7 1305.1,699.4 1306.5,699.0 1307.8,698.6 1309.1,698.2 1310.5,697.8 1311.8,697.3 1313.2,696.8 1314.5,696.3 1315.8,695.8 1317.2,695.3 1318.5,694.7 1319.8,694.1 1321.2,693.5 1322.5,692.8 1323.8,692.1 1325.2,691.4 1326.5,690.6 1327.8,689.8 1329.2,689.0 1330.5,688.1 1331.9,687.1 1333.2,686.1 1334.5,685.1 1335.9,684.0 1337.2,682.9 1338.5,681.6 1339.9,680.4 1341.2,679.0 1342.5,677.6 1343.9,676.1 1345.2,674.6 1345.6,674.1 1346.1,673.6 1346.5,673.0 1346.6,673.0 1346.9,672.5 1347.4,672.0 1347.8,671.4 1347.9,671.3 1348.2,670.9 1348.6,670.3 1349.1,669.8 1349.2,669.6 1349.5,669.2 1349.9,668.6 1350.4,668.0 1350.6,667.7 1350.8,667.5 1351.2,666.9 1351.6,666.3 1351.9,665.9 1352.1,665.7 1352.5,665.1 1352.9,664.4 1353.2,664.0 1353.3,663.8 1353.8,663.2 1354.2,662.6 1354.6,662.1 1354.6,662.0 1355.1,661.4 1355.5,660.8 1355.9,660.2 1356.3,659.6 1356.8,659.0 1357.2,658.4 1357.2,658.3 1357.6,657.8 1358.0,657.2 1358.5,656.6 1358.6,656.5 1358.9,656.1 1359.3,655.5 1359.8,655.0 1359.9,654.8 1360.2,654.5 1360.6,654.0 1361.0,653.6 1361.3,653.3 1361.5,653.1 1361.9,652.7 1362.3,652.3 1362.6,652.1 1362.8,652.0 1363.2,651.6 1363.6,651.4 1363.9,651.2 1364.0,651.1 1364.5,650.9 1364.5,650.8 1364.6,650.8 1364.7,650.8 1364.8,650.7 1364.9,650.7 1365.0,650.7 1365.1,650.6 1365.1,650.6 1365.2,650.6 1365.3,650.6 1365.3,650.6 1365.4,650.5 1365.5,650.5 1365.6,650.5 1365.7,650.5 1365.7,650.5 1365.8,650.4 1365.9,650.4 1366.0,650.4 1366.1,650.4 1366.2,650.4 1366.3,650.4 1366.3,650.4 1366.4,650.4 1366.5,650.4 1366.6,650.4 1366.7,650.4 1366.8,650.4 1366.9,650.4 1366.9,650.4 1367.0,650.4 1367.1,650.4 1367.2,650.4 1367.3,650.4 1367.4,650.4 1367.5,650.5 1367.5,650.5 1367.6,650.5 1367.7,650.5 1367.8,650.5 1367.9,650.6 1367.9,650.6 1368.0,650.6 1368.1,650.6 1368.1,650.6 1368.2,650.7 1368.3,650.7 1368.4,650.7 1368.5,650.8 1368.6,650.8 1368.7,650.8 1368.7,650.9 1369.2,651.1 1369.3,651.2 1369.6,651.4 1370.0,651.6 1370.4,652.0 1370.6,652.1 1370.9,652.3 1371.3,652.7 1371.7,653.1 1371.9,653.3 1372.2,653.6 1372.6,654.0 1373.0,654.5 1373.3,654.8 1373.4,655.0 1373.9,655.5 1374.3,656.1 1374.6,656.5 1374.7,656.6 1375.2,657.2 1375.6,657.8 1376.0,658.3 1376.0,658.4 1376.4,659.0 1376.9,659.6 1377.3,660.2 1377.7,660.8 1378.1,661.4 1378.6,662.0 1378.6,662.1 1379.0,662.6 1379.4,663.2 1379.9,663.8 1380.0,664.0 1380.3,664.4 1380.7,665.1 1381.1,665.7 1381.3,665.9 1381.6,666.3 1382.0,666.9 1382.4,667.5 1382.6,667.7 1382.8,668.0 1383.3,668.6 1383.7,669.2 1384.0,669.6 1384.1,669.8 1384.6,670.3 1385.0,670.9 1385.3,671.3 1385.4,671.4 1385.8,672.0 1386.3,672.5 1386.6,673.0 1386.7,673.0 1387.1,673.6 1387.6,674.1 1388.0,674.6 1389.3,676.1 1390.7,677.6 1392.0,679.0 1393.3,680.4 1394.7,681.6 1396.0,682.9 1397.3,684.0 1398.7,685.1 1400.0,686.1 1401.3,687.1 1402.7,688.1 1404.0,689.0 1405.4,689.8 1406.7,690.6 1408.0,691.4 1409.4,692.1 1410.7,692.8 1412.0,693.5 1413.4,694.1 1414.7,694.7 1416.0,695.3 1417.4,695.8 1418.7,696.3 1420.1,696.8 1421.4,697.3 1422.7,697.8 1424.1,698.2 1425.4,698.6 1426.7,699.0 1428.1,699.4 1429.4,699.7 1430.7,700.1 1432.1,700.4 1433.4,700.7 1434.7,701.0 1436.1,701.3 1437.4,701.6 1438.8,701.9 1440.1,702.1 1441.4,702.4 1442.8,702.6 1444.1,702.8 1445.4,703.0 1446.8,703.3 1448.1,703.5 1449.4,703.7 1450.8,703.8 1452.1,704.0 1453.5,704.2 1454.8,704.4 1456.1,704.5 1457.5,704.7 1458.8,704.8 1460.1,705.0 1461.5,705.1 1462.8,705.3 1464.1,705.4 1465.5,705.5 1466.8,705.6 1468.2,705.8 1469.5,705.9 1470.8,706.0 1472.2,706.1 1473.5,706.2 1474.8,706.3 1476.2,706.4 1477.5,706.5 1478.8,706.6 1480.2,706.7 1481.5,706.8 1482.9,706.9 1484.2,706.9 1485.5,707.0 1486.9,707.1 1488.2,707.2 1489.5,707.2 1490.9,707.3 1492.2,707.4 1493.5,707.5 1494.9,707.5 1496.2,707.6 1497.6,707.6 1498.9,707.7 1500.2,707.8 1501.6,707.8 1502.9,707.9 1504.2,707.9 1505.6,708.0 1506.9,708.0 1508.2,708.1 1509.6,708.1 1510.9,708.2 1512.3,708.2 1513.6,708.3 1514.9,708.3 1516.3,708.4 1517.6,708.4 1518.9,708.4 1520.3,708.5 1521.6,708.5 1522.9,708.6 1524.3,708.6 1525.6,708.6 1527.0,708.7 1528.3,708.7 1529.6,708.7 1531.0,708.8 1532.3,708.8 1533.6,708.8 1535.0,708.9 1536.3,708.9 1537.6,708.9 1539.0,709.0 1540.3,709.0 1541.6,709.0 1543.0,709.1 1544.3,709.1 1545.7,709.1 1547.0,709.1 1548.3,709.2 1549.7,709.2 1551.0,709.2 1552.3,709.2 1553.7,709.3 1555.0,709.3 1556.3,709.3 1557.7,709.3 1559.0,709.3 1560.4,709.4 1561.7,709.4 1563.0,709.4 1564.4,709.4 1565.7,709.4 1567.0,709.5 1568.4,709.5 1569.7,709.5 1571.0,709.5 1572.4,709.5 1573.7,709.6 1575.1,709.6 1576.4,709.6 1577.7,709.6 1579.1,709.6 1580.4,709.6" stroke="#222222" stroke-width="1.1"/>
<polyline points="1152.8,709.3 1154.1,709.3 1155.5,709.2 1156.8,709.2 1158.1,709.2 1159.5,709.2 1160.8,709.2 1162.2,709.1 1163.5,709.1 1164.8,709.1 1166.2,709.1 1167.5,709.0 1168.8,709.0 1170.2,709.0 1171.5,709.0 1172.8,708.9 1174.2,708.9 1175.5,708.9 1176.9,708.8 1178.2,708.8 1179.5,708.8 1180.9,708.8 1182.2,708.7 1183.5,708.7 1184.9,708.7 1186.2,708.6 1187.5,708.6 1188.9,708.6 1190.2,708.5 1191.6,708.5 1192.9,708.5 1194.2,708.4 1195.6,708.4 1196.9,708.4 1198.2,708.3 1199.6,708.3 1200.9,708.2 1202.2,708.2 1203.6,708.2 1204.9,708.1 1206.2,708.1 1207.6,708.0 1208.9,708.0 1210.3,707.9 1211.6,707.9 1212.9,707.8 1214.3,707.8 1215.6,707.7 1216.9,707.7 1218.3,707.6 1219.6,707.6 1220.9,707.5 1222.3,707.5 1223.6,707.4 1225.0,707.3 1226.3,707.3 1227.6,707.2 1229.0,707.1 1230.3,707.1 1231.6,707.0 1233.0,706.9 1234.3,706.9 1235.6,706.8 1237.0,706.7 1238.3,706.6 1239.7,706.5 1241.0,706.5 1242.3,706.4 1243.7,706.3 1245.0,706.2 1246.3,706.1 1247.7,706.0 1249.0,705.9 1250.3,705.8 1251.7,705.7 1253.0,705.6 1254.4,705.5 1255.7,705.4 1257.0,705.3 1258.4,705.1 1259.7,705.0 1261.0,704.9 1262.4,704.7 1263.7,704.6 1265.0,704.5 1266.4,704.3 1267.7,704.2 1269.1,704.0 1270.4,703.8 1271.7,703.7 1273.1,703.5 1274.4,703.3 1275.7,703.1 1277.1,703.0 1278.4,702.8 1279.7,702.6 1281.1,702.3 1282.4,702.1 1283.8,701.9 1285.1,701.7 1286.4,701.4 1287.8,701.1 1289.1,700.9 1290.4,700.6 1291.8,700.3 1293.1,700.0 1294.4,699.7 1295.8,699.4 1297.1,699.1 1298.5,698.7 1299.8,698.3 1301.1,698.0 1302.5,697.6 1303.8,697.1 1305.1,696.7 1306.5,696.3 1307.8,695.8 1309.1,695.3 1310.5,694.8 1311.8,694.2 1313.2,693.7 1314.5,693.1 1315.8,692.5 1317.2,691.8 1318.5,691.1 1319.8,690.4 1321.2,689.7 1322.5,688.9 1323.8,688.1 1325.2,687.2 1326.5,686.3 1327.8,685.3 1329.2,684.3 1330.5,683.2 1331.9,682.1 1333.2,680.9 1334.5,679.6 1335.9,678.3 1337.2,676.8 1338.5,675.3 1339.9,673.8 1341.2,672.1 1342.5,670.3 1343.9,668.4 1345.2,666.4 1345.6,665.7 1346.1,665.0 1346.5,664.3 1346.6,664.2 1346.9,663.6 1347.4,662.9 1347.8,662.1 1347.9,661.9 1348.2,661.4 1348.6,660.6 1349.1,659.8 1349.2,659.5 1349.5,659.0 1349.9,658.2 1350.4,657.3 1350.6,656.9 1350.8,656.5 1351.2,655.6 1351.6,654.7 1351.9,654.1 1352.1,653.8 1352.5,652.9 1352.9,651.9 1353.2,651.2 1353.3,651.0 1353.8,650.0 1354.2,649.0 1354.6,648.1 1354.6,648.0 1355.1,647.0 1355.5,645.9 1355.9,644.9 1356.3,643.8 1356.8,642.7 1357.2,641.6 1357.2,641.5 1357.6,640.5 1358.0,639.4 1358.5,638.2 1358.6,638.0 1358.9,637.1 1359.3,636.0 1359.8,634.9 1359.9,634.4 1360.2,633.7 1360.6,632.6 1361.0,631.6 1361.3,631.0 1361.5,630.5 1361.9,629.5 1362.3,628.5 1362.6,627.9 1362.8,627.6 1363.2,626.7 1363.6,625.9 1363.9,625.4 1364.0,625.2 1364.5,624.6 1364.5,624.5 1364.6,624.4 1364.7,624.3 1364.8,624.2 1364.9,624.1 1365.0,624.0 1365.1,623.9 1365.1,623.8 1365.2,623.7 1365.3,623.7 1365.3,623.7 1365.4,623.6 1365.5,623.5 1365.6,623.5 1365.7,623.4 1365.7,623.4 1365.8,623.3 1365.9,623.3 1366.0,623.2 1366.1,623.2 1366.2,623.2 1366.3,623.2 1366.3,623.1 1366.4,623.1 1366.5,623.1 1366.6,623.1 1366.7,623.1 1366.8,623.1 1366.9,623.1 1366.9,623.2 1367.0,623.2 1367.1,623.2 1367.2,623.2 1367.3,623.3 1367.4,623.3 1367.5,623.4 1367.5,623.4 1367.6,623.5 1367.7,623.5 1367.8,623.6 1367.9,623.7 1367.9,623.7 1368.0,623.7 1368.1,623.8 1368.1,623.9 1368.2,624.0 1368.3,624.1 1368.4,624.2 1368.5,624.3 1368.6,624.4 1368.7,624.5 1368.7,624.6 1369.2,625.2 1369.3,625.4 1369.6,625.9 1370.0,626.7 1370.4,627.6 1370.6,627.9 1370.9,628.5 1371.3,629.5 1371.7,630.5 1371.9,631.0 1372.2,631.6 1372.6,632.6 1373.0,633.7 1373.3,634.4 1373.4,634.9 1373.9,636.0 1374.3,637.1 1374.6,638.0 1374.7,638.2 1375.2,639.4 1375.6,640.5 1376.0,641.5 1376.0,641.6 1376.4,642.7 1376.9,643.8 1377.3,644.9 1377.7,645.9 1378.1,647.0 1378.6,648.0 1378.6,648.1 1379.0,649.0 1379.4,650.0 1379.9,651.0 1380.0,651.2 1380.3,651.9 1380.7,652.9 1381.1,653.8 1381.3,654.1 1381.6,654.7 1382.0,655.6 1382.4,656.5 1382.6,656.9 1382.8,657.3 1383.3,658.2 1383.7,659.0 1384.0,659.5 1384.1,659.8 1384.6,660.6 1385.0,661.4 1385.3,661.9 1385.4,662.1 1385.8,662.9 1386.3,663.6 1386.6,664.2 1386.7,664.3 1387.1,665.0 1387.6,665.7 1388.0,666.4 1389.3,668.4 1390.7,670.3 1392.0,672.1 1393.3,673.8 1394.7,675.3 1396.0,676.8 1397.3,678.3 1398.7,679.6 1400.0,680.9 1401.3,682.1 1402.7,683.2 1404.0,684.3 1405.4,685.3 1406.7,686.3 1408.0,687.2 1409.4,688.1 1410.7,688.9 1412.0,689.7 1413.4,690.4 1414.7,691.1 1416.0,691.8 1417.4,692.5 1418.7,693.1 1420.1,693.7 1421.4,694.2 1422.7,694.8 1424.1,695.3 1425.4,695.8 1426.7,696.3 1428.1,696.7 1429.4,697.1 1430.7,697.6 1432.1,698.0 1433.4,698.3 1434.7,698.7 1436.1,699.1 1437.4,699.4 1438.8,699.7 1440.1,700.0 1441.4,700.3 1442.8,700.6 1444.1,700.9 1445.4,701.1 1446.8,701.4 1448.1,701.7 1449.4,701.9 1450.8,702.1 1452.1,702.3 1453.5,702.6 1454.8,702.8 1456.1,703.0 1457.5,703.1 1458.8,703.3 1460.1,703.5 1461.5,703.7 1462.8,703.8 1464.1,704.0 1465.5,704.2 1466.8,704.3 1468.2,704.5 1469.5,704.6 1470.8,704.7 1472.2,704.9 1473.5,705.0 1474.8,705.1 1476.2,705.3 1477.5,705.4 1478.8,705.5 1480.2,705.6 1481.5,705.7 1482.9,705.8 1484.2,705.9 1485.5,706.0 1486.9,706.1 1488.2,706.2 1489.5,706.3 1490.9,706.4 1492.2,706.5 1493.5,706.5 1494.9,706.6 1496.2,706.7 1497.6,706.8 1498.9,706.9 1500.2,706.9 1501.6,707.0 1502.9,707.1 1504.2,707.1 1505.6,707.2 1506.9,707.3 1508.2,707.3 1509.6,707.4 1510.9,707.5 1512.3,707.5 1513.6,707.6 1514.9,707.6 1516.3,707.7 1517.6,707.7 1518.9,707.8 1520.3,707.8 1521.6,707.9 1522.9,707.9 1524.3,708.0 1525.6,708.0 1527.0,708.1 1528.3,708.1 1529.6,708.2 1531.0,708.2 1532.3,708.2 1533.6,708.3 1535.0,708.3 1536.3,708.4 1537.6,708.4 1539.0,708.4 1540.3,708.5 1541.6,708.5 1543.0,708.5 1544.3,708.6 1545.7,708.6 1547.0,708.6 1548.3,708.7 1549.7,708.7 1551.0,708.7 1552.3,708.8 1553.7,708.8 1555.0,708.8 1556.3,708.8 1557.7,708.9 1559.0,708.9 1560.4,708.9 1561.7,709.0 1563.0,709.0 1564.4,709.0 1565.7,709.0 1567.0,709.1 1568.4,709.1 1569.7,709.1 1571.0,709.1 1572.4,709.2 1573.7,709.2 1575.1,709.2 1576.4,709.2 1577.7,709.2 1579.1,709.3 1580.4,709.3" stroke="#222222" stroke-width="1.1"/>
<polyline points="1152.8,709.1 1154.1,709.1 1155.5,709.0 1156.8,709.0 1158.1,709.0 1159.5,709.0 1160.8,708.9 1162.2,708.9 1163.5,708.9 1164.8,708.9 1166.2,708.8 1167.5,708.8 1168.8,708.8 1170.2,708.7 1171.5,708.7 1172.8,708.7 1174.2,708.7 1175.5,708.6 1176.9,708.6 1178.2,708.6 1179.5,708.5 1180.9,708.5 1182.2,708.5 1183.5,708.4 1184.9,708.4 1186.2,708.4 1187.5,708.3 1188.9,708.3 1190.2,708.3 1191.6,708.2 1192.9,708.2 1194.2,708.1 1195.6,708.1 1196.9,708.1 1198.2,708.0 1199.6,708.0 1200.9,707.9 1202.2,707.9 1203.6,707.8 1204.9,707.8 1206.2,707.7 1207.6,707.7 1208.9,707.6 1210.3,707.6 1211.6,707.5 1212.9,707.5 1214.3,707.4 1215.6,707.4 1216.9,707.3 1218.3,707.2 1219.6,707.2 1220.9,707.1 1222.3,707.0 1223.6,707.0 1225.0,706.9 1226.3,706.8 1227.6,706.8 1229.0,706.7 1230.3,706.6 1231.6,706.6 1233.0,706.5 1234.3,706.4 1235.6,706.3 1237.0,706.2 1238.3,706.1 1239.7,706.0 1241.0,706.0 1242.3,705.9 1243.7,705.8 1245.0,705.7 1246.3,705.6 1247.7,705.5 1249.0,705.3 1250.3,705.2 1251.7,705.1 1253.0,705.0 1254.4,704.9 1255.7,704.8 1257.0,704.6 1258.4,704.5 1259.7,704.4 1261.0,704.2 1262.4,704.1 1263.7,703.9 1265.0,703.8 1266.4,703.6 1267.7,703.4 1269.1,703.3 1270.4,703.1 1271.7,702.9 1273.1,702.7 1274.4,702.5 1275.7,702.3 1277.1,702.1 1278.4,701.9 1279.7,701.7 1281.1,701.4 1282.4,701.2 1283.8,701.0 1285.1,700.7 1286.4,700.4 1287.8,700.2 1289.1,699.9 1290.4,699.6 1291.8,699.3 1293.1,698.9 1294.4,698.6 1295.8,698.2 1297.1,697.9 1298.5,697.5 1299.8,697.1 1301.1,696.7 1302.5,696.3 1303.8,695.8 1305.1,695.4 1306.5,694.9 1307.8,694.4 1309.1,693.9 1310.5,693.3 1311.8,692.7 1313.2,692.1 1314.5,691.5 1315.8,690.8 1317.2,690.1 1318.5,689.4 1319.8,688.7 1321.2,687.9 1322.5,687.0 1323.8,686.1 1325.2,685.2 1326.5,684.2 1327.8,683.2 1329.2,682.1 1330.5,681.0 1331.9,679.8 1333.2,678.5 1334.5,677.2 1335.9,675.8 1337.2,674.3 1338.5,672.7 1339.9,671.0 1341.2,669.2 1342.5,667.3 1343.9,665.3 1345.2,663.1 1345.6,662.4 1346.1,661.7 1346.5,660.9 1346.6,660.8 1346.9,660.2 1347.4,659.4 1347.8,658.6 1347.9,658.4 1348.2,657.7 1348.6,656.9 1349.1,656.0 1349.2,655.7 1349.5,655.2 1349.9,654.3 1350.4,653.4 1350.6,652.9 1350.8,652.4 1351.2,651.4 1351.6,650.5 1351.9,649.8 1352.1,649.5 1352.5,648.4 1352.9,647.4 1353.2,646.6 1353.3,646.3 1353.8,645.2 1354.2,644.0 1354.6,643.0 1354.6,642.9 1355.1,641.7 1355.5,640.5 1355.9,639.2 1356.3,638.0 1356.8,636.7 1357.2,635.4 1357.2,635.2 1357.6,634.0 1358.0,632.6 1358.5,631.2 1358.6,630.9 1358.9,629.8 1359.3,628.4 1359.8,626.9 1359.9,626.4 1360.2,625.5 1360.6,624.0 1361.0,622.5 1361.3,621.8 1361.5,621.1 1361.9,619.7 1362.3,618.3 1362.6,617.4 1362.8,616.9 1363.2,615.6 1363.6,614.4 1363.9,613.6 1364.0,613.4 1364.5,612.4 1364.5,612.2 1364.6,612.0 1364.7,611.9 1364.8,611.7 1364.9,611.6 1365.0,611.4 1365.1,611.3 1365.1,611.1 1365.2,611.0 1365.3,611.0 1365.3,610.9 1365.4,610.8 1365.5,610.7 1365.6,610.6 1365.7,610.5 1365.7,610.4 1365.8,610.3 1365.9,610.3 1366.0,610.2 1366.1,610.1 1366.2,610.1 1366.3,610.1 1366.3,610.0 1366.4,610.0 1366.5,610.0 1366.6,610.0 1366.7,610.0 1366.8,610.0 1366.9,610.0 1366.9,610.1 1367.0,610.1 1367.1,610.1 1367.2,610.2 1367.3,610.3 1367.4,610.3 1367.5,610.4 1367.5,610.5 1367.6,610.6 1367.7,610.7 1367.8,610.8 1367.9,610.9 1367.9,611.0 1368.0,611.0 1368.1,611.1 1368.1,611.3 1368.2,611.4 1368.3,611.6 1368.4,611.7 1368.5,611.9 1368.6,612.0 1368.7,612.2 1368.7,612.4 1369.2,613.4 1369.3,613.6 1369.6,614.4 1370.0,615.6 1370.4,616.9 1370.6,617.4 1370.9,618.3 1371.3,619.7 1371.7,621.1 1371.9,621.8 1372.2,622.5 1372.6,624.0 1373.0,625.5 1373.3,626.4 1373.4,626.9 1373.9,628.4 1374.3,629.8 1374.6,630.9 1374.7,631.2 1375.2,632.6 1375.6,634.0 1376.0,635.2 1376.0,635.4 1376.4,636.7 1376.9,638.0 1377.3,639.2 1377.7,640.5 1378.1,641.7 1378.6,642.9 1378.6,643.0 1379.0,644.0 1379.4,645.2 1379.9,646.3 1380.0,646.6 1380.3,647.4 1380.7,648.4 1381.1,649.5 1381.3,649.8 1381.6,650.5 1382.0,651.4 1382.4,652.4 1382.6,652.9 1382.8,653.4 1383.3,654.3 1383.7,655.2 1384.0,655.7 1384.1,656.0 1384.6,656.9 1385.0,657.7 1385.3,658.4 1385.4,658.6 1385.8,659.4 1386.3,660.2 1386.6,660.8 1386.7,660.9 1387.1,661.7 1387.6,662.4 1388.0,663.1 1389.3,665.3 1390.7,667.3 1392.0,669.2 1393.3,671.0 1394.7,672.7 1396.0,674.3 1397.3,675.8 1398.7,677.2 1400.0,678.5 1401.3,679.8 1402.7,681.0 1404.0,682.1 1405.4,683.2 1406.7,684.2 1408.0,685.2 1409.4,686.1 1410.7,687.0 1412.0,687.9 1413.4,688.7 1414.7,689.4 1416.0,690.1 1417.4,690.8 1418.7,691.5 1420.1,692.1 1421.4,692.7 1422.7,693.3 1424.1,693.9 1425.4,694.4 1426.7,694.9 1428.1,695.4 1429.4,695.8 1430.7,696.3 1432.1,696.7 1433.4,697.1 1434.7,697.5 1436.1,697.9 1437.4,698.2 1438.8,698.6 1440.1,698.9 1441.4,699.3 1442.8,699.6 1444.1,699.9 1445.4,700.2 1446.8,700.4 1448.1,700.7 1449.4,701.0 1450.8,701.2 1452.1,701.4 1453.5,701.7 1454.8,701.9 1456.1,702.1 1457.5,702.3 1458.8,702.5 1460.1,702.7 1461.5,702.9 1462.8,703.1 1464.1,703.3 1465.5,703.4 1466.8,703.6 1468.2,703.8 1469.5,703.9 1470.8,704.1 1472.2,704.2 1473.5,704.4 1474.8,704.5 1476.2,704.6 1477.5,704.8 1478.8,704.9 1480.2,705.0 1481.5,705.1 1482.9,705.2 1484.2,705.3 1485.5,705.5 1486.9,705.6 1488.2,705.7 1489.5,705.8 1490.9,705.9 1492.2,706.0 1493.5,706.0 1494.9,706.1 1496.2,706.2 1497.6,706.3 1498.9,706.4 1500.2,706.5 1501.6,706.6 1502.9,706.6 1504.2,706.7 1505.6,706.8 1506.9,706.8 1508.2,706.9 1509.6,707.0 1510.9,707.0 1512.3,707.1 1513.6,707.2 1514.9,707.2 1516.3,707.3 1517.6,707.4 1518.9,707.4 1520.3,707.5 1521.6,707.5 1522.9,707.6 1524.3,707.6 1525.6,707.7 1527.0,707.7 1528.3,707.8 1529.6,707.8 1531.0,707.9 1532.3,707.9 1533.6,708.0 1535.0,708.0 1536.3,708.1 1537.6,708.1 1539.0,708.1 1540.3,708.2 1541.6,708.2 1543.0,708.3 1544.3,708.3 1545.7,708.3 1547.0,708.4 1548.3,708.4 1549.7,708.4 1551.0,708.5 1552.3,708.5 1553.7,708.5 1555.0,708.6 1556.3,708.6 1557.7,708.6 1559.0,708.7 1560.4,708.7 1561.7,708.7 1563.0,708.7 1564.4,708.8 1565.7,708.8 1567.0,708.8 1568.4,708.9 1569.7,708.9 1571.0,708.9 1572.4,708.9 1573.7,709.0 1575.1,709.0 1576.4,709.0 1577.7,709.0 1579.1,709.1 1580.4,709.1" stroke="#E06666" stroke-width="1.3"/>
</g>
<rect x="1152.8" y="509.2" width="427.6" height="201.8" fill="none" stroke="#383838" stroke-width="1.25"/>
<text x="1125.72" y="715.57" font-family="'Liberation Sans', Arial, Helvetica, sans-serif" font-size="29.2" font-weight="normal" font-style="normal" fill="#000" >0</text>
<line x1="1152.8" y1="610" x2="1159.8" y2="610" stroke="#383838" stroke-width="1.25"/>
<line x1="1580.4" y1="610" x2="1573.4" y2="610" stroke="#383838" stroke-width="1.25"/>
<text x="1109.51" y="622.07" font-family="'Liberation Sans', Arial, Helvetica, sans-serif" font-size="29.2" font-weight="normal" font-style="normal" fill="#000" >20</text>
<line x1="1152.8" y1="509" x2="1159.8" y2="509" stroke="#383838" stroke-width="1.25"/>
<line x1="1580.4" y1="509" x2="1573.4" y2="509" stroke="#383838" stroke-width="1.25"/>
<text x="1109.51" y="529.07" font-family="'Liberation Sans', Arial, Helvetica, sans-serif" font-size="29.2" font-weight="normal" font-style="normal" fill="#000" >40</text>
<text x="1148.03" y="745.71" font-family="'Liberation Sans', Arial, Helvetica, sans-serif" font-size="29.2" font-weight="normal" font-style="normal" fill="#000" >-5</text>
<line x1="1366.6" y1="711" x2="1366.6" y2="704" stroke="#383838" stroke-width="1.25"/>
<line x1="1366.6" y1="509.2" x2="1366.6" y2="516.2" stroke="#383838" stroke-width="1.25"/>
<text x="1358.62" y="745.71" font-family="'Liberation Sans', Arial, Helvetica, sans-serif" font-size="29.2" font-weight="normal" font-style="normal" fill="#000" >0</text>
<text x="1564.9" y="745.71" font-family="'Liberation Sans', Arial, Helvetica, sans-serif" font-size="29.2" font-weight="normal" font-style="normal" fill="#000" >5</text>
<text x="1340.35" y="777.69" font-family="'Liberation Serif', 'Times New Roman', serif" font-size="31" font-weight="normal" font-style="italic" fill="#000" >ω</text>
<text x="1363.88" y="781.85" font-family="'DejaVu Sans', sans-serif" font-size="39.5" font-weight="200" font-style="normal" fill="#000" >/</text>
<text x="1379.34" y="777.8" font-family="'Liberation Serif', 'Times New Roman', serif" font-size="33" font-weight="normal" font-style="italic" fill="#000" >κ</text>
<polygon points="1181,520.6 1186.05,530.84 1197.36,532.48 1189.18,540.46 1191.11,551.72 1181,546.4 1170.89,551.72 1172.82,540.46 1164.64,532.48 1175.95,530.84" fill="none" stroke="#EE00EE" stroke-width="3.0" stroke-linejoin="round"/>
<clipPath id="clipg"><rect x="1667" y="507.7" width="427" height="202.3"/></clipPath>
<g clip-path="url(#clipg)" fill="none" stroke-linejoin="round">
<polyline points="1667.0,709.2 1668.3,709.2 1669.7,709.2 1671.0,709.2 1672.3,709.2 1673.7,709.2 1675.0,709.2 1676.3,709.2 1677.7,709.2 1679.0,709.1 1680.3,709.1 1681.7,709.1 1683.0,709.1 1684.3,709.1 1685.7,709.1 1687.0,709.1 1688.3,709.1 1689.7,709.1 1691.0,709.0 1692.4,709.0 1693.7,709.0 1695.0,709.0 1696.4,709.0 1697.7,709.0 1699.0,709.0 1700.4,708.9 1701.7,708.9 1703.0,708.9 1704.4,708.9 1705.7,708.9 1707.0,708.9 1708.4,708.9 1709.7,708.8 1711.0,708.8 1712.4,708.8 1713.7,708.8 1715.0,708.8 1716.4,708.8 1717.7,708.8 1719.0,708.7 1720.4,708.7 1721.7,708.7 1723.0,708.7 1724.4,708.7 1725.7,708.7 1727.0,708.6 1728.4,708.6 1729.7,708.6 1731.0,708.6 1732.4,708.6 1733.7,708.6 1735.1,708.6 1736.4,708.5 1737.7,708.5 1739.1,708.5 1740.4,708.5 1741.7,708.5 1743.1,708.4 1744.4,708.4 1745.7,708.4 1747.1,708.4 1748.4,708.4 1749.7,708.3 1751.1,708.3 1752.4,708.3 1753.7,708.3 1755.1,708.2 1756.4,708.2 1757.7,708.2 1759.1,708.1 1760.4,708.1 1761.7,708.0 1763.1,708.0 1764.4,707.9 1765.7,707.9 1767.1,707.8 1768.4,707.8 1769.7,707.7 1771.1,707.7 1772.4,707.6 1773.8,707.5 1775.1,707.5 1776.4,707.4 1777.8,707.3 1779.1,707.3 1780.4,707.2 1781.8,707.1 1783.1,707.0 1784.4,706.9 1785.8,706.8 1787.1,706.8 1788.4,706.7 1789.8,706.6 1791.1,706.5 1792.4,706.4 1793.8,706.3 1795.1,706.2 1796.4,706.1 1797.8,706.0 1799.1,705.9 1800.4,705.8 1801.8,705.7 1803.1,705.6 1804.4,705.5 1805.8,705.4 1807.1,705.2 1808.4,705.1 1809.8,705.0 1811.1,704.9 1812.4,704.7 1813.8,704.6 1815.1,704.4 1816.5,704.3 1817.8,704.1 1819.1,704.0 1820.5,703.8 1821.8,703.7 1823.1,703.5 1824.5,703.3 1825.0,703.3 1825.4,703.2 1825.8,703.2 1825.8,703.1 1826.3,703.1 1826.7,703.0 1827.1,703.0 1827.6,702.9 1828.0,702.9 1828.4,702.8 1828.5,702.8 1828.8,702.8 1829.3,702.7 1829.7,702.7 1829.8,702.7 1830.1,702.6 1830.5,702.6 1831.0,702.5 1831.1,702.5 1831.4,702.4 1831.8,702.4 1832.2,702.3 1832.5,702.3 1832.7,702.3 1833.1,702.2 1833.5,702.2 1833.8,702.1 1834.0,702.1 1834.4,702.0 1834.8,702.0 1835.1,701.9 1835.2,701.9 1835.7,701.9 1836.1,701.8 1836.5,701.7 1836.5,701.7 1836.9,701.7 1837.4,701.6 1837.8,701.5 1838.2,701.5 1838.7,701.4 1839.1,701.3 1839.1,701.3 1839.5,701.2 1839.9,701.2 1840.4,701.1 1840.5,701.1 1840.8,701.0 1841.2,701.0 1841.6,700.9 1841.8,700.8 1842.1,700.8 1842.5,700.7 1842.9,700.6 1843.1,700.6 1843.4,700.6 1843.8,700.5 1844.2,700.4 1844.3,700.4 1844.4,700.4 1844.5,700.3 1844.5,700.3 1844.5,700.3 1844.6,700.3 1844.7,700.3 1844.8,700.3 1844.9,700.3 1845.0,700.2 1845.1,700.2 1845.1,700.2 1845.2,700.2 1845.3,700.2 1845.4,700.2 1845.5,700.1 1845.6,700.1 1845.7,700.1 1845.7,700.1 1845.8,700.1 1845.8,700.1 1845.9,700.1 1846.0,700.0 1846.1,700.0 1846.2,700.0 1846.3,700.0 1846.3,700.0 1846.4,699.9 1846.5,699.9 1846.6,699.9 1846.7,699.9 1846.8,699.9 1846.9,699.9 1846.9,699.8 1847.0,699.8 1847.1,699.8 1847.1,699.8 1847.2,699.8 1847.3,699.8 1847.4,699.8 1847.5,699.7 1847.5,699.7 1847.6,699.7 1847.7,699.7 1847.8,699.7 1847.9,699.6 1848.0,699.6 1848.0,699.6 1848.1,699.6 1848.2,699.6 1848.3,699.6 1848.4,699.5 1848.5,699.5 1848.9,699.4 1849.3,699.3 1849.8,699.2 1849.8,699.2 1850.2,699.2 1850.6,699.1 1851.0,699.0 1851.1,698.9 1851.5,698.9 1851.9,698.8 1852.3,698.7 1852.5,698.7 1852.7,698.6 1853.2,698.5 1853.6,698.4 1853.8,698.4 1854.0,698.3 1854.5,698.3 1854.9,698.2 1855.1,698.1 1855.3,698.1 1855.7,698.0 1856.2,697.9 1856.5,697.8 1856.6,697.8 1857.0,697.7 1857.4,697.7 1857.8,697.6 1857.9,697.6 1858.3,697.5 1858.7,697.5 1859.2,697.4 1859.6,697.3 1860.0,697.3 1860.4,697.2 1860.5,697.2 1860.9,697.2 1861.3,697.1 1861.7,697.1 1861.8,697.1 1862.1,697.0 1862.6,697.0 1863.0,697.0 1863.2,697.0 1863.4,696.9 1863.8,696.9 1864.3,696.9 1864.5,696.9 1864.7,696.9 1865.1,696.9 1865.6,696.9 1865.8,696.9 1866.0,696.9 1866.4,696.9 1866.8,696.9 1867.2,696.9 1867.3,696.9 1867.7,696.9 1868.5,696.9 1869.8,696.9 1871.2,696.9 1872.5,696.9 1873.8,696.9 1875.2,696.9 1876.5,696.9 1877.8,696.9 1879.2,696.9 1880.5,696.9 1881.8,696.9 1883.2,696.9 1884.5,696.9 1885.8,696.9 1887.2,696.9 1888.5,696.9 1889.8,696.9 1891.2,696.9 1892.5,696.9 1893.3,696.9 1893.7,696.9 1893.8,696.9 1894.2,696.9 1894.6,696.9 1895.0,696.9 1895.2,696.9 1895.4,696.9 1895.9,696.9 1896.3,696.9 1896.5,696.9 1896.7,696.9 1897.2,696.9 1897.6,696.9 1897.8,697.0 1898.0,697.0 1898.4,697.0 1898.9,697.0 1899.2,697.1 1899.3,697.1 1899.7,697.1 1900.1,697.2 1900.5,697.2 1900.6,697.2 1901.0,697.3 1901.4,697.3 1901.8,697.4 1902.3,697.5 1902.7,697.5 1903.1,697.6 1903.2,697.6 1903.6,697.7 1904.0,697.7 1904.4,697.8 1904.5,697.8 1904.8,697.9 1905.3,698.0 1905.7,698.1 1905.9,698.1 1906.1,698.2 1906.5,698.3 1907.0,698.3 1907.2,698.4 1907.4,698.4 1907.8,698.5 1908.3,698.6 1908.5,698.7 1908.7,698.7 1909.1,698.8 1909.5,698.9 1909.9,698.9 1910.0,699.0 1910.4,699.1 1910.8,699.2 1911.2,699.2 1911.2,699.2 1911.7,699.3 1912.1,699.4 1912.5,699.5 1912.6,699.5 1912.7,699.6 1912.8,699.6 1912.9,699.6 1913.0,699.6 1913.0,699.6 1913.1,699.6 1913.2,699.7 1913.3,699.7 1913.4,699.7 1913.5,699.7 1913.5,699.7 1913.6,699.8 1913.7,699.8 1913.8,699.8 1913.9,699.8 1913.9,699.8 1914.0,699.8 1914.1,699.8 1914.1,699.9 1914.2,699.9 1914.3,699.9 1914.4,699.9 1914.5,699.9 1914.6,699.9 1914.7,700.0 1914.7,700.0 1914.8,700.0 1914.9,700.0 1915.0,700.0 1915.1,700.1 1915.2,700.1 1915.2,700.1 1915.3,700.1 1915.3,700.1 1915.4,700.1 1915.5,700.1 1915.6,700.2 1915.7,700.2 1915.8,700.2 1915.9,700.2 1915.9,700.2 1916.0,700.2 1916.1,700.3 1916.2,700.3 1916.3,700.3 1916.4,700.3 1916.5,700.3 1916.5,700.3 1916.5,700.3 1916.6,700.4 1916.7,700.4 1916.8,700.4 1917.2,700.5 1917.6,700.6 1917.9,700.6 1918.1,700.6 1918.5,700.7 1918.9,700.8 1919.2,700.8 1919.4,700.9 1919.8,701.0 1920.2,701.0 1920.5,701.1 1920.6,701.1 1921.1,701.2 1921.5,701.2 1921.9,701.3 1921.9,701.3 1922.3,701.4 1922.8,701.5 1923.2,701.5 1923.6,701.6 1924.1,701.7 1924.5,701.7 1924.5,701.7 1924.9,701.8 1925.3,701.9 1925.8,701.9 1925.9,701.9 1926.2,702.0 1926.6,702.0 1927.0,702.1 1927.2,702.1 1927.5,702.2 1927.9,702.2 1928.3,702.3 1928.5,702.3 1928.8,702.3 1929.2,702.4 1929.6,702.4 1929.9,702.5 1930.0,702.5 1930.5,702.6 1930.9,702.6 1931.2,702.7 1931.3,702.7 1931.7,702.7 1932.2,702.8 1932.5,702.8 1932.6,702.8 1933.0,702.9 1933.4,702.9 1933.9,703.0 1934.3,703.0 1934.7,703.1 1935.2,703.1 1935.2,703.2 1935.6,703.2 1936.0,703.3 1936.5,703.3 1937.9,703.5 1939.2,703.7 1940.5,703.8 1941.9,704.0 1943.2,704.1 1944.5,704.3 1945.9,704.4 1947.2,704.6 1948.6,704.7 1949.9,704.9 1951.2,705.0 1952.6,705.1 1953.9,705.2 1955.2,705.4 1956.6,705.5 1957.9,705.6 1959.2,705.7 1960.6,705.8 1961.9,705.9 1963.2,706.0 1964.6,706.1 1965.9,706.2 1967.2,706.3 1968.6,706.4 1969.9,706.5 1971.2,706.6 1972.6,706.7 1973.9,706.8 1975.2,706.8 1976.6,706.9 1977.9,707.0 1979.2,707.1 1980.6,707.2 1981.9,707.3 1983.2,707.3 1984.6,707.4 1985.9,707.5 1987.2,707.5 1988.6,707.6 1989.9,707.7 1991.3,707.7 1992.6,707.8 1993.9,707.8 1995.3,707.9 1996.6,707.9 1997.9,708.0 1999.3,708.0 2000.6,708.1 2001.9,708.1 2003.3,708.2 2004.6,708.2 2005.9,708.2 2007.3,708.3 2008.6,708.3 2009.9,708.3 2011.3,708.3 2012.6,708.4 2013.9,708.4 2015.3,708.4 2016.6,708.4 2017.9,708.4 2019.3,708.5 2020.6,708.5 2021.9,708.5 2023.3,708.5 2024.6,708.5 2025.9,708.6 2027.3,708.6 2028.6,708.6 2030.0,708.6 2031.3,708.6 2032.6,708.6 2034.0,708.6 2035.3,708.7 2036.6,708.7 2038.0,708.7 2039.3,708.7 2040.6,708.7 2042.0,708.7 2043.3,708.8 2044.6,708.8 2046.0,708.8 2047.3,708.8 2048.6,708.8 2050.0,708.8 2051.3,708.8 2052.6,708.9 2054.0,708.9 2055.3,708.9 2056.6,708.9 2058.0,708.9 2059.3,708.9 2060.6,708.9 2062.0,709.0 2063.3,709.0 2064.6,709.0 2066.0,709.0 2067.3,709.0 2068.6,709.0 2070.0,709.0 2071.3,709.1 2072.7,709.1 2074.0,709.1 2075.3,709.1 2076.7,709.1 2078.0,709.1 2079.3,709.1 2080.7,709.1 2082.0,709.1 2083.3,709.2 2084.7,709.2 2086.0,709.2 2087.3,709.2 2088.7,709.2 2090.0,709.2 2091.3,709.2 2092.7,709.2 2094.0,709.2" stroke="#666666" stroke-width="1.1"/>
<polyline points="1667.0,708.5 1668.3,708.5 1669.7,708.5 1671.0,708.4 1672.3,708.4 1673.7,708.4 1675.0,708.4 1676.3,708.4 1677.7,708.4 1679.0,708.4 1680.3,708.3 1681.7,708.3 1683.0,708.3 1684.3,708.3 1685.7,708.3 1687.0,708.3 1688.3,708.2 1689.7,708.2 1691.0,708.2 1692.4,708.2 1693.7,708.2 1695.0,708.1 1696.4,708.1 1697.7,708.1 1699.0,708.1 1700.4,708.1 1701.7,708.0 1703.0,708.0 1704.4,708.0 1705.7,708.0 1707.0,708.0 1708.4,707.9 1709.7,707.9 1711.0,707.9 1712.4,707.9 1713.7,707.8 1715.0,707.8 1716.4,707.8 1717.7,707.8 1719.0,707.7 1720.4,707.7 1721.7,707.7 1723.0,707.6 1724.4,707.6 1725.7,707.6 1727.0,707.6 1728.4,707.5 1729.7,707.5 1731.0,707.5 1732.4,707.4 1733.7,707.4 1735.1,707.4 1736.4,707.3 1737.7,707.3 1739.1,707.2 1740.4,707.2 1741.7,707.2 1743.1,707.1 1744.4,707.1 1745.7,707.0 1747.1,707.0 1748.4,706.9 1749.7,706.9 1751.1,706.8 1752.4,706.8 1753.7,706.7 1755.1,706.7 1756.4,706.6 1757.7,706.5 1759.1,706.5 1760.4,706.4 1761.7,706.3 1763.1,706.2 1764.4,706.1 1765.7,706.0 1767.1,705.9 1768.4,705.8 1769.7,705.7 1771.1,705.6 1772.4,705.5 1773.8,705.4 1775.1,705.3 1776.4,705.2 1777.8,705.0 1779.1,704.9 1780.4,704.8 1781.8,704.7 1783.1,704.5 1784.4,704.4 1785.8,704.3 1787.1,704.1 1788.4,704.0 1789.8,703.9 1791.1,703.7 1792.4,703.6 1793.8,703.4 1795.1,703.3 1796.4,703.1 1797.8,703.0 1799.1,702.8 1800.4,702.7 1801.8,702.5 1803.1,702.3 1804.4,702.2 1805.8,702.0 1807.1,701.8 1808.4,701.6 1809.8,701.4 1811.1,701.2 1812.4,700.9 1813.8,700.7 1815.1,700.5 1816.5,700.2 1817.8,700.0 1819.1,699.7 1820.5,699.4 1821.8,699.2 1823.1,698.9 1824.5,698.6 1825.0,698.4 1825.4,698.3 1825.8,698.3 1825.8,698.2 1826.3,698.2 1826.7,698.1 1827.1,698.0 1827.6,697.8 1828.0,697.7 1828.4,697.6 1828.5,697.6 1828.8,697.5 1829.3,697.4 1829.7,697.3 1829.8,697.3 1830.1,697.2 1830.5,697.1 1831.0,697.0 1831.1,697.0 1831.4,696.9 1831.8,696.8 1832.2,696.7 1832.5,696.6 1832.7,696.6 1833.1,696.5 1833.5,696.4 1833.8,696.3 1834.0,696.2 1834.4,696.1 1834.8,696.0 1835.1,695.9 1835.2,695.9 1835.7,695.8 1836.1,695.7 1836.5,695.5 1836.5,695.5 1836.9,695.4 1837.4,695.3 1837.8,695.2 1838.2,695.0 1838.7,694.9 1839.1,694.8 1839.1,694.7 1839.5,694.6 1839.9,694.5 1840.4,694.4 1840.5,694.3 1840.8,694.2 1841.2,694.1 1841.6,694.0 1841.8,693.9 1842.1,693.8 1842.5,693.7 1842.9,693.5 1843.1,693.5 1843.4,693.4 1843.8,693.2 1844.2,693.1 1844.3,693.1 1844.4,693.0 1844.5,693.0 1844.5,693.0 1844.5,693.0 1844.6,693.0 1844.7,692.9 1844.8,692.9 1844.9,692.9 1845.0,692.8 1845.1,692.8 1845.1,692.8 1845.2,692.8 1845.3,692.7 1845.4,692.7 1845.5,692.7 1845.6,692.6 1845.7,692.6 1845.7,692.6 1845.8,692.6 1845.8,692.6 1845.9,692.5 1846.0,692.5 1846.1,692.5 1846.2,692.4 1846.3,692.4 1846.3,692.4 1846.4,692.4 1846.5,692.3 1846.6,692.3 1846.7,692.3 1846.8,692.2 1846.9,692.2 1846.9,692.2 1847.0,692.2 1847.1,692.1 1847.1,692.1 1847.2,692.1 1847.3,692.1 1847.4,692.0 1847.5,692.0 1847.5,692.0 1847.6,692.0 1847.7,691.9 1847.8,691.9 1847.9,691.9 1848.0,691.9 1848.0,691.8 1848.1,691.8 1848.2,691.8 1848.3,691.7 1848.4,691.7 1848.5,691.7 1848.9,691.5 1849.3,691.4 1849.8,691.3 1849.8,691.2 1850.2,691.1 1850.6,691.0 1851.0,690.9 1851.1,690.8 1851.5,690.7 1851.9,690.6 1852.3,690.5 1852.5,690.4 1852.7,690.3 1853.2,690.2 1853.6,690.0 1853.8,689.9 1854.0,689.9 1854.5,689.7 1854.9,689.6 1855.1,689.5 1855.3,689.4 1855.7,689.2 1856.2,689.1 1856.5,689.0 1856.6,688.9 1857.0,688.8 1857.4,688.6 1857.8,688.5 1857.9,688.4 1858.3,688.3 1858.7,688.1 1859.2,688.0 1859.6,687.8 1860.0,687.7 1860.4,687.6 1860.5,687.6 1860.9,687.5 1861.3,687.3 1861.7,687.2 1861.8,687.2 1862.1,687.1 1862.6,687.0 1863.0,687.0 1863.2,687.0 1863.4,686.9 1863.8,686.9 1864.3,686.8 1864.5,686.8 1864.7,686.8 1865.1,686.8 1865.6,686.8 1865.8,686.8 1866.0,686.8 1866.4,686.9 1866.8,686.9 1867.2,686.9 1867.3,686.9 1867.7,686.9 1868.5,686.9 1869.8,687.0 1871.2,687.0 1872.5,687.1 1873.8,687.1 1875.2,687.2 1876.5,687.3 1877.8,687.3 1879.2,687.3 1880.5,687.3 1881.8,687.3 1883.2,687.3 1884.5,687.3 1885.8,687.2 1887.2,687.1 1888.5,687.1 1889.8,687.0 1891.2,687.0 1892.5,686.9 1893.3,686.9 1893.7,686.9 1893.8,686.9 1894.2,686.9 1894.6,686.9 1895.0,686.8 1895.2,686.8 1895.4,686.8 1895.9,686.8 1896.3,686.8 1896.5,686.8 1896.7,686.8 1897.2,686.9 1897.6,686.9 1897.8,687.0 1898.0,687.0 1898.4,687.0 1898.9,687.1 1899.2,687.2 1899.3,687.2 1899.7,687.3 1900.1,687.5 1900.5,687.6 1900.6,687.6 1901.0,687.7 1901.4,687.8 1901.8,688.0 1902.3,688.1 1902.7,688.3 1903.1,688.4 1903.2,688.5 1903.6,688.6 1904.0,688.8 1904.4,688.9 1904.5,689.0 1904.8,689.1 1905.3,689.2 1905.7,689.4 1905.9,689.5 1906.1,689.6 1906.5,689.7 1907.0,689.9 1907.2,689.9 1907.4,690.0 1907.8,690.2 1908.3,690.3 1908.5,690.4 1908.7,690.5 1909.1,690.6 1909.5,690.7 1909.9,690.8 1910.0,690.9 1910.4,691.0 1910.8,691.1 1911.2,691.2 1911.2,691.3 1911.7,691.4 1912.1,691.5 1912.5,691.7 1912.6,691.7 1912.7,691.7 1912.8,691.8 1912.9,691.8 1913.0,691.8 1913.0,691.9 1913.1,691.9 1913.2,691.9 1913.3,691.9 1913.4,692.0 1913.5,692.0 1913.5,692.0 1913.6,692.0 1913.7,692.1 1913.8,692.1 1913.9,692.1 1913.9,692.1 1914.0,692.2 1914.1,692.2 1914.1,692.2 1914.2,692.2 1914.3,692.3 1914.4,692.3 1914.5,692.3 1914.6,692.4 1914.7,692.4 1914.7,692.4 1914.8,692.4 1914.9,692.5 1915.0,692.5 1915.1,692.5 1915.2,692.6 1915.2,692.6 1915.3,692.6 1915.3,692.6 1915.4,692.6 1915.5,692.7 1915.6,692.7 1915.7,692.7 1915.8,692.8 1915.9,692.8 1915.9,692.8 1916.0,692.8 1916.1,692.9 1916.2,692.9 1916.3,692.9 1916.4,693.0 1916.5,693.0 1916.5,693.0 1916.5,693.0 1916.6,693.0 1916.7,693.1 1916.8,693.1 1917.2,693.2 1917.6,693.4 1917.9,693.5 1918.1,693.5 1918.5,693.7 1918.9,693.8 1919.2,693.9 1919.4,694.0 1919.8,694.1 1920.2,694.2 1920.5,694.3 1920.6,694.4 1921.1,694.5 1921.5,694.6 1921.9,694.7 1921.9,694.8 1922.3,694.9 1922.8,695.0 1923.2,695.2 1923.6,695.3 1924.1,695.4 1924.5,695.5 1924.5,695.5 1924.9,695.7 1925.3,695.8 1925.8,695.9 1925.9,695.9 1926.2,696.0 1926.6,696.1 1927.0,696.2 1927.2,696.3 1927.5,696.4 1927.9,696.5 1928.3,696.6 1928.5,696.6 1928.8,696.7 1929.2,696.8 1929.6,696.9 1929.9,697.0 1930.0,697.0 1930.5,697.1 1930.9,697.2 1931.2,697.3 1931.3,697.3 1931.7,697.4 1932.2,697.5 1932.5,697.6 1932.6,697.6 1933.0,697.7 1933.4,697.8 1933.9,698.0 1934.3,698.1 1934.7,698.2 1935.2,698.2 1935.2,698.3 1935.6,698.3 1936.0,698.4 1936.5,698.6 1937.9,698.9 1939.2,699.2 1940.5,699.4 1941.9,699.7 1943.2,700.0 1944.5,700.2 1945.9,700.5 1947.2,700.7 1948.6,700.9 1949.9,701.2 1951.2,701.4 1952.6,701.6 1953.9,701.8 1955.2,702.0 1956.6,702.2 1957.9,702.3 1959.2,702.5 1960.6,702.7 1961.9,702.8 1963.2,703.0 1964.6,703.1 1965.9,703.3 1967.2,703.4 1968.6,703.6 1969.9,703.7 1971.2,703.9 1972.6,704.0 1973.9,704.1 1975.2,704.3 1976.6,704.4 1977.9,704.5 1979.2,704.7 1980.6,704.8 1981.9,704.9 1983.2,705.0 1984.6,705.2 1985.9,705.3 1987.2,705.4 1988.6,705.5 1989.9,705.6 1991.3,705.7 1992.6,705.8 1993.9,705.9 1995.3,706.0 1996.6,706.1 1997.9,706.2 1999.3,706.3 2000.6,706.4 2001.9,706.5 2003.3,706.5 2004.6,706.6 2005.9,706.7 2007.3,706.7 2008.6,706.8 2009.9,706.8 2011.3,706.9 2012.6,706.9 2013.9,707.0 2015.3,707.0 2016.6,707.1 2017.9,707.1 2019.3,707.2 2020.6,707.2 2021.9,707.2 2023.3,707.3 2024.6,707.3 2025.9,707.4 2027.3,707.4 2028.6,707.4 2030.0,707.5 2031.3,707.5 2032.6,707.5 2034.0,707.6 2035.3,707.6 2036.6,707.6 2038.0,707.6 2039.3,707.7 2040.6,707.7 2042.0,707.7 2043.3,707.8 2044.6,707.8 2046.0,707.8 2047.3,707.8 2048.6,707.9 2050.0,707.9 2051.3,707.9 2052.6,707.9 2054.0,708.0 2055.3,708.0 2056.6,708.0 2058.0,708.0 2059.3,708.0 2060.6,708.1 2062.0,708.1 2063.3,708.1 2064.6,708.1 2066.0,708.1 2067.3,708.2 2068.6,708.2 2070.0,708.2 2071.3,708.2 2072.7,708.2 2074.0,708.3 2075.3,708.3 2076.7,708.3 2078.0,708.3 2079.3,708.3 2080.7,708.3 2082.0,708.4 2083.3,708.4 2084.7,708.4 2086.0,708.4 2087.3,708.4 2088.7,708.4 2090.0,708.4 2091.3,708.5 2092.7,708.5 2094.0,708.5" stroke="#222222" stroke-width="1.1"/>
<polyline points="1667.0,707.7 1668.3,707.7 1669.7,707.7 1671.0,707.7 1672.3,707.6 1673.7,707.6 1675.0,707.6 1676.3,707.6 1677.7,707.5 1679.0,707.5 1680.3,707.5 1681.7,707.5 1683.0,707.4 1684.3,707.4 1685.7,707.4 1687.0,707.4 1688.3,707.3 1689.7,707.3 1691.0,707.3 1692.4,707.2 1693.7,707.2 1695.0,707.2 1696.4,707.1 1697.7,707.1 1699.0,707.1 1700.4,707.0 1701.7,707.0 1703.0,707.0 1704.4,706.9 1705.7,706.9 1707.0,706.8 1708.4,706.8 1709.7,706.8 1711.0,706.7 1712.4,706.7 1713.7,706.6 1715.0,706.6 1716.4,706.6 1717.7,706.5 1719.0,706.5 1720.4,706.4 1721.7,706.4 1723.0,706.3 1724.4,706.3 1725.7,706.2 1727.0,706.2 1728.4,706.1 1729.7,706.0 1731.0,706.0 1732.4,705.9 1733.7,705.9 1735.1,705.8 1736.4,705.7 1737.7,705.7 1739.1,705.6 1740.4,705.5 1741.7,705.5 1743.1,705.4 1744.4,705.3 1745.7,705.2 1747.1,705.2 1748.4,705.1 1749.7,705.0 1751.1,704.9 1752.4,704.8 1753.7,704.7 1755.1,704.6 1756.4,704.5 1757.7,704.4 1759.1,704.3 1760.4,704.2 1761.7,704.1 1763.1,703.9 1764.4,703.8 1765.7,703.7 1767.1,703.5 1768.4,703.4 1769.7,703.2 1771.1,703.1 1772.4,702.9 1773.8,702.7 1775.1,702.6 1776.4,702.4 1777.8,702.2 1779.1,702.0 1780.4,701.9 1781.8,701.7 1783.1,701.5 1784.4,701.3 1785.8,701.1 1787.1,700.9 1788.4,700.7 1789.8,700.4 1791.1,700.2 1792.4,700.0 1793.8,699.8 1795.1,699.5 1796.4,699.3 1797.8,699.0 1799.1,698.8 1800.4,698.5 1801.8,698.2 1803.1,697.9 1804.4,697.6 1805.8,697.3 1807.1,697.0 1808.4,696.7 1809.8,696.3 1811.1,695.9 1812.4,695.6 1813.8,695.2 1815.1,694.8 1816.5,694.4 1817.8,693.9 1819.1,693.5 1820.5,693.0 1821.8,692.5 1823.1,692.0 1824.5,691.4 1825.0,691.2 1825.4,691.0 1825.8,690.9 1825.8,690.9 1826.3,690.7 1826.7,690.5 1827.1,690.3 1827.6,690.1 1828.0,689.9 1828.4,689.7 1828.5,689.7 1828.8,689.5 1829.3,689.3 1829.7,689.1 1829.8,689.1 1830.1,688.9 1830.5,688.7 1831.0,688.5 1831.1,688.4 1831.4,688.3 1831.8,688.1 1832.2,687.9 1832.5,687.8 1832.7,687.7 1833.1,687.4 1833.5,687.2 1833.8,687.0 1834.0,687.0 1834.4,686.7 1834.8,686.5 1835.1,686.3 1835.2,686.2 1835.7,686.0 1836.1,685.7 1836.5,685.5 1836.5,685.5 1836.9,685.2 1837.4,685.0 1837.8,684.7 1838.2,684.4 1838.7,684.2 1839.1,684.0 1839.1,683.9 1839.5,683.7 1839.9,683.5 1840.4,683.2 1840.5,683.2 1840.8,683.0 1841.2,682.8 1841.6,682.6 1841.8,682.5 1842.1,682.4 1842.5,682.2 1842.9,681.9 1843.1,681.8 1843.4,681.7 1843.8,681.5 1844.2,681.2 1844.3,681.2 1844.4,681.1 1844.5,681.1 1844.5,681.1 1844.5,681.1 1844.6,681.0 1844.7,681.0 1844.8,680.9 1844.9,680.9 1845.0,680.8 1845.1,680.8 1845.1,680.7 1845.2,680.7 1845.3,680.6 1845.4,680.6 1845.5,680.5 1845.6,680.5 1845.7,680.4 1845.7,680.4 1845.8,680.3 1845.8,680.3 1845.9,680.3 1846.0,680.2 1846.1,680.2 1846.2,680.1 1846.3,680.1 1846.3,680.0 1846.4,680.0 1846.5,679.9 1846.6,679.9 1846.7,679.8 1846.8,679.7 1846.9,679.7 1846.9,679.6 1847.0,679.6 1847.1,679.5 1847.1,679.5 1847.2,679.5 1847.3,679.4 1847.4,679.4 1847.5,679.3 1847.5,679.3 1847.6,679.2 1847.7,679.2 1847.8,679.1 1847.9,679.1 1848.0,679.0 1848.0,679.0 1848.1,678.9 1848.2,678.9 1848.3,678.8 1848.4,678.7 1848.5,678.7 1848.9,678.4 1849.3,678.2 1849.8,677.9 1849.8,677.8 1850.2,677.6 1850.6,677.3 1851.0,677.1 1851.1,677.0 1851.5,676.8 1851.9,676.5 1852.3,676.3 1852.5,676.2 1852.7,676.0 1853.2,675.7 1853.6,675.5 1853.8,675.3 1854.0,675.2 1854.5,675.0 1854.9,674.7 1855.1,674.6 1855.3,674.5 1855.7,674.3 1856.2,674.0 1856.5,673.9 1856.6,673.8 1857.0,673.6 1857.4,673.4 1857.8,673.3 1857.9,673.3 1858.3,673.1 1858.7,673.0 1859.2,672.8 1859.6,672.7 1860.0,672.6 1860.4,672.6 1860.5,672.6 1860.9,672.5 1861.3,672.5 1861.7,672.5 1861.8,672.5 1862.1,672.5 1862.6,672.5 1863.0,672.5 1863.2,672.5 1863.4,672.5 1863.8,672.5 1864.3,672.6 1864.5,672.6 1864.7,672.6 1865.1,672.6 1865.6,672.7 1865.8,672.7 1866.0,672.7 1866.4,672.7 1866.8,672.8 1867.2,672.8 1867.3,672.8 1867.7,672.9 1868.5,673.0 1869.8,673.1 1871.2,673.3 1872.5,673.5 1873.8,673.7 1875.2,673.9 1876.5,674.0 1877.8,674.1 1879.2,674.2 1880.5,674.3 1881.8,674.2 1883.2,674.1 1884.5,674.0 1885.8,673.9 1887.2,673.7 1888.5,673.5 1889.8,673.3 1891.2,673.1 1892.5,673.0 1893.3,672.9 1893.7,672.8 1893.8,672.8 1894.2,672.8 1894.6,672.7 1895.0,672.7 1895.2,672.7 1895.4,672.7 1895.9,672.6 1896.3,672.6 1896.5,672.6 1896.7,672.6 1897.2,672.5 1897.6,672.5 1897.8,672.5 1898.0,672.5 1898.4,672.5 1898.9,672.5 1899.2,672.5 1899.3,672.5 1899.7,672.5 1900.1,672.5 1900.5,672.6 1900.6,672.6 1901.0,672.6 1901.4,672.7 1901.8,672.8 1902.3,673.0 1902.7,673.1 1903.1,673.3 1903.2,673.3 1903.6,673.4 1904.0,673.6 1904.4,673.8 1904.5,673.9 1904.8,674.0 1905.3,674.3 1905.7,674.5 1905.9,674.6 1906.1,674.7 1906.5,675.0 1907.0,675.2 1907.2,675.3 1907.4,675.5 1907.8,675.7 1908.3,676.0 1908.5,676.2 1908.7,676.3 1909.1,676.5 1909.5,676.8 1909.9,677.0 1910.0,677.1 1910.4,677.3 1910.8,677.6 1911.2,677.8 1911.2,677.9 1911.7,678.2 1912.1,678.4 1912.5,678.7 1912.6,678.7 1912.7,678.8 1912.8,678.9 1912.9,678.9 1913.0,679.0 1913.0,679.0 1913.1,679.1 1913.2,679.1 1913.3,679.2 1913.4,679.2 1913.5,679.3 1913.5,679.3 1913.6,679.4 1913.7,679.4 1913.8,679.5 1913.9,679.5 1913.9,679.5 1914.0,679.6 1914.1,679.6 1914.1,679.7 1914.2,679.7 1914.3,679.8 1914.4,679.9 1914.5,679.9 1914.6,680.0 1914.7,680.0 1914.7,680.1 1914.8,680.1 1914.9,680.2 1915.0,680.2 1915.1,680.3 1915.2,680.3 1915.2,680.3 1915.3,680.4 1915.3,680.4 1915.4,680.5 1915.5,680.5 1915.6,680.6 1915.7,680.6 1915.8,680.7 1915.9,680.7 1915.9,680.8 1916.0,680.8 1916.1,680.9 1916.2,680.9 1916.3,681.0 1916.4,681.0 1916.5,681.1 1916.5,681.1 1916.5,681.1 1916.6,681.1 1916.7,681.2 1916.8,681.2 1917.2,681.5 1917.6,681.7 1917.9,681.8 1918.1,681.9 1918.5,682.2 1918.9,682.4 1919.2,682.5 1919.4,682.6 1919.8,682.8 1920.2,683.0 1920.5,683.2 1920.6,683.2 1921.1,683.5 1921.5,683.7 1921.9,683.9 1921.9,684.0 1922.3,684.2 1922.8,684.4 1923.2,684.7 1923.6,685.0 1924.1,685.2 1924.5,685.5 1924.5,685.5 1924.9,685.7 1925.3,686.0 1925.8,686.2 1925.9,686.3 1926.2,686.5 1926.6,686.7 1927.0,687.0 1927.2,687.0 1927.5,687.2 1927.9,687.4 1928.3,687.7 1928.5,687.8 1928.8,687.9 1929.2,688.1 1929.6,688.3 1929.9,688.4 1930.0,688.5 1930.5,688.7 1930.9,688.9 1931.2,689.1 1931.3,689.1 1931.7,689.3 1932.2,689.5 1932.5,689.7 1932.6,689.7 1933.0,689.9 1933.4,690.1 1933.9,690.3 1934.3,690.5 1934.7,690.7 1935.2,690.9 1935.2,690.9 1935.6,691.0 1936.0,691.2 1936.5,691.4 1937.9,692.0 1939.2,692.5 1940.5,693.0 1941.9,693.5 1943.2,693.9 1944.5,694.4 1945.9,694.8 1947.2,695.2 1948.6,695.6 1949.9,695.9 1951.2,696.3 1952.6,696.7 1953.9,697.0 1955.2,697.3 1956.6,697.6 1957.9,697.9 1959.2,698.2 1960.6,698.5 1961.9,698.8 1963.2,699.0 1964.6,699.3 1965.9,699.5 1967.2,699.8 1968.6,700.0 1969.9,700.2 1971.2,700.4 1972.6,700.7 1973.9,700.9 1975.2,701.1 1976.6,701.3 1977.9,701.5 1979.2,701.7 1980.6,701.9 1981.9,702.0 1983.2,702.2 1984.6,702.4 1985.9,702.6 1987.2,702.7 1988.6,702.9 1989.9,703.1 1991.3,703.2 1992.6,703.4 1993.9,703.5 1995.3,703.7 1996.6,703.8 1997.9,703.9 1999.3,704.1 2000.6,704.2 2001.9,704.3 2003.3,704.4 2004.6,704.5 2005.9,704.6 2007.3,704.7 2008.6,704.8 2009.9,704.9 2011.3,705.0 2012.6,705.1 2013.9,705.2 2015.3,705.2 2016.6,705.3 2017.9,705.4 2019.3,705.5 2020.6,705.5 2021.9,705.6 2023.3,705.7 2024.6,705.7 2025.9,705.8 2027.3,705.9 2028.6,705.9 2030.0,706.0 2031.3,706.0 2032.6,706.1 2034.0,706.2 2035.3,706.2 2036.6,706.3 2038.0,706.3 2039.3,706.4 2040.6,706.4 2042.0,706.5 2043.3,706.5 2044.6,706.6 2046.0,706.6 2047.3,706.6 2048.6,706.7 2050.0,706.7 2051.3,706.8 2052.6,706.8 2054.0,706.8 2055.3,706.9 2056.6,706.9 2058.0,707.0 2059.3,707.0 2060.6,707.0 2062.0,707.1 2063.3,707.1 2064.6,707.1 2066.0,707.2 2067.3,707.2 2068.6,707.2 2070.0,707.3 2071.3,707.3 2072.7,707.3 2074.0,707.4 2075.3,707.4 2076.7,707.4 2078.0,707.4 2079.3,707.5 2080.7,707.5 2082.0,707.5 2083.3,707.5 2084.7,707.6 2086.0,707.6 2087.3,707.6 2088.7,707.6 2090.0,707.7 2091.3,707.7 2092.7,707.7 2094.0,707.7" stroke="#222222" stroke-width="1.1"/>
<polyline points="1667.0,706.5 1668.3,706.4 1669.7,706.4 1671.0,706.4 1672.3,706.3 1673.7,706.3 1675.0,706.3 1676.3,706.2 1677.7,706.2 1679.0,706.2 1680.3,706.1 1681.7,706.1 1683.0,706.1 1684.3,706.0 1685.7,706.0 1687.0,705.9 1688.3,705.9 1689.7,705.9 1691.0,705.8 1692.4,705.8 1693.7,705.7 1695.0,705.7 1696.4,705.6 1697.7,705.6 1699.0,705.5 1700.4,705.5 1701.7,705.4 1703.0,705.4 1704.4,705.3 1705.7,705.3 1707.0,705.2 1708.4,705.2 1709.7,705.1 1711.0,705.1 1712.4,705.0 1713.7,704.9 1715.0,704.9 1716.4,704.8 1717.7,704.8 1719.0,704.7 1720.4,704.6 1721.7,704.6 1723.0,704.5 1724.4,704.4 1725.7,704.3 1727.0,704.3 1728.4,704.2 1729.7,704.1 1731.0,704.0 1732.4,704.0 1733.7,703.9 1735.1,703.8 1736.4,703.7 1737.7,703.6 1739.1,703.5 1740.4,703.4 1741.7,703.3 1743.1,703.2 1744.4,703.1 1745.7,703.0 1747.1,702.9 1748.4,702.8 1749.7,702.7 1751.1,702.6 1752.4,702.4 1753.7,702.3 1755.1,702.2 1756.4,702.1 1757.7,701.9 1759.1,701.8 1760.4,701.6 1761.7,701.5 1763.1,701.3 1764.4,701.2 1765.7,701.0 1767.1,700.8 1768.4,700.7 1769.7,700.5 1771.1,700.3 1772.4,700.1 1773.8,699.9 1775.1,699.7 1776.4,699.4 1777.8,699.2 1779.1,699.0 1780.4,698.7 1781.8,698.4 1783.1,698.1 1784.4,697.8 1785.8,697.5 1787.1,697.2 1788.4,696.9 1789.8,696.5 1791.1,696.2 1792.4,695.8 1793.8,695.4 1795.1,695.0 1796.4,694.6 1797.8,694.2 1799.1,693.7 1800.4,693.3 1801.8,692.9 1803.1,692.5 1804.4,692.0 1805.8,691.6 1807.1,691.1 1808.4,690.5 1809.8,689.9 1811.1,689.2 1812.4,688.5 1813.8,687.7 1815.1,687.0 1816.5,686.3 1817.8,685.5 1819.1,684.8 1820.5,684.0 1821.8,683.2 1823.1,682.4 1824.5,681.5 1825.0,681.1 1825.4,680.8 1825.8,680.6 1825.8,680.5 1826.3,680.2 1826.7,679.9 1827.1,679.6 1827.6,679.3 1828.0,679.0 1828.4,678.7 1828.5,678.7 1828.8,678.4 1829.3,678.1 1829.7,677.8 1829.8,677.7 1830.1,677.4 1830.5,677.1 1831.0,676.8 1831.1,676.7 1831.4,676.5 1831.8,676.2 1832.2,675.8 1832.5,675.7 1832.7,675.5 1833.1,675.2 1833.5,674.8 1833.8,674.6 1834.0,674.5 1834.4,674.1 1834.8,673.8 1835.1,673.5 1835.2,673.4 1835.7,673.0 1836.1,672.7 1836.5,672.3 1836.5,672.3 1836.9,671.9 1837.4,671.6 1837.8,671.2 1838.2,670.8 1838.7,670.4 1839.1,670.0 1839.1,670.0 1839.5,669.7 1839.9,669.3 1840.4,668.9 1840.5,668.8 1840.8,668.5 1841.2,668.2 1841.6,667.8 1841.8,667.7 1842.1,667.4 1842.5,667.1 1842.9,666.7 1843.1,666.5 1843.4,666.3 1843.8,666.0 1844.2,665.6 1844.3,665.5 1844.4,665.4 1844.5,665.3 1844.5,665.3 1844.5,665.3 1844.6,665.2 1844.7,665.1 1844.8,665.0 1844.9,664.9 1845.0,664.9 1845.1,664.8 1845.1,664.7 1845.2,664.6 1845.3,664.5 1845.4,664.4 1845.5,664.4 1845.6,664.3 1845.7,664.2 1845.7,664.1 1845.8,664.0 1845.8,664.0 1845.9,663.9 1846.0,663.8 1846.1,663.8 1846.2,663.7 1846.3,663.6 1846.3,663.5 1846.4,663.4 1846.5,663.3 1846.6,663.2 1846.7,663.1 1846.8,663.0 1846.9,663.0 1846.9,662.9 1847.0,662.8 1847.1,662.7 1847.1,662.7 1847.2,662.6 1847.3,662.5 1847.4,662.4 1847.5,662.3 1847.5,662.2 1847.6,662.1 1847.7,662.0 1847.8,661.9 1847.9,661.9 1848.0,661.8 1848.0,661.7 1848.1,661.6 1848.2,661.5 1848.3,661.4 1848.4,661.3 1848.5,661.2 1848.9,660.7 1849.3,660.2 1849.8,659.8 1849.8,659.7 1850.2,659.3 1850.6,658.8 1851.0,658.3 1851.1,658.2 1851.5,657.9 1851.9,657.4 1852.3,657.0 1852.5,656.8 1852.7,656.5 1853.2,656.1 1853.6,655.7 1853.8,655.5 1854.0,655.3 1854.5,654.9 1854.9,654.6 1855.1,654.4 1855.3,654.3 1855.7,654.0 1856.2,653.7 1856.5,653.6 1856.6,653.5 1857.0,653.3 1857.4,653.2 1857.8,653.1 1857.9,653.1 1858.3,653.1 1858.7,653.1 1859.2,653.1 1859.6,653.1 1860.0,653.2 1860.4,653.2 1860.5,653.2 1860.9,653.3 1861.3,653.3 1861.7,653.4 1861.8,653.4 1862.1,653.5 1862.6,653.5 1863.0,653.6 1863.2,653.7 1863.4,653.7 1863.8,653.8 1864.3,653.9 1864.5,654.0 1864.7,654.0 1865.1,654.2 1865.6,654.3 1865.8,654.4 1866.0,654.4 1866.4,654.6 1866.8,654.7 1867.2,654.8 1867.3,654.9 1867.7,655.0 1868.5,655.3 1869.8,655.8 1871.2,656.3 1872.5,656.8 1873.8,657.3 1875.2,657.7 1876.5,658.1 1877.8,658.4 1879.2,658.6 1880.5,658.6 1881.8,658.6 1883.2,658.4 1884.5,658.1 1885.8,657.7 1887.2,657.3 1888.5,656.8 1889.8,656.3 1891.2,655.8 1892.5,655.3 1893.3,655.0 1893.7,654.9 1893.8,654.8 1894.2,654.7 1894.6,654.6 1895.0,654.4 1895.2,654.4 1895.4,654.3 1895.9,654.2 1896.3,654.0 1896.5,654.0 1896.7,653.9 1897.2,653.8 1897.6,653.7 1897.8,653.7 1898.0,653.6 1898.4,653.5 1898.9,653.5 1899.2,653.4 1899.3,653.4 1899.7,653.3 1900.1,653.3 1900.5,653.2 1900.6,653.2 1901.0,653.2 1901.4,653.1 1901.8,653.1 1902.3,653.1 1902.7,653.1 1903.1,653.1 1903.2,653.1 1903.6,653.2 1904.0,653.3 1904.4,653.5 1904.5,653.6 1904.8,653.7 1905.3,654.0 1905.7,654.3 1905.9,654.4 1906.1,654.6 1906.5,654.9 1907.0,655.3 1907.2,655.5 1907.4,655.7 1907.8,656.1 1908.3,656.5 1908.5,656.8 1908.7,657.0 1909.1,657.4 1909.5,657.9 1909.9,658.2 1910.0,658.3 1910.4,658.8 1910.8,659.3 1911.2,659.7 1911.2,659.8 1911.7,660.2 1912.1,660.7 1912.5,661.2 1912.6,661.3 1912.7,661.4 1912.8,661.5 1912.9,661.6 1913.0,661.7 1913.0,661.8 1913.1,661.9 1913.2,661.9 1913.3,662.0 1913.4,662.1 1913.5,662.2 1913.5,662.3 1913.6,662.4 1913.7,662.5 1913.8,662.6 1913.9,662.7 1913.9,662.7 1914.0,662.8 1914.1,662.9 1914.1,663.0 1914.2,663.0 1914.3,663.1 1914.4,663.2 1914.5,663.3 1914.6,663.4 1914.7,663.5 1914.7,663.6 1914.8,663.7 1914.9,663.8 1915.0,663.8 1915.1,663.9 1915.2,664.0 1915.2,664.0 1915.3,664.1 1915.3,664.2 1915.4,664.3 1915.5,664.4 1915.6,664.4 1915.7,664.5 1915.8,664.6 1915.9,664.7 1915.9,664.8 1916.0,664.9 1916.1,664.9 1916.2,665.0 1916.3,665.1 1916.4,665.2 1916.5,665.3 1916.5,665.3 1916.5,665.3 1916.6,665.4 1916.7,665.5 1916.8,665.6 1917.2,666.0 1917.6,666.3 1917.9,666.5 1918.1,666.7 1918.5,667.1 1918.9,667.4 1919.2,667.7 1919.4,667.8 1919.8,668.2 1920.2,668.5 1920.5,668.8 1920.6,668.9 1921.1,669.3 1921.5,669.7 1921.9,670.0 1921.9,670.0 1922.3,670.4 1922.8,670.8 1923.2,671.2 1923.6,671.6 1924.1,671.9 1924.5,672.3 1924.5,672.3 1924.9,672.7 1925.3,673.0 1925.8,673.4 1925.9,673.5 1926.2,673.8 1926.6,674.1 1927.0,674.5 1927.2,674.6 1927.5,674.8 1927.9,675.2 1928.3,675.5 1928.5,675.7 1928.8,675.8 1929.2,676.2 1929.6,676.5 1929.9,676.7 1930.0,676.8 1930.5,677.1 1930.9,677.4 1931.2,677.7 1931.3,677.8 1931.7,678.1 1932.2,678.4 1932.5,678.7 1932.6,678.7 1933.0,679.0 1933.4,679.3 1933.9,679.6 1934.3,679.9 1934.7,680.2 1935.2,680.5 1935.2,680.6 1935.6,680.8 1936.0,681.1 1936.5,681.5 1937.9,682.4 1939.2,683.2 1940.5,684.0 1941.9,684.8 1943.2,685.5 1944.5,686.3 1945.9,687.0 1947.2,687.7 1948.6,688.5 1949.9,689.2 1951.2,689.9 1952.6,690.5 1953.9,691.1 1955.2,691.6 1956.6,692.0 1957.9,692.5 1959.2,692.9 1960.6,693.3 1961.9,693.7 1963.2,694.2 1964.6,694.6 1965.9,695.0 1967.2,695.4 1968.6,695.8 1969.9,696.2 1971.2,696.5 1972.6,696.9 1973.9,697.2 1975.2,697.5 1976.6,697.8 1977.9,698.1 1979.2,698.4 1980.6,698.7 1981.9,699.0 1983.2,699.2 1984.6,699.4 1985.9,699.7 1987.2,699.9 1988.6,700.1 1989.9,700.3 1991.3,700.5 1992.6,700.7 1993.9,700.8 1995.3,701.0 1996.6,701.2 1997.9,701.3 1999.3,701.5 2000.6,701.6 2001.9,701.8 2003.3,701.9 2004.6,702.1 2005.9,702.2 2007.3,702.3 2008.6,702.4 2009.9,702.6 2011.3,702.7 2012.6,702.8 2013.9,702.9 2015.3,703.0 2016.6,703.1 2017.9,703.2 2019.3,703.3 2020.6,703.4 2021.9,703.5 2023.3,703.6 2024.6,703.7 2025.9,703.8 2027.3,703.9 2028.6,704.0 2030.0,704.0 2031.3,704.1 2032.6,704.2 2034.0,704.3 2035.3,704.3 2036.6,704.4 2038.0,704.5 2039.3,704.6 2040.6,704.6 2042.0,704.7 2043.3,704.8 2044.6,704.8 2046.0,704.9 2047.3,704.9 2048.6,705.0 2050.0,705.1 2051.3,705.1 2052.6,705.2 2054.0,705.2 2055.3,705.3 2056.6,705.3 2058.0,705.4 2059.3,705.4 2060.6,705.5 2062.0,705.5 2063.3,705.6 2064.6,705.6 2066.0,705.7 2067.3,705.7 2068.6,705.8 2070.0,705.8 2071.3,705.9 2072.7,705.9 2074.0,705.9 2075.3,706.0 2076.7,706.0 2078.0,706.1 2079.3,706.1 2080.7,706.1 2082.0,706.2 2083.3,706.2 2084.7,706.2 2086.0,706.3 2087.3,706.3 2088.7,706.3 2090.0,706.4 2091.3,706.4 2092.7,706.4 2094.0,706.5" stroke="#222222" stroke-width="1.1"/>
<polyline points="1667.0,705.0 1668.3,704.9 1669.7,704.9 1671.0,704.8 1672.3,704.8 1673.7,704.8 1675.0,704.7 1676.3,704.7 1677.7,704.6 1679.0,704.6 1680.3,704.5 1681.7,704.5 1683.0,704.5 1684.3,704.4 1685.7,704.4 1687.0,704.3 1688.3,704.2 1689.7,704.2 1691.0,704.1 1692.4,704.1 1693.7,704.0 1695.0,704.0 1696.4,703.9 1697.7,703.9 1699.0,703.8 1700.4,703.7 1701.7,703.7 1703.0,703.6 1704.4,703.5 1705.7,703.5 1707.0,703.4 1708.4,703.3 1709.7,703.2 1711.0,703.2 1712.4,703.1 1713.7,703.0 1715.0,702.9 1716.4,702.8 1717.7,702.8 1719.0,702.7 1720.4,702.6 1721.7,702.5 1723.0,702.4 1724.4,702.3 1725.7,702.2 1727.0,702.1 1728.4,702.0 1729.7,701.9 1731.0,701.7 1732.4,701.6 1733.7,701.5 1735.1,701.4 1736.4,701.3 1737.7,701.1 1739.1,701.0 1740.4,700.8 1741.7,700.7 1743.1,700.5 1744.4,700.4 1745.7,700.2 1747.1,700.1 1748.4,699.9 1749.7,699.8 1751.1,699.6 1752.4,699.4 1753.7,699.3 1755.1,699.1 1756.4,698.9 1757.7,698.7 1759.1,698.5 1760.4,698.3 1761.7,698.1 1763.1,697.9 1764.4,697.7 1765.7,697.5 1767.1,697.3 1768.4,697.1 1769.7,696.8 1771.1,696.6 1772.4,696.3 1773.8,696.1 1775.1,695.8 1776.4,695.5 1777.8,695.2 1779.1,694.9 1780.4,694.5 1781.8,694.2 1783.1,693.8 1784.4,693.5 1785.8,693.1 1787.1,692.7 1788.4,692.3 1789.8,692.0 1791.1,691.6 1792.4,691.1 1793.8,690.6 1795.1,690.1 1796.4,689.6 1797.8,689.0 1799.1,688.5 1800.4,687.8 1801.8,687.2 1803.1,686.5 1804.4,685.8 1805.8,685.0 1807.1,684.2 1808.4,683.3 1809.8,682.5 1811.1,681.5 1812.4,680.6 1813.8,679.6 1815.1,678.5 1816.5,677.4 1817.8,676.2 1819.1,674.9 1820.5,673.6 1821.8,672.3 1823.1,670.8 1824.5,669.3 1825.0,668.7 1825.4,668.2 1825.8,667.7 1825.8,667.6 1826.3,667.1 1826.7,666.6 1827.1,666.0 1827.6,665.5 1828.0,664.9 1828.4,664.4 1828.5,664.3 1828.8,663.8 1829.3,663.2 1829.7,662.6 1829.8,662.4 1830.1,662.0 1830.5,661.4 1831.0,660.7 1831.1,660.5 1831.4,660.1 1831.8,659.4 1832.2,658.7 1832.5,658.4 1832.7,658.0 1833.1,657.3 1833.5,656.6 1833.8,656.2 1834.0,655.9 1834.4,655.2 1834.8,654.4 1835.1,653.8 1835.2,653.7 1835.7,652.9 1836.1,652.1 1836.5,651.5 1836.5,651.4 1836.9,650.6 1837.4,649.8 1837.8,649.0 1838.2,648.2 1838.7,647.3 1839.1,646.5 1839.1,646.4 1839.5,645.6 1839.9,644.7 1840.4,643.8 1840.5,643.6 1840.8,643.0 1841.2,642.1 1841.6,641.2 1841.8,640.9 1842.1,640.4 1842.5,639.5 1842.9,638.7 1843.1,638.3 1843.4,637.9 1843.8,637.2 1844.2,636.4 1844.3,636.3 1844.4,636.1 1844.5,636.0 1844.5,636.0 1844.5,635.8 1844.6,635.7 1844.7,635.5 1844.8,635.3 1844.9,635.2 1845.0,635.0 1845.1,634.8 1845.1,634.7 1845.2,634.5 1845.3,634.4 1845.4,634.2 1845.5,634.0 1845.6,633.9 1845.7,633.7 1845.7,633.5 1845.8,633.4 1845.8,633.3 1845.9,633.2 1846.0,633.0 1846.1,632.8 1846.2,632.7 1846.3,632.5 1846.3,632.3 1846.4,632.1 1846.5,632.0 1846.6,631.8 1846.7,631.6 1846.8,631.5 1846.9,631.3 1846.9,631.1 1847.0,630.9 1847.1,630.8 1847.1,630.7 1847.2,630.6 1847.3,630.4 1847.4,630.3 1847.5,630.1 1847.5,629.9 1847.6,629.8 1847.7,629.6 1847.8,629.4 1847.9,629.3 1848.0,629.1 1848.0,628.9 1848.1,628.8 1848.2,628.6 1848.3,628.5 1848.4,628.3 1848.5,628.1 1848.9,627.4 1849.3,626.7 1849.8,626.0 1849.8,625.9 1850.2,625.4 1850.6,624.9 1851.0,624.5 1851.1,624.4 1851.5,624.2 1851.9,624.0 1852.3,623.9 1852.5,623.9 1852.7,623.9 1853.2,624.0 1853.6,624.1 1853.8,624.1 1854.0,624.2 1854.5,624.3 1854.9,624.5 1855.1,624.7 1855.3,624.8 1855.7,625.0 1856.2,625.3 1856.5,625.5 1856.6,625.6 1857.0,625.9 1857.4,626.2 1857.8,626.5 1857.9,626.6 1858.3,626.9 1858.7,627.3 1859.2,627.7 1859.6,628.1 1860.0,628.5 1860.4,628.9 1860.5,629.0 1860.9,629.3 1861.3,629.7 1861.7,630.1 1861.8,630.2 1862.1,630.5 1862.6,630.9 1863.0,631.3 1863.2,631.4 1863.4,631.6 1863.8,631.9 1864.3,632.2 1864.5,632.3 1864.7,632.5 1865.1,632.7 1865.6,633.0 1865.8,633.1 1866.0,633.2 1866.4,633.5 1866.8,633.7 1867.2,633.9 1867.3,634.0 1867.7,634.3 1868.5,634.8 1869.8,635.6 1871.2,636.5 1872.5,637.3 1873.8,638.0 1875.2,638.7 1876.5,639.2 1877.8,639.6 1879.2,639.9 1880.5,640.0 1881.8,639.9 1883.2,639.6 1884.5,639.2 1885.8,638.7 1887.2,638.0 1888.5,637.3 1889.8,636.5 1891.2,635.6 1892.5,634.8 1893.3,634.3 1893.7,634.0 1893.8,633.9 1894.2,633.7 1894.6,633.5 1895.0,633.2 1895.2,633.1 1895.4,633.0 1895.9,632.7 1896.3,632.5 1896.5,632.3 1896.7,632.2 1897.2,631.9 1897.6,631.6 1897.8,631.4 1898.0,631.3 1898.4,630.9 1898.9,630.5 1899.2,630.2 1899.3,630.1 1899.7,629.7 1900.1,629.3 1900.5,629.0 1900.6,628.9 1901.0,628.5 1901.4,628.1 1901.8,627.7 1902.3,627.3 1902.7,626.9 1903.1,626.6 1903.2,626.5 1903.6,626.2 1904.0,625.9 1904.4,625.6 1904.5,625.5 1904.8,625.3 1905.3,625.0 1905.7,624.8 1905.9,624.7 1906.1,624.5 1906.5,624.3 1907.0,624.2 1907.2,624.1 1907.4,624.1 1907.8,624.0 1908.3,623.9 1908.5,623.9 1908.7,623.9 1909.1,624.0 1909.5,624.2 1909.9,624.4 1910.0,624.5 1910.4,624.9 1910.8,625.4 1911.2,625.9 1911.2,626.0 1911.7,626.7 1912.1,627.4 1912.5,628.1 1912.6,628.3 1912.7,628.5 1912.8,628.6 1912.9,628.8 1913.0,628.9 1913.0,629.1 1913.1,629.3 1913.2,629.4 1913.3,629.6 1913.4,629.8 1913.5,629.9 1913.5,630.1 1913.6,630.3 1913.7,630.4 1913.8,630.6 1913.9,630.7 1913.9,630.8 1914.0,630.9 1914.1,631.1 1914.1,631.3 1914.2,631.5 1914.3,631.6 1914.4,631.8 1914.5,632.0 1914.6,632.1 1914.7,632.3 1914.7,632.5 1914.8,632.7 1914.9,632.8 1915.0,633.0 1915.1,633.2 1915.2,633.3 1915.2,633.4 1915.3,633.5 1915.3,633.7 1915.4,633.9 1915.5,634.0 1915.6,634.2 1915.7,634.4 1915.8,634.5 1915.9,634.7 1915.9,634.8 1916.0,635.0 1916.1,635.2 1916.2,635.3 1916.3,635.5 1916.4,635.7 1916.5,635.8 1916.5,636.0 1916.5,636.0 1916.6,636.1 1916.7,636.3 1916.8,636.4 1917.2,637.2 1917.6,637.9 1917.9,638.3 1918.1,638.7 1918.5,639.5 1918.9,640.4 1919.2,640.9 1919.4,641.2 1919.8,642.1 1920.2,643.0 1920.5,643.6 1920.6,643.8 1921.1,644.7 1921.5,645.6 1921.9,646.4 1921.9,646.5 1922.3,647.3 1922.8,648.2 1923.2,649.0 1923.6,649.8 1924.1,650.6 1924.5,651.4 1924.5,651.5 1924.9,652.1 1925.3,652.9 1925.8,653.7 1925.9,653.8 1926.2,654.4 1926.6,655.2 1927.0,655.9 1927.2,656.2 1927.5,656.6 1927.9,657.3 1928.3,658.0 1928.5,658.4 1928.8,658.7 1929.2,659.4 1929.6,660.1 1929.9,660.5 1930.0,660.7 1930.5,661.4 1930.9,662.0 1931.2,662.4 1931.3,662.6 1931.7,663.2 1932.2,663.8 1932.5,664.3 1932.6,664.4 1933.0,664.9 1933.4,665.5 1933.9,666.0 1934.3,666.6 1934.7,667.1 1935.2,667.6 1935.2,667.7 1935.6,668.2 1936.0,668.7 1936.5,669.3 1937.9,670.8 1939.2,672.3 1940.5,673.6 1941.9,674.9 1943.2,676.2 1944.5,677.4 1945.9,678.5 1947.2,679.6 1948.6,680.6 1949.9,681.5 1951.2,682.5 1952.6,683.3 1953.9,684.2 1955.2,685.0 1956.6,685.8 1957.9,686.5 1959.2,687.2 1960.6,687.8 1961.9,688.5 1963.2,689.0 1964.6,689.6 1965.9,690.1 1967.2,690.6 1968.6,691.1 1969.9,691.6 1971.2,692.0 1972.6,692.3 1973.9,692.7 1975.2,693.1 1976.6,693.5 1977.9,693.8 1979.2,694.2 1980.6,694.5 1981.9,694.9 1983.2,695.2 1984.6,695.5 1985.9,695.8 1987.2,696.1 1988.6,696.3 1989.9,696.6 1991.3,696.8 1992.6,697.1 1993.9,697.3 1995.3,697.5 1996.6,697.7 1997.9,697.9 1999.3,698.1 2000.6,698.3 2001.9,698.5 2003.3,698.7 2004.6,698.9 2005.9,699.1 2007.3,699.3 2008.6,699.4 2009.9,699.6 2011.3,699.8 2012.6,699.9 2013.9,700.1 2015.3,700.2 2016.6,700.4 2017.9,700.5 2019.3,700.7 2020.6,700.8 2021.9,701.0 2023.3,701.1 2024.6,701.3 2025.9,701.4 2027.3,701.5 2028.6,701.6 2030.0,701.7 2031.3,701.9 2032.6,702.0 2034.0,702.1 2035.3,702.2 2036.6,702.3 2038.0,702.4 2039.3,702.5 2040.6,702.6 2042.0,702.7 2043.3,702.8 2044.6,702.8 2046.0,702.9 2047.3,703.0 2048.6,703.1 2050.0,703.2 2051.3,703.2 2052.6,703.3 2054.0,703.4 2055.3,703.5 2056.6,703.5 2058.0,703.6 2059.3,703.7 2060.6,703.7 2062.0,703.8 2063.3,703.9 2064.6,703.9 2066.0,704.0 2067.3,704.0 2068.6,704.1 2070.0,704.1 2071.3,704.2 2072.7,704.2 2074.0,704.3 2075.3,704.4 2076.7,704.4 2078.0,704.5 2079.3,704.5 2080.7,704.5 2082.0,704.6 2083.3,704.6 2084.7,704.7 2086.0,704.7 2087.3,704.8 2088.7,704.8 2090.0,704.8 2091.3,704.9 2092.7,704.9 2094.0,705.0" stroke="#222222" stroke-width="1.1"/>
<polyline points="1667.0,703.5 1668.3,703.4 1669.7,703.4 1671.0,703.3 1672.3,703.3 1673.7,703.2 1675.0,703.2 1676.3,703.1 1677.7,703.1 1679.0,703.0 1680.3,702.9 1681.7,702.9 1683.0,702.8 1684.3,702.8 1685.7,702.7 1687.0,702.6 1688.3,702.6 1689.7,702.5 1691.0,702.4 1692.4,702.4 1693.7,702.3 1695.0,702.2 1696.4,702.2 1697.7,702.1 1699.0,702.0 1700.4,701.9 1701.7,701.9 1703.0,701.8 1704.4,701.7 1705.7,701.6 1707.0,701.5 1708.4,701.4 1709.7,701.3 1711.0,701.3 1712.4,701.2 1713.7,701.1 1715.0,701.0 1716.4,700.9 1717.7,700.8 1719.0,700.7 1720.4,700.5 1721.7,700.4 1723.0,700.3 1724.4,700.2 1725.7,700.1 1727.0,699.9 1728.4,699.8 1729.7,699.7 1731.0,699.5 1732.4,699.4 1733.7,699.3 1735.1,699.1 1736.4,698.9 1737.7,698.8 1739.1,698.6 1740.4,698.4 1741.7,698.3 1743.1,698.1 1744.4,697.9 1745.7,697.7 1747.1,697.5 1748.4,697.3 1749.7,697.1 1751.1,696.9 1752.4,696.7 1753.7,696.5 1755.1,696.3 1756.4,696.0 1757.7,695.8 1759.1,695.5 1760.4,695.3 1761.7,695.0 1763.1,694.7 1764.4,694.4 1765.7,694.1 1767.1,693.9 1768.4,693.6 1769.7,693.2 1771.1,692.9 1772.4,692.6 1773.8,692.3 1775.1,692.0 1776.4,691.6 1777.8,691.3 1779.1,691.0 1780.4,690.7 1781.8,690.3 1783.1,690.0 1784.4,689.6 1785.8,689.2 1787.1,688.7 1788.4,688.3 1789.8,687.8 1791.1,687.3 1792.4,686.7 1793.8,686.1 1795.1,685.5 1796.4,684.9 1797.8,684.2 1799.1,683.5 1800.4,682.7 1801.8,681.9 1803.1,681.0 1804.4,680.2 1805.8,679.2 1807.1,678.2 1808.4,677.2 1809.8,676.1 1811.1,674.9 1812.4,673.7 1813.8,672.4 1815.1,671.0 1816.5,669.6 1817.8,668.0 1819.1,666.3 1820.5,664.6 1821.8,662.7 1823.1,660.8 1824.5,658.7 1825.0,657.9 1825.4,657.2 1825.8,656.6 1825.8,656.5 1826.3,655.7 1826.7,655.0 1827.1,654.3 1827.6,653.5 1828.0,652.7 1828.4,651.9 1828.5,651.8 1828.8,651.1 1829.3,650.3 1829.7,649.4 1829.8,649.2 1830.1,648.5 1830.5,647.6 1831.0,646.7 1831.1,646.3 1831.4,645.7 1831.8,644.7 1832.2,643.6 1832.5,643.1 1832.7,642.6 1833.1,641.5 1833.5,640.3 1833.8,639.6 1834.0,639.2 1834.4,638.0 1834.8,636.8 1835.1,635.8 1835.2,635.5 1835.7,634.2 1836.1,632.9 1836.5,631.7 1836.5,631.5 1836.9,630.2 1837.4,628.7 1837.8,627.3 1838.2,625.9 1838.7,624.4 1839.1,622.9 1839.1,622.7 1839.5,621.4 1839.9,619.8 1840.4,618.1 1840.5,617.7 1840.8,616.4 1841.2,614.7 1841.6,612.9 1841.8,612.3 1842.1,611.2 1842.5,609.5 1842.9,607.8 1843.1,607.0 1843.4,606.2 1843.8,604.7 1844.2,603.1 1844.3,602.7 1844.4,602.4 1844.5,602.0 1844.5,602.0 1844.5,601.7 1844.6,601.3 1844.7,601.0 1844.8,600.6 1844.9,600.3 1845.0,599.9 1845.1,599.6 1845.1,599.2 1845.2,598.9 1845.3,598.5 1845.4,598.2 1845.5,597.8 1845.6,597.4 1845.7,597.1 1845.7,596.7 1845.8,596.5 1845.8,596.4 1845.9,596.1 1846.0,595.7 1846.1,595.4 1846.2,595.0 1846.3,594.7 1846.3,594.4 1846.4,594.1 1846.5,593.8 1846.6,593.5 1846.7,593.2 1846.8,592.9 1846.9,592.6 1846.9,592.3 1847.0,592.1 1847.1,591.8 1847.1,591.7 1847.2,591.6 1847.3,591.4 1847.4,591.1 1847.5,590.9 1847.5,590.7 1847.6,590.6 1847.7,590.4 1847.8,590.3 1847.9,590.1 1848.0,590.0 1848.0,589.9 1848.1,589.8 1848.2,589.8 1848.3,589.7 1848.4,589.7 1848.5,589.7 1848.9,589.7 1849.3,589.9 1849.8,590.1 1849.8,590.1 1850.2,590.4 1850.6,590.8 1851.0,591.3 1851.1,591.4 1851.5,591.8 1851.9,592.4 1852.3,593.0 1852.5,593.3 1852.7,593.7 1853.2,594.4 1853.6,595.2 1853.8,595.5 1854.0,595.9 1854.5,596.7 1854.9,597.4 1855.1,597.9 1855.3,598.2 1855.7,598.9 1856.2,599.6 1856.5,600.1 1856.6,600.2 1857.0,600.9 1857.4,601.6 1857.8,602.2 1857.9,602.3 1858.3,603.0 1858.7,603.7 1859.2,604.5 1859.6,605.3 1860.0,606.1 1860.4,606.9 1860.5,607.0 1860.9,607.6 1861.3,608.4 1861.7,609.2 1861.8,609.3 1862.1,609.9 1862.6,610.6 1863.0,611.2 1863.2,611.5 1863.4,611.8 1863.8,612.4 1864.3,612.9 1864.5,613.1 1864.7,613.3 1865.1,613.7 1865.6,614.1 1865.8,614.4 1866.0,614.5 1866.4,614.9 1866.8,615.3 1867.2,615.6 1867.3,615.7 1867.7,616.1 1868.5,616.8 1869.8,618.0 1871.2,619.1 1872.5,620.1 1873.8,621.0 1875.2,621.8 1876.5,622.5 1877.8,623.0 1879.2,623.3 1880.5,623.4 1881.8,623.3 1883.2,623.0 1884.5,622.5 1885.8,621.8 1887.2,621.0 1888.5,620.1 1889.8,619.1 1891.2,618.0 1892.5,616.8 1893.3,616.1 1893.7,615.7 1893.8,615.6 1894.2,615.3 1894.6,614.9 1895.0,614.5 1895.2,614.4 1895.4,614.1 1895.9,613.7 1896.3,613.3 1896.5,613.1 1896.7,612.9 1897.2,612.4 1897.6,611.8 1897.8,611.5 1898.0,611.2 1898.4,610.6 1898.9,609.9 1899.2,609.3 1899.3,609.2 1899.7,608.4 1900.1,607.6 1900.5,607.0 1900.6,606.9 1901.0,606.1 1901.4,605.3 1901.8,604.5 1902.3,603.7 1902.7,603.0 1903.1,602.3 1903.2,602.2 1903.6,601.6 1904.0,600.9 1904.4,600.2 1904.5,600.1 1904.8,599.6 1905.3,598.9 1905.7,598.2 1905.9,597.9 1906.1,597.4 1906.5,596.7 1907.0,595.9 1907.2,595.5 1907.4,595.2 1907.8,594.4 1908.3,593.7 1908.5,593.3 1908.7,593.0 1909.1,592.4 1909.5,591.8 1909.9,591.4 1910.0,591.3 1910.4,590.8 1910.8,590.4 1911.2,590.1 1911.2,590.1 1911.7,589.9 1912.1,589.7 1912.5,589.7 1912.6,589.7 1912.7,589.7 1912.8,589.8 1912.9,589.8 1913.0,589.9 1913.0,590.0 1913.1,590.1 1913.2,590.3 1913.3,590.4 1913.4,590.6 1913.5,590.7 1913.5,590.9 1913.6,591.1 1913.7,591.4 1913.8,591.6 1913.9,591.7 1913.9,591.8 1914.0,592.1 1914.1,592.3 1914.1,592.6 1914.2,592.9 1914.3,593.2 1914.4,593.5 1914.5,593.8 1914.6,594.1 1914.7,594.4 1914.7,594.7 1914.8,595.0 1914.9,595.4 1915.0,595.7 1915.1,596.1 1915.2,596.4 1915.2,596.5 1915.3,596.7 1915.3,597.1 1915.4,597.4 1915.5,597.8 1915.6,598.2 1915.7,598.5 1915.8,598.9 1915.9,599.2 1915.9,599.6 1916.0,599.9 1916.1,600.3 1916.2,600.6 1916.3,601.0 1916.4,601.3 1916.5,601.7 1916.5,602.0 1916.5,602.0 1916.6,602.4 1916.7,602.7 1916.8,603.1 1917.2,604.7 1917.6,606.2 1917.9,607.0 1918.1,607.8 1918.5,609.5 1918.9,611.2 1919.2,612.3 1919.4,612.9 1919.8,614.7 1920.2,616.4 1920.5,617.7 1920.6,618.1 1921.1,619.8 1921.5,621.4 1921.9,622.7 1921.9,622.9 1922.3,624.4 1922.8,625.9 1923.2,627.3 1923.6,628.7 1924.1,630.2 1924.5,631.5 1924.5,631.7 1924.9,632.9 1925.3,634.2 1925.8,635.5 1925.9,635.8 1926.2,636.8 1926.6,638.0 1927.0,639.2 1927.2,639.6 1927.5,640.3 1927.9,641.5 1928.3,642.6 1928.5,643.1 1928.8,643.6 1929.2,644.7 1929.6,645.7 1929.9,646.3 1930.0,646.7 1930.5,647.6 1930.9,648.5 1931.2,649.2 1931.3,649.4 1931.7,650.3 1932.2,651.1 1932.5,651.8 1932.6,651.9 1933.0,652.7 1933.4,653.5 1933.9,654.3 1934.3,655.0 1934.7,655.7 1935.2,656.5 1935.2,656.6 1935.6,657.2 1936.0,657.9 1936.5,658.7 1937.9,660.8 1939.2,662.7 1940.5,664.6 1941.9,666.3 1943.2,668.0 1944.5,669.6 1945.9,671.0 1947.2,672.4 1948.6,673.7 1949.9,674.9 1951.2,676.1 1952.6,677.2 1953.9,678.2 1955.2,679.2 1956.6,680.2 1957.9,681.0 1959.2,681.9 1960.6,682.7 1961.9,683.5 1963.2,684.2 1964.6,684.9 1965.9,685.5 1967.2,686.1 1968.6,686.7 1969.9,687.3 1971.2,687.8 1972.6,688.3 1973.9,688.7 1975.2,689.2 1976.6,689.6 1977.9,690.0 1979.2,690.3 1980.6,690.7 1981.9,691.0 1983.2,691.3 1984.6,691.6 1985.9,692.0 1987.2,692.3 1988.6,692.6 1989.9,692.9 1991.3,693.2 1992.6,693.6 1993.9,693.9 1995.3,694.1 1996.6,694.4 1997.9,694.7 1999.3,695.0 2000.6,695.3 2001.9,695.5 2003.3,695.8 2004.6,696.0 2005.9,696.3 2007.3,696.5 2008.6,696.7 2009.9,696.9 2011.3,697.1 2012.6,697.3 2013.9,697.5 2015.3,697.7 2016.6,697.9 2017.9,698.1 2019.3,698.3 2020.6,698.4 2021.9,698.6 2023.3,698.8 2024.6,698.9 2025.9,699.1 2027.3,699.3 2028.6,699.4 2030.0,699.5 2031.3,699.7 2032.6,699.8 2034.0,699.9 2035.3,700.1 2036.6,700.2 2038.0,700.3 2039.3,700.4 2040.6,700.5 2042.0,700.7 2043.3,700.8 2044.6,700.9 2046.0,701.0 2047.3,701.1 2048.6,701.2 2050.0,701.3 2051.3,701.3 2052.6,701.4 2054.0,701.5 2055.3,701.6 2056.6,701.7 2058.0,701.8 2059.3,701.9 2060.6,701.9 2062.0,702.0 2063.3,702.1 2064.6,702.2 2066.0,702.2 2067.3,702.3 2068.6,702.4 2070.0,702.4 2071.3,702.5 2072.7,702.6 2074.0,702.6 2075.3,702.7 2076.7,702.8 2078.0,702.8 2079.3,702.9 2080.7,702.9 2082.0,703.0 2083.3,703.1 2084.7,703.1 2086.0,703.2 2087.3,703.2 2088.7,703.3 2090.0,703.3 2091.3,703.4 2092.7,703.4 2094.0,703.5" stroke="#222222" stroke-width="1.1"/>
<polyline points="1667.0,701.9 1668.3,701.9 1669.7,701.9 1671.0,701.8 1672.3,701.8 1673.7,701.8 1675.0,701.7 1676.3,701.7 1677.7,701.6 1679.0,701.6 1680.3,701.5 1681.7,701.5 1683.0,701.5 1684.3,701.4 1685.7,701.3 1687.0,701.3 1688.3,701.2 1689.7,701.2 1691.0,701.1 1692.4,701.1 1693.7,701.0 1695.0,700.9 1696.4,700.9 1697.7,700.8 1699.0,700.7 1700.4,700.7 1701.7,700.6 1703.0,700.5 1704.4,700.4 1705.7,700.3 1707.0,700.3 1708.4,700.2 1709.7,700.1 1711.0,700.0 1712.4,699.9 1713.7,699.8 1715.0,699.7 1716.4,699.6 1717.7,699.5 1719.0,699.4 1720.4,699.3 1721.7,699.2 1723.0,699.0 1724.4,698.9 1725.7,698.8 1727.0,698.6 1728.4,698.5 1729.7,698.3 1731.0,698.1 1732.4,698.0 1733.7,697.8 1735.1,697.6 1736.4,697.4 1737.7,697.2 1739.1,697.0 1740.4,696.8 1741.7,696.5 1743.1,696.3 1744.4,696.1 1745.7,695.9 1747.1,695.6 1748.4,695.4 1749.7,695.2 1751.1,694.9 1752.4,694.7 1753.7,694.5 1755.1,694.2 1756.4,694.0 1757.7,693.8 1759.1,693.6 1760.4,693.3 1761.7,693.0 1763.1,692.7 1764.4,692.4 1765.7,692.0 1767.1,691.6 1768.4,691.3 1769.7,691.0 1771.1,690.7 1772.4,690.3 1773.8,690.0 1775.1,689.7 1776.4,689.3 1777.8,688.9 1779.1,688.5 1780.4,688.0 1781.8,687.5 1783.1,687.0 1784.4,686.4 1785.8,685.9 1787.1,685.3 1788.4,684.8 1789.8,684.2 1791.1,683.5 1792.4,682.8 1793.8,682.1 1795.1,681.4 1796.4,680.5 1797.8,679.7 1799.1,678.8 1800.4,677.9 1801.8,677.0 1803.1,676.0 1804.4,675.0 1805.8,673.9 1807.1,672.8 1808.4,671.5 1809.8,670.2 1811.1,668.8 1812.4,667.3 1813.8,665.7 1815.1,664.0 1816.5,662.2 1817.8,660.3 1819.1,658.2 1820.5,656.0 1821.8,653.7 1823.1,651.2 1824.5,648.7 1824.8,648.1 1825.2,647.3 1825.6,646.5 1825.8,646.2 1826.1,645.7 1826.5,644.9 1826.9,644.0 1827.1,643.6 1827.3,643.1 1827.8,642.2 1828.2,641.3 1828.5,640.7 1828.6,640.3 1829.0,639.3 1829.5,638.2 1829.8,637.4 1829.9,637.1 1830.3,636.0 1830.8,634.7 1831.1,633.6 1831.2,633.4 1831.6,632.0 1832.0,630.5 1832.5,628.9 1832.9,627.2 1833.3,625.4 1833.7,623.5 1833.8,623.3 1834.2,621.6 1834.6,619.6 1835.0,617.7 1835.1,617.2 1835.5,615.6 1835.9,613.5 1836.3,611.3 1836.5,610.5 1836.7,609.0 1837.2,606.7 1837.6,604.2 1837.8,603.0 1838.0,601.7 1838.4,599.2 1838.9,596.6 1839.1,595.0 1839.3,594.1 1839.7,591.5 1840.1,588.9 1840.5,587.0 1840.6,586.4 1841.0,584.0 1841.4,581.8 1841.8,580.0 1841.9,579.7 1842.3,577.4 1842.7,574.7 1843.1,570.9 1843.6,565.6 1844.0,559.0 1844.1,557.6 1844.2,556.2 1844.2,554.7 1844.3,553.3 1844.4,551.8 1844.5,550.9 1844.5,550.3 1844.6,548.9 1844.7,547.4 1844.8,546.0 1844.8,544.6 1844.9,543.2 1845.0,541.9 1845.1,540.6 1845.2,539.3 1845.3,538.2 1845.4,537.1 1845.4,536.0 1845.5,535.1 1845.6,534.3 1845.7,533.5 1845.8,532.9 1845.8,532.8 1845.9,532.4 1846.0,532.1 1846.0,531.8 1846.1,531.8 1846.2,531.8 1846.3,531.9 1846.4,532.0 1846.5,532.2 1846.6,532.4 1846.6,532.7 1846.7,533.0 1846.8,533.3 1846.9,533.7 1847.0,534.2 1847.1,534.7 1847.1,535.1 1847.2,535.2 1847.2,535.7 1847.3,536.3 1847.4,536.9 1847.5,537.6 1847.6,538.3 1847.7,539.0 1847.7,539.7 1847.8,540.4 1847.9,541.2 1848.0,542.0 1848.1,542.8 1848.2,543.6 1848.3,544.5 1848.5,546.6 1848.7,548.8 1849.1,553.3 1849.5,557.6 1849.8,560.2 1850.0,561.7 1850.4,565.3 1850.8,568.3 1851.1,570.1 1851.3,570.6 1851.7,572.8 1852.1,574.9 1852.5,576.8 1852.5,577.0 1853.0,579.0 1853.4,580.9 1853.8,582.7 1854.2,584.4 1854.7,586.0 1855.1,587.4 1855.1,587.6 1855.5,588.7 1855.9,589.8 1856.4,590.8 1856.5,591.0 1856.8,591.5 1857.2,592.3 1857.7,592.9 1857.8,593.2 1858.1,593.6 1858.5,594.2 1858.9,594.7 1859.2,595.0 1859.4,595.3 1859.8,595.8 1860.2,596.2 1860.5,596.5 1860.6,596.7 1861.1,597.1 1861.5,597.5 1861.8,597.8 1861.9,597.9 1862.4,598.3 1862.8,598.7 1863.2,599.0 1863.2,599.0 1863.6,599.4 1864.1,599.7 1864.5,600.1 1864.9,600.4 1865.3,600.8 1865.8,601.1 1865.8,601.1 1866.2,601.5 1866.6,601.8 1867.0,602.2 1867.2,602.2 1867.5,602.5 1868.5,603.4 1869.8,604.4 1871.2,605.5 1872.5,606.5 1873.8,607.4 1875.2,608.2 1876.5,608.9 1877.8,609.4 1879.2,609.7 1880.5,609.8 1881.8,609.7 1883.2,609.4 1884.5,608.9 1885.8,608.2 1887.2,607.4 1888.5,606.5 1889.8,605.5 1891.2,604.4 1892.5,603.4 1893.5,602.5 1893.8,602.2 1894.0,602.2 1894.4,601.8 1894.8,601.5 1895.2,601.1 1895.2,601.1 1895.7,600.8 1896.1,600.4 1896.5,600.1 1896.9,599.7 1897.4,599.4 1897.8,599.0 1897.8,599.0 1898.2,598.7 1898.6,598.3 1899.1,597.9 1899.2,597.8 1899.5,597.5 1899.9,597.1 1900.4,596.7 1900.5,596.5 1900.8,596.2 1901.2,595.8 1901.6,595.3 1901.8,595.0 1902.1,594.7 1902.5,594.2 1902.9,593.6 1903.2,593.2 1903.3,592.9 1903.8,592.3 1904.2,591.5 1904.5,591.0 1904.6,590.8 1905.1,589.8 1905.5,588.7 1905.9,587.6 1905.9,587.4 1906.3,586.0 1906.8,584.4 1907.2,582.7 1907.6,580.9 1908.0,579.0 1908.5,577.0 1908.5,576.8 1908.9,574.9 1909.3,572.8 1909.7,570.6 1909.9,570.1 1910.2,568.3 1910.6,565.3 1911.0,561.7 1911.2,560.2 1911.5,557.6 1911.9,553.3 1912.3,548.8 1912.5,546.6 1912.7,544.5 1912.8,543.6 1912.9,542.8 1913.0,542.0 1913.1,541.2 1913.2,540.4 1913.3,539.7 1913.3,539.0 1913.4,538.3 1913.5,537.6 1913.6,536.9 1913.7,536.3 1913.8,535.7 1913.8,535.2 1913.9,535.1 1913.9,534.7 1914.0,534.2 1914.1,533.7 1914.2,533.3 1914.3,533.0 1914.4,532.7 1914.4,532.4 1914.5,532.2 1914.6,532.0 1914.7,531.9 1914.8,531.8 1914.9,531.8 1915.0,531.8 1915.0,532.1 1915.1,532.4 1915.2,532.8 1915.2,532.9 1915.3,533.5 1915.4,534.3 1915.5,535.1 1915.6,536.0 1915.6,537.1 1915.7,538.2 1915.8,539.3 1915.9,540.6 1916.0,541.9 1916.1,543.2 1916.2,544.6 1916.2,546.0 1916.3,547.4 1916.4,548.9 1916.5,550.3 1916.5,550.9 1916.6,551.8 1916.7,553.3 1916.8,554.7 1916.8,556.2 1916.9,557.6 1917.0,559.0 1917.4,565.6 1917.9,570.9 1918.3,574.7 1918.7,577.4 1919.1,579.7 1919.2,580.0 1919.6,581.8 1920.0,584.0 1920.4,586.4 1920.5,587.0 1920.9,588.9 1921.3,591.5 1921.7,594.1 1921.9,595.0 1922.1,596.6 1922.6,599.2 1923.0,601.7 1923.2,603.0 1923.4,604.2 1923.8,606.7 1924.3,609.0 1924.5,610.5 1924.7,611.3 1925.1,613.5 1925.5,615.6 1925.9,617.2 1926.0,617.7 1926.4,619.6 1926.8,621.6 1927.2,623.3 1927.3,623.5 1927.7,625.4 1928.1,627.2 1928.5,628.9 1929.0,630.5 1929.4,632.0 1929.8,633.4 1929.9,633.6 1930.2,634.7 1930.7,636.0 1931.1,637.1 1931.2,637.4 1931.5,638.2 1932.0,639.3 1932.4,640.3 1932.5,640.7 1932.8,641.3 1933.2,642.2 1933.7,643.1 1933.9,643.6 1934.1,644.0 1934.5,644.9 1934.9,645.7 1935.2,646.2 1935.4,646.5 1935.8,647.3 1936.2,648.1 1936.5,648.7 1937.9,651.2 1939.2,653.7 1940.5,656.0 1941.9,658.2 1943.2,660.3 1944.5,662.2 1945.9,664.0 1947.2,665.7 1948.6,667.3 1949.9,668.8 1951.2,670.2 1952.6,671.5 1953.9,672.8 1955.2,673.9 1956.6,675.0 1957.9,676.0 1959.2,677.0 1960.6,677.9 1961.9,678.8 1963.2,679.7 1964.6,680.5 1965.9,681.4 1967.2,682.1 1968.6,682.8 1969.9,683.5 1971.2,684.2 1972.6,684.8 1973.9,685.3 1975.2,685.9 1976.6,686.4 1977.9,687.0 1979.2,687.5 1980.6,688.0 1981.9,688.5 1983.2,688.9 1984.6,689.3 1985.9,689.7 1987.2,690.0 1988.6,690.3 1989.9,690.7 1991.3,691.0 1992.6,691.3 1993.9,691.6 1995.3,692.0 1996.6,692.4 1997.9,692.7 1999.3,693.0 2000.6,693.3 2001.9,693.6 2003.3,693.8 2004.6,694.0 2005.9,694.2 2007.3,694.5 2008.6,694.7 2009.9,694.9 2011.3,695.2 2012.6,695.4 2013.9,695.6 2015.3,695.9 2016.6,696.1 2017.9,696.3 2019.3,696.5 2020.6,696.8 2021.9,697.0 2023.3,697.2 2024.6,697.4 2025.9,697.6 2027.3,697.8 2028.6,698.0 2030.0,698.1 2031.3,698.3 2032.6,698.5 2034.0,698.6 2035.3,698.8 2036.6,698.9 2038.0,699.0 2039.3,699.2 2040.6,699.3 2042.0,699.4 2043.3,699.5 2044.6,699.6 2046.0,699.7 2047.3,699.8 2048.6,699.9 2050.0,700.0 2051.3,700.1 2052.6,700.2 2054.0,700.3 2055.3,700.3 2056.6,700.4 2058.0,700.5 2059.3,700.6 2060.6,700.7 2062.0,700.7 2063.3,700.8 2064.6,700.9 2066.0,700.9 2067.3,701.0 2068.6,701.1 2070.0,701.1 2071.3,701.2 2072.7,701.2 2074.0,701.3 2075.3,701.3 2076.7,701.4 2078.0,701.5 2079.3,701.5 2080.7,701.5 2082.0,701.6 2083.3,701.6 2084.7,701.7 2086.0,701.7 2087.3,701.8 2088.7,701.8 2090.0,701.8 2091.3,701.9 2092.7,701.9 2094.0,701.9" stroke="#2C4A66" stroke-width="1.3"/>
</g>
<rect x="1667" y="507.7" width="427" height="202.3" fill="none" stroke="#383838" stroke-width="1.25"/>
<text x="1643.02" y="715.57" font-family="'Liberation Sans', Arial, Helvetica, sans-serif" font-size="29.2" font-weight="normal" font-style="normal" fill="#000" >0</text>
<line x1="1667" y1="609.3" x2="1674" y2="609.3" stroke="#383838" stroke-width="1.25"/>
<line x1="2094" y1="609.3" x2="2087" y2="609.3" stroke="#383838" stroke-width="1.25"/>
<text x="1626.81" y="622.57" font-family="'Liberation Sans', Arial, Helvetica, sans-serif" font-size="29.2" font-weight="normal" font-style="normal" fill="#000" >20</text>
<line x1="1667" y1="508.6" x2="1674" y2="508.6" stroke="#383838" stroke-width="1.25"/>
<line x1="2094" y1="508.6" x2="2087" y2="508.6" stroke="#383838" stroke-width="1.25"/>
<text x="1626.81" y="528.07" font-family="'Liberation Sans', Arial, Helvetica, sans-serif" font-size="29.2" font-weight="normal" font-style="normal" fill="#000" >40</text>
<text x="1660.13" y="746.11" font-family="'Liberation Sans', Arial, Helvetica, sans-serif" font-size="29.2" font-weight="normal" font-style="normal" fill="#000" >-5</text>
<line x1="1880.5" y1="710" x2="1880.5" y2="703" stroke="#383838" stroke-width="1.25"/>
<line x1="1880.5" y1="507.7" x2="1880.5" y2="514.7" stroke="#383838" stroke-width="1.25"/>
<text x="1873.82" y="746.11" font-family="'Liberation Sans', Arial, Helvetica, sans-serif" font-size="29.2" font-weight="normal" font-style="normal" fill="#000" >0</text>
<text x="2083.4" y="746.11" font-family="'Liberation Sans', Arial, Helvetica, sans-serif" font-size="29.2" font-weight="normal" font-style="normal" fill="#000" >5</text>
<text x="1848.95" y="777.69" font-family="'Liberation Serif', 'Times New Roman', serif" font-size="31" font-weight="normal" font-style="italic" fill="#000" >ω</text>
<text x="1872.48" y="781.85" font-family="'DejaVu Sans', sans-serif" font-size="39.5" font-weight="200" font-style="normal" fill="#000" >/</text>
<text x="1887.94" y="777.8" font-family="'Liberation Serif', 'Times New Roman', serif" font-size="33" font-weight="normal" font-style="italic" fill="#000" >κ</text>
<polygon points="1697.3,521.1 1702.65,531.94 1714.61,533.68 1705.95,542.11 1708,554.02 1697.3,548.4 1686.6,554.02 1688.65,542.11 1679.99,533.68 1691.95,531.94" fill="#F8064F"/>
<line x1="1039.7" y1="503" x2="1039.7" y2="508.3" stroke="#333" stroke-width="1.1"/>
<text transform="translate(346.38,549.8) scale(1.17,1)" font-family="'Liberation Serif', 'Times New Roman', serif" font-size="38.8" font-weight="normal" font-style="normal" fill="#139A13" >Δ</text>
<text x="377.53" y="548.06" font-family="'Liberation Serif', 'Times New Roman', serif" font-size="31.5" font-weight="normal" font-style="normal" fill="#139A13" >=</text>
<text x="397.32" y="545.83" font-family="'Liberation Sans', Arial, Helvetica, sans-serif" font-size="27" font-weight="normal" font-style="normal" fill="#139A13" >0</text>
<text transform="translate(1332.88,551.6) scale(1.17,1)" font-family="'Liberation Serif', 'Times New Roman', serif" font-size="38.8" font-weight="normal" font-style="normal" fill="#139A13" >Δ</text>
<text x="1364.02" y="549.86" font-family="'Liberation Serif', 'Times New Roman', serif" font-size="31.5" font-weight="normal" font-style="normal" fill="#139A13" >=</text>
<text x="1383.82" y="547.63" font-family="'Liberation Sans', Arial, Helvetica, sans-serif" font-size="27" font-weight="normal" font-style="normal" fill="#139A13" >0</text>
<text transform="translate(770.46,552.5) scale(1.1,1)" font-family="'Liberation Serif', 'Times New Roman', serif" font-size="37.2" font-weight="normal" font-style="normal" fill="#139A13" >Δ</text>
<text x="798.22" y="555.31" font-family="'DejaVu Sans', sans-serif" font-size="38.8" font-weight="200" font-style="normal" fill="#139A13" >/</text>
<text x="812.91" y="551.2" font-family="'Liberation Serif', 'Times New Roman', serif" font-size="31" font-weight="normal" font-style="italic" fill="#139A13" >κ</text>
<text transform="translate(1776.36,551.3) scale(1.1,1)" font-family="'Liberation Serif', 'Times New Roman', serif" font-size="37.2" font-weight="normal" font-style="normal" fill="#139A13" >Δ</text>
<text x="1804.12" y="554.11" font-family="'DejaVu Sans', sans-serif" font-size="38.8" font-weight="200" font-style="normal" fill="#139A13" >/</text>
<text x="1818.82" y="550" font-family="'Liberation Serif', 'Times New Roman', serif" font-size="31" font-weight="normal" font-style="italic" fill="#139A13" >κ</text>
<line x1="811.2" y1="521" x2="831" y2="521" stroke="#2E9A2E" stroke-width="1.7"/>
<polygon points="841.6,521 830.1,514.6 830.1,527.7" fill="#139A13"/>
<line x1="869" y1="521" x2="889" y2="521" stroke="#2E9A2E" stroke-width="1.7"/>
<polygon points="858.3,521 869.8,514.6 869.8,527.7" fill="#139A13"/>
<line x1="1857" y1="534" x2="1903" y2="534" stroke="#139A13" stroke-width="2.0"/>
<polygon points="1846.3,534 1858.9,526.8 1858.9,541.6" fill="#139A13"/>
<polygon points="1914.3,534 1900.9,526.8 1900.9,541.6" fill="#139A13"/>
<line x1="105.6" y1="873.6" x2="105.6" y2="1108.33" stroke="#383838" stroke-width="1.25"/>
<line x1="104.97" y1="1107.7" x2="993.02" y2="1107.7" stroke="#383838" stroke-width="1.25"/>
<text x="76.62" y="1119.07" font-family="'Liberation Sans', Arial, Helvetica, sans-serif" font-size="29.2" font-weight="normal" font-style="normal" fill="#000" >0</text>
<line x1="105.6" y1="1005.1" x2="112.6" y2="1005.1" stroke="#383838" stroke-width="1.25"/>
<text x="52.53" y="1017.47" font-family="'Liberation Sans', Arial, Helvetica, sans-serif" font-size="29.2" font-weight="normal" font-style="normal" fill="#000" >0.1</text>
<line x1="105.6" y1="902.5" x2="112.6" y2="902.5" stroke="#383838" stroke-width="1.25"/>
<text x="52.67" y="914.57" font-family="'Liberation Sans', Arial, Helvetica, sans-serif" font-size="29.2" font-weight="normal" font-style="normal" fill="#000" >0.2</text>
<line x1="156.86" y1="1107.7" x2="156.86" y2="1099.7" stroke="#383838" stroke-width="1.25"/>
<text x="140.73" y="1149.51" font-family="'Liberation Sans', Arial, Helvetica, sans-serif" font-size="29.2" font-weight="normal" font-style="normal" fill="#000" >-45</text>
<line x1="331.06" y1="1107.7" x2="331.06" y2="1099.7" stroke="#383838" stroke-width="1.25"/>
<text x="313.33" y="1149.51" font-family="'Liberation Sans', Arial, Helvetica, sans-serif" font-size="29.2" font-weight="normal" font-style="normal" fill="#000" >-25</text>
<line x1="505.26" y1="1107.7" x2="505.26" y2="1099.7" stroke="#383838" stroke-width="1.25"/>
<text x="495.33" y="1149.51" font-family="'Liberation Sans', Arial, Helvetica, sans-serif" font-size="29.2" font-weight="normal" font-style="normal" fill="#000" >-5</text>
<line x1="592.36" y1="1107.7" x2="592.36" y2="1099.7" stroke="#383838" stroke-width="1.25"/>
<text x="583.3" y="1149.51" font-family="'Liberation Sans', Arial, Helvetica, sans-serif" font-size="29.2" font-weight="normal" font-style="normal" fill="#000" >5</text>
<line x1="766.56" y1="1107.7" x2="766.56" y2="1099.7" stroke="#383838" stroke-width="1.25"/>
<text x="747.45" y="1149.51" font-family="'Liberation Sans', Arial, Helvetica, sans-serif" font-size="29.2" font-weight="normal" font-style="normal" fill="#000" >25</text>
<line x1="940.76" y1="1107.7" x2="940.76" y2="1099.7" stroke="#383838" stroke-width="1.25"/>
<text x="922.39" y="1149.51" font-family="'Liberation Sans', Arial, Helvetica, sans-serif" font-size="29.2" font-weight="normal" font-style="normal" fill="#000" >45</text>
<circle cx="104.6" cy="1107.7" r="7.2" fill="#FF0000"/>
<circle cx="122.02" cy="1107.7" r="7.2" fill="#FF1900"/>
<circle cx="139.44" cy="1107.7" r="7.2" fill="#FF3100"/>
<circle cx="156.86" cy="1107.7" r="7.2" fill="#FF4A00"/>
<circle cx="174.28" cy="1107.7" r="7.2" fill="#FF6200"/>
<circle cx="191.7" cy="1107.7" r="7.2" fill="#FF7B00"/>
<circle cx="209.12" cy="1107.7" r="7.2" fill="#FF9300"/>
<circle cx="226.54" cy="1107.7" r="7.2" fill="#FFAC00"/>
<circle cx="243.96" cy="1107.7" r="7.2" fill="#FFC500"/>
<circle cx="261.38" cy="1105.65" r="7.2" fill="#FFDD00"/>
<circle cx="278.8" cy="1103.6" r="7.2" fill="#FFF600"/>
<circle cx="296.22" cy="1101.54" r="7.2" fill="#F0FF00"/>
<circle cx="313.64" cy="1095.39" r="7.2" fill="#D7FF00"/>
<circle cx="331.06" cy="1087.18" r="7.2" fill="#BEFF00"/>
<circle cx="348.48" cy="1072.82" r="7.2" fill="#A6FF00"/>
<circle cx="365.9" cy="1050.24" r="7.2" fill="#8DFF00"/>
<circle cx="383.32" cy="1020.49" r="7.2" fill="#75FF00"/>
<circle cx="400.74" cy="982.53" r="7.2" fill="#5CFF00"/>
<circle cx="418.16" cy="940.46" r="7.2" fill="#43FF00"/>
<circle cx="435.58" cy="901.47" r="7.2" fill="#2BFF00"/>
<circle cx="453" cy="874.8" r="7.2" fill="#12FF00"/>
<circle cx="470.42" cy="873.77" r="7.2" fill="#00FF06"/>
<circle cx="487.84" cy="901.47" r="7.2" fill="#00FF1F"/>
<circle cx="505.26" cy="954.83" r="7.2" fill="#00FF37"/>
<circle cx="522.68" cy="1026.65" r="7.2" fill="#00FF50"/>
<circle cx="540.1" cy="1089.23" r="7.2" fill="#00FF69"/>
<circle cx="557.52" cy="1039.98" r="7.2" fill="#00FF81"/>
<circle cx="574.94" cy="988.68" r="7.2" fill="#00FF9A"/>
<circle cx="592.36" cy="946.62" r="7.2" fill="#00FFB2"/>
<circle cx="609.78" cy="912.76" r="7.2" fill="#00FFCB"/>
<circle cx="627.2" cy="895.32" r="7.2" fill="#00FFE3"/>
<circle cx="644.62" cy="900.45" r="7.2" fill="#00FFFC"/>
<circle cx="662.04" cy="926.1" r="7.2" fill="#00E9FF"/>
<circle cx="679.46" cy="962.01" r="7.2" fill="#00D1FF"/>
<circle cx="696.88" cy="1002.02" r="7.2" fill="#00B8FF"/>
<circle cx="714.3" cy="1034.85" r="7.2" fill="#00A0FF"/>
<circle cx="731.72" cy="1060.5" r="7.2" fill="#0087FF"/>
<circle cx="749.14" cy="1078.97" r="7.2" fill="#006EFF"/>
<circle cx="766.56" cy="1091.28" r="7.2" fill="#0056FF"/>
<circle cx="783.98" cy="1098.47" r="7.2" fill="#003DFF"/>
<circle cx="801.4" cy="1102.57" r="7.2" fill="#0025FF"/>
<circle cx="818.82" cy="1105.65" r="7.2" fill="#000CFF"/>
<circle cx="836.24" cy="1107.7" r="7.2" fill="#0C00FF"/>
<circle cx="853.66" cy="1107.7" r="7.2" fill="#2500FF"/>
<circle cx="871.08" cy="1107.7" r="7.2" fill="#3E00FF"/>
<circle cx="888.5" cy="1107.7" r="7.2" fill="#5600FF"/>
<circle cx="905.92" cy="1107.7" r="7.2" fill="#6F00FF"/>
<circle cx="923.34" cy="1107.7" r="7.2" fill="#8700FF"/>
<circle cx="940.76" cy="1107.7" r="7.2" fill="#A000FF"/>
<circle cx="958.18" cy="1107.7" r="7.2" fill="#B900FF"/>
<circle cx="975.6" cy="1107.7" r="7.2" fill="#D100FF"/>
<circle cx="993.02" cy="1107.7" r="7.2" fill="#EA00FF"/>
<text transform="translate(539.34,1170.23) scale(1.12,1)" font-family="'Liberation Serif', 'Times New Roman', serif" font-size="40.5" font-weight="normal" font-style="italic" fill="#000" >μ</text>
<text transform="translate(47.77,1031.43) rotate(-90)" font-family="'Liberation Sans', Arial, Helvetica, sans-serif" font-size="29.2" font-weight="normal" font-style="normal" fill="#000">|Amp|</text>
<polygon points="168.9,886.2 174.19,896.92 186.02,898.64 177.46,906.98 179.48,918.76 168.9,913.2 158.32,918.76 160.34,906.98 151.78,898.64 163.61,896.92" fill="#7F48AC"/>
<line x1="1161" y1="876.4" x2="1161" y2="1110.33" stroke="#383838" stroke-width="1.25"/>
<line x1="1160.38" y1="1109.7" x2="2050.04" y2="1109.7" stroke="#383838" stroke-width="1.25"/>
<text x="1132.32" y="1120.07" font-family="'Liberation Sans', Arial, Helvetica, sans-serif" font-size="29.2" font-weight="normal" font-style="normal" fill="#000" >0</text>
<line x1="1161" y1="1031.93" x2="1168" y2="1031.93" stroke="#383838" stroke-width="1.25"/>
<text x="1108.23" y="1043.07" font-family="'Liberation Sans', Arial, Helvetica, sans-serif" font-size="29.2" font-weight="normal" font-style="normal" fill="#000" >0.1</text>
<line x1="1161" y1="954.16" x2="1168" y2="954.16" stroke="#383838" stroke-width="1.25"/>
<text x="1108.37" y="965.57" font-family="'Liberation Sans', Arial, Helvetica, sans-serif" font-size="29.2" font-weight="normal" font-style="normal" fill="#000" >0.2</text>
<line x1="1161" y1="876.39" x2="1168" y2="876.39" stroke="#383838" stroke-width="1.25"/>
<text x="1108.08" y="888.07" font-family="'Liberation Sans', Arial, Helvetica, sans-serif" font-size="29.2" font-weight="normal" font-style="normal" fill="#000" >0.3</text>
<line x1="1212.92" y1="1109.7" x2="1212.92" y2="1101.7" stroke="#383838" stroke-width="1.25"/>
<text x="1195.23" y="1149.91" font-family="'Liberation Sans', Arial, Helvetica, sans-serif" font-size="29.2" font-weight="normal" font-style="normal" fill="#000" >-45</text>
<line x1="1387.32" y1="1109.7" x2="1387.32" y2="1101.7" stroke="#383838" stroke-width="1.25"/>
<text x="1367.63" y="1149.91" font-family="'Liberation Sans', Arial, Helvetica, sans-serif" font-size="29.2" font-weight="normal" font-style="normal" fill="#000" >-25</text>
<line x1="1561.72" y1="1109.7" x2="1561.72" y2="1101.7" stroke="#383838" stroke-width="1.25"/>
<text x="1549.63" y="1149.91" font-family="'Liberation Sans', Arial, Helvetica, sans-serif" font-size="29.2" font-weight="normal" font-style="normal" fill="#000" >-5</text>
<line x1="1648.92" y1="1109.7" x2="1648.92" y2="1101.7" stroke="#383838" stroke-width="1.25"/>
<text x="1642.2" y="1149.91" font-family="'Liberation Sans', Arial, Helvetica, sans-serif" font-size="29.2" font-weight="normal" font-style="normal" fill="#000" >5</text>
<line x1="1823.32" y1="1109.7" x2="1823.32" y2="1101.7" stroke="#383838" stroke-width="1.25"/>
<text x="1807.45" y="1149.91" font-family="'Liberation Sans', Arial, Helvetica, sans-serif" font-size="29.2" font-weight="normal" font-style="normal" fill="#000" >25</text>
<line x1="1997.72" y1="1109.7" x2="1997.72" y2="1101.7" stroke="#383838" stroke-width="1.25"/>
<text x="1982.29" y="1149.91" font-family="'Liberation Sans', Arial, Helvetica, sans-serif" font-size="29.2" font-weight="normal" font-style="normal" fill="#000" >45</text>
<circle cx="1160.6" cy="1109.7" r="7.2" fill="#FF0000"/>
<circle cx="1178.04" cy="1109.7" r="7.2" fill="#FF1900"/>
<circle cx="1195.48" cy="1109.7" r="7.2" fill="#FF3100"/>
<circle cx="1212.92" cy="1109.7" r="7.2" fill="#FF4A00"/>
<circle cx="1230.36" cy="1109.7" r="7.2" fill="#FF6200"/>
<circle cx="1247.8" cy="1109.7" r="7.2" fill="#FF7B00"/>
<circle cx="1265.24" cy="1109.7" r="7.2" fill="#FF9300"/>
<circle cx="1282.68" cy="1109.7" r="7.2" fill="#FFAC00"/>
<circle cx="1300.12" cy="1109.7" r="7.2" fill="#FFC500"/>
<circle cx="1317.56" cy="1109.7" r="7.2" fill="#FFDD00"/>
<circle cx="1335" cy="1109.7" r="7.2" fill="#FFF600"/>
<circle cx="1352.44" cy="1109.7" r="7.2" fill="#F0FF00"/>
<circle cx="1369.88" cy="1108.92" r="7.2" fill="#D7FF00"/>
<circle cx="1387.32" cy="1107.37" r="7.2" fill="#BEFF00"/>
<circle cx="1404.76" cy="1106.59" r="7.2" fill="#A6FF00"/>
<circle cx="1422.2" cy="1105.81" r="7.2" fill="#8DFF00"/>
<circle cx="1439.64" cy="1107.37" r="7.2" fill="#75FF00"/>
<circle cx="1457.08" cy="1106.59" r="7.2" fill="#5CFF00"/>
<circle cx="1474.52" cy="1093.37" r="7.2" fill="#43FF00"/>
<circle cx="1491.96" cy="1067.7" r="7.2" fill="#2BFF00"/>
<circle cx="1509.4" cy="1030.37" r="7.2" fill="#12FF00"/>
<circle cx="1526.84" cy="994.6" r="7.2" fill="#00FF06"/>
<circle cx="1544.28" cy="982.93" r="7.2" fill="#00FF1F"/>
<circle cx="1561.72" cy="1024.93" r="7.2" fill="#00FF37"/>
<circle cx="1579.16" cy="1096.48" r="7.2" fill="#00FF50"/>
<circle cx="1596.6" cy="975.16" r="7.2" fill="#00FF69"/>
<circle cx="1614.04" cy="891.94" r="7.2" fill="#00FF81"/>
<circle cx="1631.48" cy="888.83" r="7.2" fill="#00FF9A"/>
<circle cx="1648.92" cy="959.6" r="7.2" fill="#00FFB2"/>
<circle cx="1666.36" cy="1056.82" r="7.2" fill="#00FFCB"/>
<circle cx="1683.8" cy="1083.26" r="7.2" fill="#00FFE3"/>
<circle cx="1701.24" cy="1042.04" r="7.2" fill="#00FFFC"/>
<circle cx="1718.68" cy="1034.26" r="7.2" fill="#00E9FF"/>
<circle cx="1736.12" cy="1045.93" r="7.2" fill="#00D1FF"/>
<circle cx="1753.56" cy="1063.04" r="7.2" fill="#00B8FF"/>
<circle cx="1771" cy="1079.37" r="7.2" fill="#00A0FF"/>
<circle cx="1788.44" cy="1091.81" r="7.2" fill="#0087FF"/>
<circle cx="1805.88" cy="1099.59" r="7.2" fill="#006EFF"/>
<circle cx="1823.32" cy="1105.03" r="7.2" fill="#0056FF"/>
<circle cx="1840.76" cy="1106.59" r="7.2" fill="#003DFF"/>
<circle cx="1858.2" cy="1108.14" r="7.2" fill="#0025FF"/>
<circle cx="1875.64" cy="1109.7" r="7.2" fill="#000CFF"/>
<circle cx="1893.08" cy="1109.7" r="7.2" fill="#0C00FF"/>
<circle cx="1910.52" cy="1109.7" r="7.2" fill="#2500FF"/>
<circle cx="1927.96" cy="1109.7" r="7.2" fill="#3E00FF"/>
<circle cx="1945.4" cy="1109.7" r="7.2" fill="#5600FF"/>
<circle cx="1962.84" cy="1109.7" r="7.2" fill="#6F00FF"/>
<circle cx="1980.28" cy="1109.7" r="7.2" fill="#8700FF"/>
<circle cx="1997.72" cy="1109.7" r="7.2" fill="#A000FF"/>
<circle cx="2015.16" cy="1109.7" r="7.2" fill="#B900FF"/>
<circle cx="2032.6" cy="1109.7" r="7.2" fill="#D100FF"/>
<circle cx="2050.04" cy="1109.7" r="7.2" fill="#EA00FF"/>
<text transform="translate(1597.14,1170.23) scale(1.12,1)" font-family="'Liberation Serif', 'Times New Roman', serif" font-size="40.5" font-weight="normal" font-style="italic" fill="#000" >μ</text>
<text transform="translate(1082.37,1031.73) rotate(-90)" font-family="'Liberation Sans', Arial, Helvetica, sans-serif" font-size="29.2" font-weight="normal" font-style="normal" fill="#000">|Amp|</text>
<polygon points="1227.4,883.7 1232.6,894.24 1244.23,895.93 1235.82,904.13 1237.8,915.72 1227.4,910.25 1217,915.72 1218.98,904.13 1210.57,895.93 1222.2,894.24" fill="none" stroke="#EE00EE" stroke-width="3.0" stroke-linejoin="round"/>
</svg>
</body></html>
